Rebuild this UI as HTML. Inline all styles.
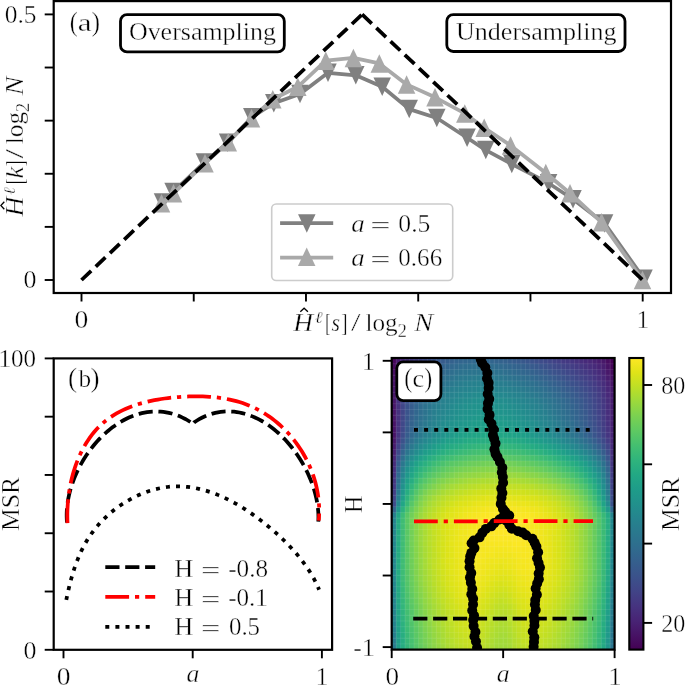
<!DOCTYPE html>
<html><head><meta charset="utf-8"><style>
html,body{margin:0;padding:0;background:#fff;}
svg{display:block;font-family:"Liberation Serif",serif;will-change:transform;}
text{stroke:#fff;stroke-width:0.4px;paint-order:fill stroke;}
</style></head><body>
<svg width="685" height="685" viewBox="0 0 685 685">
<rect width="685" height="685" fill="#fff"/>
<g>
<rect x="53.7" y="1.1" width="617.3" height="291.9" fill="none" stroke="#000" stroke-width="2.2"/>
<line x1="81.5" y1="293" x2="81.5" y2="301.5" stroke="#000" stroke-width="1.9"/>
<line x1="44.7" y1="280" x2="53.7" y2="280" stroke="#000" stroke-width="1.9"/>
<line x1="193.74" y1="293" x2="193.74" y2="301.5" stroke="#000" stroke-width="1.9"/>
<line x1="44.7" y1="226.88" x2="53.7" y2="226.88" stroke="#000" stroke-width="1.9"/>
<line x1="305.98" y1="293" x2="305.98" y2="301.5" stroke="#000" stroke-width="1.9"/>
<line x1="44.7" y1="173.76" x2="53.7" y2="173.76" stroke="#000" stroke-width="1.9"/>
<line x1="418.22" y1="293" x2="418.22" y2="301.5" stroke="#000" stroke-width="1.9"/>
<line x1="44.7" y1="120.64" x2="53.7" y2="120.64" stroke="#000" stroke-width="1.9"/>
<line x1="530.46" y1="293" x2="530.46" y2="301.5" stroke="#000" stroke-width="1.9"/>
<line x1="44.7" y1="67.52" x2="53.7" y2="67.52" stroke="#000" stroke-width="1.9"/>
<line x1="642.7" y1="293" x2="642.7" y2="301.5" stroke="#000" stroke-width="1.9"/>
<line x1="44.7" y1="14.4" x2="53.7" y2="14.4" stroke="#000" stroke-width="1.9"/>
<polyline points="162.5,202.5 173.1,192.1 204.4,162.4 227.6,142.7 251.8,117.3 273.8,103.2 300,94 328,72.8 355.8,75.3 382.2,86.7 409.2,109.1 436.8,118 467.1,137.7 485.8,150.1 511.8,164 548.6,183.2 573,199.3 604.6,223.4 644,278.8" fill="none" stroke="#808080" stroke-width="3.75" stroke-linejoin="round"/>
<path d="M153.75,193.25L171.25,193.25L162.5,211.75Z" fill="#808080"/>
<path d="M164.35,182.85L181.85,182.85L173.1,201.35Z" fill="#808080"/>
<path d="M195.65,153.15L213.15,153.15L204.4,171.65Z" fill="#808080"/>
<path d="M218.85,133.45L236.35,133.45L227.6,151.95Z" fill="#808080"/>
<path d="M243.05,108.05L260.55,108.05L251.8,126.55Z" fill="#808080"/>
<path d="M265.05,93.95L282.55,93.95L273.8,112.45Z" fill="#808080"/>
<path d="M291.25,84.75L308.75,84.75L300,103.25Z" fill="#808080"/>
<path d="M319.25,63.55L336.75,63.55L328,82.05Z" fill="#808080"/>
<path d="M347.05,66.05L364.55,66.05L355.8,84.55Z" fill="#808080"/>
<path d="M373.45,77.45L390.95,77.45L382.2,95.95Z" fill="#808080"/>
<path d="M400.45,99.85L417.95,99.85L409.2,118.35Z" fill="#808080"/>
<path d="M428.05,108.75L445.55,108.75L436.8,127.25Z" fill="#808080"/>
<path d="M458.35,128.45L475.85,128.45L467.1,146.95Z" fill="#808080"/>
<path d="M477.05,140.85L494.55,140.85L485.8,159.35Z" fill="#808080"/>
<path d="M503.05,154.75L520.55,154.75L511.8,173.25Z" fill="#808080"/>
<path d="M539.85,173.95L557.35,173.95L548.6,192.45Z" fill="#808080"/>
<path d="M564.25,190.05L581.75,190.05L573,208.55Z" fill="#808080"/>
<path d="M595.85,214.15L613.35,214.15L604.6,232.65Z" fill="#808080"/>
<path d="M635.25,269.55L652.75,269.55L644,288.05Z" fill="#808080"/>
<polyline points="161.5,203.2 173.5,193.3 205,163.3 228.3,142.2 251.5,118.2 272.8,99.3 297.8,86.8 325.8,60.7 353.4,57.9 379.3,63.4 406.6,84.4 435,97.3 464.8,113.4 484.2,127.7 510.6,145.5 545.8,173 570,193.2 601.6,222.3 642.5,280" fill="none" stroke="#a9a9a9" stroke-width="3.75" stroke-linejoin="round"/>
<path d="M152.75,212.45L170.25,212.45L161.5,193.95Z" fill="#a9a9a9"/>
<path d="M164.75,202.55L182.25,202.55L173.5,184.05Z" fill="#a9a9a9"/>
<path d="M196.25,172.55L213.75,172.55L205,154.05Z" fill="#a9a9a9"/>
<path d="M219.55,151.45L237.05,151.45L228.3,132.95Z" fill="#a9a9a9"/>
<path d="M242.75,127.45L260.25,127.45L251.5,108.95Z" fill="#a9a9a9"/>
<path d="M264.05,108.55L281.55,108.55L272.8,90.05Z" fill="#a9a9a9"/>
<path d="M289.05,96.05L306.55,96.05L297.8,77.55Z" fill="#a9a9a9"/>
<path d="M317.05,69.95L334.55,69.95L325.8,51.45Z" fill="#a9a9a9"/>
<path d="M344.65,67.15L362.15,67.15L353.4,48.65Z" fill="#a9a9a9"/>
<path d="M370.55,72.65L388.05,72.65L379.3,54.15Z" fill="#a9a9a9"/>
<path d="M397.85,93.65L415.35,93.65L406.6,75.15Z" fill="#a9a9a9"/>
<path d="M426.25,106.55L443.75,106.55L435,88.05Z" fill="#a9a9a9"/>
<path d="M456.05,122.65L473.55,122.65L464.8,104.15Z" fill="#a9a9a9"/>
<path d="M475.45,136.95L492.95,136.95L484.2,118.45Z" fill="#a9a9a9"/>
<path d="M501.85,154.75L519.35,154.75L510.6,136.25Z" fill="#a9a9a9"/>
<path d="M537.05,182.25L554.55,182.25L545.8,163.75Z" fill="#a9a9a9"/>
<path d="M561.25,202.45L578.75,202.45L570,183.95Z" fill="#a9a9a9"/>
<path d="M592.85,231.55L610.35,231.55L601.6,213.05Z" fill="#a9a9a9"/>
<path d="M633.75,289.25L651.25,289.25L642.5,270.75Z" fill="#a9a9a9"/>
<polyline points="81.5,280 362.1,14.4" fill="none" stroke="#000" stroke-width="3.75" stroke-dasharray="13.3 6.3"/>
<polyline points="362.1,14.4 642.7,280" fill="none" stroke="#000" stroke-width="3.75" stroke-dasharray="13.3 6.3"/>
<rect x="271.7" y="204" width="181" height="76.5" rx="4.5" fill="#fff" fill-opacity="0.8" stroke="#cccccc" stroke-width="1.6"/>
<line x1="280.1" y1="223" x2="333.2" y2="223" stroke="#808080" stroke-width="3.75"/>
<path d="M298.05,214.35L315.55,214.35L306.8,232.85Z" fill="#808080"/>
<line x1="280.1" y1="257.7" x2="333.2" y2="257.7" stroke="#a9a9a9" stroke-width="3.75"/>
<path d="M297.95,265.95L315.45,265.95L306.7,247.45Z" fill="#a9a9a9"/>
<text x="351.19" y="232" font-size="24.4" font-style="italic" textLength="13.52" lengthAdjust="spacingAndGlyphs" fill="#000">a</text>
<text x="370.2" y="234.1" font-size="24.4" textLength="20.36" lengthAdjust="spacingAndGlyphs" fill="#000">=</text>
<text x="398.32" y="232" font-size="24.4" textLength="32.08" lengthAdjust="spacingAndGlyphs" fill="#000">0.5</text>
<text x="351.19" y="265.6" font-size="24.4" font-style="italic" textLength="13.52" lengthAdjust="spacingAndGlyphs" fill="#000">a</text>
<text x="370.2" y="267.7" font-size="24.4" textLength="20.36" lengthAdjust="spacingAndGlyphs" fill="#000">=</text>
<text x="398.35" y="265.6" font-size="24.4" textLength="43.8" lengthAdjust="spacingAndGlyphs" fill="#000">0.66</text>
<rect x="120.5" y="14.7" width="163.8" height="37.2" rx="6.5" fill="#fff" stroke="#000" stroke-width="2.8"/>
<text x="128.9" y="39.7" font-size="25.8" text-anchor="start" textLength="147.1" lengthAdjust="spacingAndGlyphs" fill="#000">Oversampling</text>
<rect x="446.8" y="14.7" width="178.2" height="36.8" rx="6.5" fill="#fff" stroke="#000" stroke-width="2.8"/>
<text x="456" y="39.5" font-size="25.8" text-anchor="start" textLength="160.6" lengthAdjust="spacingAndGlyphs" fill="#000">Undersampling</text>
<text x="69.84" y="30.8" font-size="27.2" textLength="8.04" lengthAdjust="spacingAndGlyphs" fill="#000">(</text>
<text x="77.71" y="30.8" font-size="25.8" textLength="13.82" lengthAdjust="spacingAndGlyphs" fill="#000">a</text>
<text x="91.57" y="30.8" font-size="27.2" textLength="8.56" lengthAdjust="spacingAndGlyphs" fill="#000">)</text>
<text x="74.55" y="327.5" font-size="25.8" textLength="13.8" lengthAdjust="spacingAndGlyphs" fill="#000">0</text>
<text x="636.68" y="327.5" font-size="25.8" textLength="12.07" lengthAdjust="spacingAndGlyphs" fill="#000">1</text>
<text x="4.73" y="23.2" font-size="25.8" textLength="31.76" lengthAdjust="spacingAndGlyphs" fill="#000">0.5</text>
<text x="23.51" y="288.3" font-size="25.8" textLength="12.98" lengthAdjust="spacingAndGlyphs" fill="#000">0</text>
<g transform="translate(292.9,330.6)">
<text x="0.3" y="0" font-size="25.8" font-style="italic" textLength="19.87" lengthAdjust="spacingAndGlyphs" fill="#000">H</text>
<path d="M7.4,-18.9L11.2,-22.4L15,-18.9" fill="none" stroke="#000" stroke-width="1.3"/>
<text x="21.81" y="-7.9" font-size="16.5" font-style="italic" textLength="7.88" lengthAdjust="spacingAndGlyphs" fill="#000">ℓ</text>
<text x="32.43" y="0" font-size="25.8" textLength="5.23" lengthAdjust="spacingAndGlyphs" fill="#000">[</text>
<text x="38.63" y="0" font-size="25.8" font-style="italic" textLength="8.53" lengthAdjust="spacingAndGlyphs" fill="#000">s</text>
<text x="48.42" y="0" font-size="25.8" textLength="6.28" lengthAdjust="spacingAndGlyphs" fill="#000">]</text>
<text x="58.2" y="0" font-size="25.8" textLength="9.5" lengthAdjust="spacingAndGlyphs" fill="#000">/</text>
<text x="72.5" y="0" font-size="25.8" textLength="32.18" lengthAdjust="spacingAndGlyphs" fill="#000">log</text>
<text x="104.57" y="6.2" font-size="17.8" textLength="9.48" lengthAdjust="spacingAndGlyphs" fill="#000">2</text>
<text x="121.41" y="0" font-size="25.8" font-style="italic" textLength="18.88" lengthAdjust="spacingAndGlyphs" fill="#000">N</text>
</g>
<g transform="translate(23.2,216.7) rotate(-90)">
<text x="0.3" y="0" font-size="25.8" font-style="italic" textLength="19.87" lengthAdjust="spacingAndGlyphs" fill="#000">H</text>
<path d="M7.4,-18.9L11.2,-22.4L15,-18.9" fill="none" stroke="#000" stroke-width="1.3"/>
<text x="21.81" y="-7.9" font-size="16.5" font-style="italic" textLength="7.88" lengthAdjust="spacingAndGlyphs" fill="#000">ℓ</text>
<text x="32.43" y="0" font-size="25.8" textLength="5.23" lengthAdjust="spacingAndGlyphs" fill="#000">[</text>
<text x="38.14" y="0" font-size="25.8" font-style="italic" textLength="11.78" lengthAdjust="spacingAndGlyphs" fill="#000">k</text>
<text x="50.22" y="0" font-size="25.8" textLength="6.28" lengthAdjust="spacingAndGlyphs" fill="#000">]</text>
<text x="58.2" y="0" font-size="25.8" textLength="9.5" lengthAdjust="spacingAndGlyphs" fill="#000">/</text>
<text x="72.5" y="0" font-size="25.8" textLength="32.18" lengthAdjust="spacingAndGlyphs" fill="#000">log</text>
<text x="104.57" y="6.2" font-size="17.8" textLength="9.48" lengthAdjust="spacingAndGlyphs" fill="#000">2</text>
<text x="121.41" y="0" font-size="25.8" font-style="italic" textLength="18.88" lengthAdjust="spacingAndGlyphs" fill="#000">N</text>
</g>
</g>
<g>
<rect x="53.7" y="358.4" width="278.4" height="291.4" fill="none" stroke="#000" stroke-width="2.2"/>
<line x1="63.5" y1="649.8" x2="63.5" y2="658.3" stroke="#000" stroke-width="1.9"/>
<line x1="192.7" y1="649.8" x2="192.7" y2="658.3" stroke="#000" stroke-width="1.9"/>
<line x1="321.9" y1="649.8" x2="321.9" y2="658.3" stroke="#000" stroke-width="1.9"/>
<line x1="44.7" y1="649.8" x2="53.7" y2="649.8" stroke="#000" stroke-width="1.9"/>
<line x1="44.7" y1="591.52" x2="53.7" y2="591.52" stroke="#000" stroke-width="1.9"/>
<line x1="44.7" y1="533.24" x2="53.7" y2="533.24" stroke="#000" stroke-width="1.9"/>
<line x1="44.7" y1="474.96" x2="53.7" y2="474.96" stroke="#000" stroke-width="1.9"/>
<line x1="44.7" y1="416.68" x2="53.7" y2="416.68" stroke="#000" stroke-width="1.9"/>
<line x1="44.7" y1="358.4" x2="53.7" y2="358.4" stroke="#000" stroke-width="1.9"/>
<polyline points="67.01,522.5 66.81,519.86 66.7,517.19 66.68,514.51 66.75,511.8 66.9,509.08 67.15,506.34 67.48,503.6 67.89,500.84 68.39,498.08 68.97,495.31 69.62,492.55 70.36,489.78 71.17,487.03 72.06,484.28 73.02,481.54 74.05,478.81 75.16,476.1 76.33,473.4 77.57,470.73 78.88,468.09 80.25,465.46 81.69,462.87 83.19,460.31 84.75,457.79 86.37,455.3 88.04,452.85 89.78,450.45 91.56,448.09 93.41,445.78 95.3,443.52 97.24,441.31 99.24,439.16 101.28,437.07 103.36,435.04 105.49,433.08 107.67,431.18 109.88,429.36 112.14,427.6 114.44,425.92 116.77,424.32 119.14,422.8 121.54,421.36 123.98,420.01 126.44,418.75 128.94,417.58 131.47,416.51 134.02,415.53 136.6,414.65 139.21,413.87 141.83,413.2 144.48,412.64 147.14,412.18 149.82,411.84 152.51,411.62 155.21,411.51 157.93,411.53 160.65,411.67 163.38,411.94 166.12,412.33 168.86,412.86 171.6,413.53 174.33,414.33 177.07,415.27 179.8,416.35 182.53,417.58 185.24,418.96 187.95,420.49 190.64,422.17 192.2,424.6 194.02,422.5 196.62,420.76 199.24,419.19 201.87,417.77 204.53,416.5 207.2,415.38 209.88,414.4 212.56,413.57 215.26,412.88 217.96,412.33 220.66,411.91 223.37,411.62 226.07,411.46 228.76,411.43 231.45,411.53 234.13,411.74 236.79,412.07 239.44,412.52 242.07,413.07 244.69,413.74 247.28,414.51 249.85,415.39 252.39,416.37 254.91,417.45 257.39,418.62 259.85,419.88 262.28,421.24 264.68,422.68 267.04,424.2 269.37,425.81 271.66,427.49 273.92,429.25 276.13,431.09 278.31,432.99 280.44,434.96 282.53,436.99 284.58,439.09 286.58,441.24 288.53,443.45 290.44,445.71 292.29,448.03 294.09,450.38 295.84,452.79 297.54,455.24 299.18,457.72 300.76,460.24 302.29,462.8 303.76,465.38 305.16,467.99 306.5,470.63 307.78,473.29 308.99,475.97 310.14,478.66 311.22,481.37 312.23,484.09 313.17,486.81 314.04,489.55 314.83,492.28 315.55,495.01 316.19,497.74 316.75,500.46 317.24,503.18 317.65,505.88 317.97,508.57 318.21,511.24 318.37,513.89 318.44,516.52 318.42,519.12 318.31,521.69" fill="none" stroke="#000" stroke-width="3.75" stroke-dasharray="14.2 5.7"/>
<polyline points="67.51,523.09 67.38,519.87 67.33,516.61 67.34,513.3 67.43,509.95 67.59,506.57 67.82,503.16 68.14,499.73 68.52,496.28 68.99,492.82 69.54,489.35 70.17,485.89 70.87,482.43 71.66,478.98 72.54,475.54 73.5,472.13 74.54,468.75 75.67,465.4 76.89,462.08 78.2,458.81 79.6,455.59 81.09,452.43 82.66,449.33 84.33,446.29 86.08,443.32 87.92,440.43 89.84,437.63 91.85,434.91 93.95,432.29 96.14,429.76 98.41,427.34 100.77,425.03 103.21,422.83 105.73,420.75 108.33,418.77 111,416.9 113.74,415.12 116.56,413.45 119.43,411.88 122.37,410.4 125.37,409.01 128.42,407.71 131.52,406.49 134.67,405.36 137.86,404.31 141.1,403.34 144.37,402.44 147.68,401.62 151.02,400.87 154.39,400.18 157.78,399.56 161.2,399.01 164.63,398.51 168.08,398.07 171.55,397.68 175.02,397.35 178.49,397.06 181.97,396.82 185.45,396.63 188.93,396.48 192.4,396.39 195.86,396.35 199.32,396.37 202.77,396.45 206.2,396.6 209.62,396.81 213.03,397.08 216.41,397.43 219.78,397.85 223.12,398.35 226.45,398.92 229.74,399.58 233.01,400.32 236.24,401.15 239.45,402.07 242.62,403.08 245.75,404.18 248.85,405.39 251.91,406.69 254.92,408.1 257.9,409.6 260.82,411.21 263.7,412.91 266.53,414.7 269.31,416.58 272.03,418.55 274.7,420.6 277.31,422.74 279.87,424.96 282.36,427.26 284.78,429.63 287.15,432.08 289.44,434.59 291.67,437.18 293.82,439.83 295.9,442.55 297.91,445.33 299.84,448.16 301.69,451.06 303.45,454 305.14,457 306.74,460.05 308.25,463.14 309.68,466.28 311.01,469.47 312.25,472.69 313.4,475.95 314.45,479.24 315.4,482.57 316.24,485.92 316.99,489.31 317.63,492.72 318.17,496.15 318.59,499.6 318.91,503.07 319.11,506.56 319.2,510.06 319.17,513.57 319.03,517.08 318.76,520.61" fill="none" stroke="#ff0000" stroke-width="3.75" stroke-dasharray="23.8 5.9 4.2 6"/>
<polyline points="66.31,599.94 66.91,596.98 67.53,594.03 68.18,591.07 68.86,588.12 69.57,585.18 70.31,582.25 71.09,579.33 71.9,576.42 72.76,573.52 73.65,570.64 74.59,567.78 75.58,564.94 76.62,562.12 77.71,559.32 78.85,556.55 80.04,553.8 81.3,551.08 82.61,548.4 83.99,545.74 85.43,543.12 86.93,540.54 88.51,537.99 90.16,535.48 91.88,533.01 93.68,530.59 95.54,528.21 97.48,525.88 99.49,523.59 101.56,521.36 103.69,519.18 105.89,517.05 108.14,514.97 110.45,512.96 112.81,511 115.22,509.1 117.67,507.27 120.18,505.5 122.72,503.79 125.31,502.16 127.93,500.59 130.59,499.1 133.28,497.68 136,496.33 138.76,495.06 141.53,493.87 144.33,492.77 147.15,491.74 149.99,490.79 152.84,489.94 155.71,489.17 158.59,488.49 161.47,487.9 164.36,487.4 167.26,487 170.15,486.7 173.05,486.49 175.94,486.39 178.82,486.37 181.7,486.46 184.58,486.63 187.45,486.9 190.31,487.25 193.17,487.69 196.02,488.21 198.86,488.81 201.69,489.5 204.51,490.25 207.33,491.09 210.13,491.99 212.92,492.97 215.69,494.02 218.46,495.13 221.21,496.3 223.95,497.54 226.67,498.83 229.38,500.19 232.07,501.6 234.74,503.06 237.4,504.57 240.04,506.13 242.66,507.74 245.26,509.4 247.84,511.09 250.41,512.83 252.95,514.6 255.47,516.41 257.97,518.26 260.44,520.13 262.89,522.03 265.32,523.97 267.72,525.92 270.1,527.9 272.45,529.9 274.77,531.93 277.07,533.97 279.33,536.03 281.56,538.12 283.76,540.23 285.92,542.36 288.04,544.51 290.12,546.69 292.16,548.88 294.16,551.1 296.12,553.34 298.03,555.6 299.89,557.89 301.71,560.19 303.47,562.52 305.18,564.87 306.84,567.25 308.45,569.64 309.99,572.06 311.48,574.51 312.9,576.97 314.27,579.46 315.57,581.97 316.81,584.5 317.98,587.06 319.08,589.64" fill="none" stroke="#000" stroke-width="3.75" stroke-dasharray="4 6.1"/>
<line x1="105.3" y1="567.2" x2="155.2" y2="567.2" stroke="#000" stroke-width="3.75" stroke-dasharray="14.2 5.7"/>
<line x1="105.3" y1="596.9" x2="155.2" y2="596.9" stroke="#ff0000" stroke-width="3.75" stroke-dasharray="23.8 5.9 4.2 6"/>
<line x1="105.3" y1="626.8" x2="155.2" y2="626.8" stroke="#000" stroke-width="3.75" stroke-dasharray="4 6.1"/>
<text x="174.34" y="576.6" font-size="25.2" textLength="19.03" lengthAdjust="spacingAndGlyphs" fill="#000">H</text>
<text x="201.08" y="578.5" font-size="25.2" textLength="19.51" lengthAdjust="spacingAndGlyphs" fill="#000">=</text>
<text x="228.16" y="576.6" font-size="25.2" textLength="39.9" lengthAdjust="spacingAndGlyphs" fill="#000">-0.8</text>
<text x="174.34" y="606.1" font-size="25.2" textLength="19.03" lengthAdjust="spacingAndGlyphs" fill="#000">H</text>
<text x="201.08" y="608" font-size="25.2" textLength="19.51" lengthAdjust="spacingAndGlyphs" fill="#000">=</text>
<text x="228.17" y="606.1" font-size="25.2" textLength="39.74" lengthAdjust="spacingAndGlyphs" fill="#000">-0.1</text>
<text x="174.34" y="635.3" font-size="25.2" textLength="19.03" lengthAdjust="spacingAndGlyphs" fill="#000">H</text>
<text x="201.08" y="637.2" font-size="25.2" textLength="19.51" lengthAdjust="spacingAndGlyphs" fill="#000">=</text>
<text x="228.95" y="635.3" font-size="25.2" textLength="31.12" lengthAdjust="spacingAndGlyphs" fill="#000">0.5</text>
<text x="68.1" y="387.3" font-size="26.9" textLength="9.08" lengthAdjust="spacingAndGlyphs" fill="#000">(</text>
<text x="78.6" y="386.8" font-size="25.8" textLength="12.66" lengthAdjust="spacingAndGlyphs" fill="#000">b</text>
<text x="90.62" y="387.3" font-size="26.9" textLength="9.08" lengthAdjust="spacingAndGlyphs" fill="#000">)</text>
<text x="-1.6" y="366.9" font-size="25.8" textLength="37.55" lengthAdjust="spacingAndGlyphs" fill="#000">100</text>
<text x="23.51" y="658.6" font-size="25.8" textLength="12.98" lengthAdjust="spacingAndGlyphs" fill="#000">0</text>
<text x="56.85" y="685.2" font-size="25.8" textLength="13.8" lengthAdjust="spacingAndGlyphs" fill="#000">0</text>
<text x="192.9" y="681.5" font-size="25.8" text-anchor="middle" font-style="italic" fill="#000">a</text>
<text x="315.63" y="685" font-size="25.8" textLength="12.36" lengthAdjust="spacingAndGlyphs" fill="#000">1</text>
<g transform="translate(19,530.9) rotate(-90)"><text x="0" y="0" font-size="25.8" textLength="54.1" lengthAdjust="spacingAndGlyphs">MSR</text></g>
</g>
<g>
<rect x="391.7" y="358" width="5.06" height="6.32" fill="#46075a"/>
<rect x="396.16" y="358" width="5.06" height="6.32" fill="#481b6d"/>
<rect x="400.62" y="358" width="5.06" height="6.32" fill="#472a7a"/>
<rect x="405.07" y="358" width="5.06" height="6.32" fill="#46337f"/>
<rect x="409.53" y="358" width="5.06" height="6.32" fill="#443b84"/>
<rect x="413.99" y="358" width="5.06" height="6.32" fill="#424186"/>
<rect x="418.45" y="358" width="5.06" height="6.32" fill="#404688"/>
<rect x="422.91" y="358" width="5.06" height="6.32" fill="#3e4c8a"/>
<rect x="427.36" y="358" width="5.06" height="6.32" fill="#3c508b"/>
<rect x="431.82" y="358" width="5.06" height="6.32" fill="#3a548c"/>
<rect x="436.28" y="358" width="5.06" height="6.32" fill="#38598c"/>
<rect x="440.74" y="358" width="5.06" height="6.32" fill="#375b8d"/>
<rect x="445.2" y="358" width="5.06" height="6.32" fill="#355e8d"/>
<rect x="449.65" y="358" width="5.06" height="6.32" fill="#34618d"/>
<rect x="454.11" y="358" width="5.06" height="6.32" fill="#32648e"/>
<rect x="458.57" y="358" width="5.06" height="6.32" fill="#32658e"/>
<rect x="463.03" y="358" width="5.06" height="6.32" fill="#31668e"/>
<rect x="467.49" y="358" width="5.06" height="6.32" fill="#31678e"/>
<rect x="471.94" y="358" width="5.06" height="6.32" fill="#31688e"/>
<rect x="476.4" y="358" width="5.06" height="6.32" fill="#30698e"/>
<rect x="480.86" y="358" width="5.06" height="6.32" fill="#31678e"/>
<rect x="485.32" y="358" width="5.06" height="6.32" fill="#31668e"/>
<rect x="489.78" y="358" width="5.06" height="6.32" fill="#32658e"/>
<rect x="494.23" y="358" width="5.06" height="6.32" fill="#33638d"/>
<rect x="498.69" y="358" width="5.06" height="6.32" fill="#33628d"/>
<rect x="503.15" y="358" width="5.06" height="6.32" fill="#34618d"/>
<rect x="507.61" y="358" width="5.06" height="6.32" fill="#355e8d"/>
<rect x="512.07" y="358" width="5.06" height="6.32" fill="#365c8d"/>
<rect x="516.52" y="358" width="5.06" height="6.32" fill="#375a8c"/>
<rect x="520.98" y="358" width="5.06" height="6.32" fill="#38588c"/>
<rect x="525.44" y="358" width="5.06" height="6.32" fill="#39558c"/>
<rect x="529.9" y="358" width="5.06" height="6.32" fill="#3b528b"/>
<rect x="534.36" y="358" width="5.06" height="6.32" fill="#3c4f8a"/>
<rect x="538.81" y="358" width="5.06" height="6.32" fill="#3e4c8a"/>
<rect x="543.27" y="358" width="5.06" height="6.32" fill="#3e4989"/>
<rect x="547.73" y="358" width="5.06" height="6.32" fill="#404688"/>
<rect x="552.19" y="358" width="5.06" height="6.32" fill="#414287"/>
<rect x="556.65" y="358" width="5.06" height="6.32" fill="#423f85"/>
<rect x="561.1" y="358" width="5.06" height="6.32" fill="#443b84"/>
<rect x="565.56" y="358" width="5.06" height="6.32" fill="#443983"/>
<rect x="570.02" y="358" width="5.06" height="6.32" fill="#453581"/>
<rect x="574.48" y="358" width="5.06" height="6.32" fill="#46327e"/>
<rect x="578.94" y="358" width="5.06" height="6.32" fill="#472e7c"/>
<rect x="583.39" y="358" width="5.06" height="6.32" fill="#472a7a"/>
<rect x="587.85" y="358" width="5.06" height="6.32" fill="#482878"/>
<rect x="592.31" y="358" width="5.06" height="6.32" fill="#482374"/>
<rect x="596.77" y="358" width="5.06" height="6.32" fill="#481d6f"/>
<rect x="601.23" y="358" width="5.06" height="6.32" fill="#48186a"/>
<rect x="605.68" y="358" width="5.06" height="6.32" fill="#470d60"/>
<rect x="610.14" y="358" width="4.46" height="6.32" fill="#440154"/>
<rect x="391.7" y="363.72" width="5.06" height="6.32" fill="#460b5e"/>
<rect x="396.16" y="363.72" width="5.06" height="6.32" fill="#482071"/>
<rect x="400.62" y="363.72" width="5.06" height="6.32" fill="#472f7d"/>
<rect x="405.07" y="363.72" width="5.06" height="6.32" fill="#443983"/>
<rect x="409.53" y="363.72" width="5.06" height="6.32" fill="#424186"/>
<rect x="413.99" y="363.72" width="5.06" height="6.32" fill="#3f4889"/>
<rect x="418.45" y="363.72" width="5.06" height="6.32" fill="#3d4d8a"/>
<rect x="422.91" y="363.72" width="5.06" height="6.32" fill="#3b528b"/>
<rect x="427.36" y="363.72" width="5.06" height="6.32" fill="#39568c"/>
<rect x="431.82" y="363.72" width="5.06" height="6.32" fill="#375b8d"/>
<rect x="436.28" y="363.72" width="5.06" height="6.32" fill="#355f8d"/>
<rect x="440.74" y="363.72" width="5.06" height="6.32" fill="#33628d"/>
<rect x="445.2" y="363.72" width="5.06" height="6.32" fill="#32658e"/>
<rect x="449.65" y="363.72" width="5.06" height="6.32" fill="#31688e"/>
<rect x="454.11" y="363.72" width="5.06" height="6.32" fill="#306a8e"/>
<rect x="458.57" y="363.72" width="5.06" height="6.32" fill="#2f6c8e"/>
<rect x="463.03" y="363.72" width="5.06" height="6.32" fill="#2e6d8e"/>
<rect x="467.49" y="363.72" width="5.06" height="6.32" fill="#2e6e8e"/>
<rect x="471.94" y="363.72" width="5.06" height="6.32" fill="#2e6f8e"/>
<rect x="476.4" y="363.72" width="5.06" height="6.32" fill="#2d708e"/>
<rect x="480.86" y="363.72" width="5.06" height="6.32" fill="#2e6e8e"/>
<rect x="485.32" y="363.72" width="5.06" height="6.32" fill="#2e6d8e"/>
<rect x="489.78" y="363.72" width="5.06" height="6.32" fill="#2f6c8e"/>
<rect x="494.23" y="363.72" width="5.06" height="6.32" fill="#2f6b8e"/>
<rect x="498.69" y="363.72" width="5.06" height="6.32" fill="#306a8e"/>
<rect x="503.15" y="363.72" width="5.06" height="6.32" fill="#31688e"/>
<rect x="507.61" y="363.72" width="5.06" height="6.32" fill="#31668e"/>
<rect x="512.07" y="363.72" width="5.06" height="6.32" fill="#32648e"/>
<rect x="516.52" y="363.72" width="5.06" height="6.32" fill="#33628d"/>
<rect x="520.98" y="363.72" width="5.06" height="6.32" fill="#34608d"/>
<rect x="525.44" y="363.72" width="5.06" height="6.32" fill="#365d8d"/>
<rect x="529.9" y="363.72" width="5.06" height="6.32" fill="#375b8d"/>
<rect x="534.36" y="363.72" width="5.06" height="6.32" fill="#38588c"/>
<rect x="538.81" y="363.72" width="5.06" height="6.32" fill="#3a548c"/>
<rect x="543.27" y="363.72" width="5.06" height="6.32" fill="#3b518b"/>
<rect x="547.73" y="363.72" width="5.06" height="6.32" fill="#3d4e8a"/>
<rect x="552.19" y="363.72" width="5.06" height="6.32" fill="#3e4a89"/>
<rect x="556.65" y="363.72" width="5.06" height="6.32" fill="#3f4788"/>
<rect x="561.1" y="363.72" width="5.06" height="6.32" fill="#414487"/>
<rect x="565.56" y="363.72" width="5.06" height="6.32" fill="#424186"/>
<rect x="570.02" y="363.72" width="5.06" height="6.32" fill="#433e85"/>
<rect x="574.48" y="363.72" width="5.06" height="6.32" fill="#443a83"/>
<rect x="578.94" y="363.72" width="5.06" height="6.32" fill="#453781"/>
<rect x="583.39" y="363.72" width="5.06" height="6.32" fill="#46327e"/>
<rect x="587.85" y="363.72" width="5.06" height="6.32" fill="#472e7c"/>
<rect x="592.31" y="363.72" width="5.06" height="6.32" fill="#472a7a"/>
<rect x="596.77" y="363.72" width="5.06" height="6.32" fill="#482475"/>
<rect x="601.23" y="363.72" width="5.06" height="6.32" fill="#481f70"/>
<rect x="605.68" y="363.72" width="5.06" height="6.32" fill="#471365"/>
<rect x="610.14" y="363.72" width="4.46" height="6.32" fill="#450559"/>
<rect x="391.7" y="369.44" width="5.06" height="6.32" fill="#470e61"/>
<rect x="396.16" y="369.44" width="5.06" height="6.32" fill="#482475"/>
<rect x="400.62" y="369.44" width="5.06" height="6.32" fill="#463480"/>
<rect x="405.07" y="369.44" width="5.06" height="6.32" fill="#433e85"/>
<rect x="409.53" y="369.44" width="5.06" height="6.32" fill="#3f4788"/>
<rect x="413.99" y="369.44" width="5.06" height="6.32" fill="#3d4e8a"/>
<rect x="418.45" y="369.44" width="5.06" height="6.32" fill="#3a538b"/>
<rect x="422.91" y="369.44" width="5.06" height="6.32" fill="#38598c"/>
<rect x="427.36" y="369.44" width="5.06" height="6.32" fill="#365d8d"/>
<rect x="431.82" y="369.44" width="5.06" height="6.32" fill="#34618d"/>
<rect x="436.28" y="369.44" width="5.06" height="6.32" fill="#32658e"/>
<rect x="440.74" y="369.44" width="5.06" height="6.32" fill="#31688e"/>
<rect x="445.2" y="369.44" width="5.06" height="6.32" fill="#2f6b8e"/>
<rect x="449.65" y="369.44" width="5.06" height="6.32" fill="#2e6e8e"/>
<rect x="454.11" y="369.44" width="5.06" height="6.32" fill="#2d718e"/>
<rect x="458.57" y="369.44" width="5.06" height="6.32" fill="#2c728e"/>
<rect x="463.03" y="369.44" width="5.06" height="6.32" fill="#2c738e"/>
<rect x="467.49" y="369.44" width="5.06" height="6.32" fill="#2b748e"/>
<rect x="471.94" y="369.44" width="5.06" height="6.32" fill="#2b748e"/>
<rect x="476.4" y="369.44" width="5.06" height="6.32" fill="#2b758e"/>
<rect x="480.86" y="369.44" width="5.06" height="6.32" fill="#2b748e"/>
<rect x="485.32" y="369.44" width="5.06" height="6.32" fill="#2c738e"/>
<rect x="489.78" y="369.44" width="5.06" height="6.32" fill="#2c728e"/>
<rect x="494.23" y="369.44" width="5.06" height="6.32" fill="#2c718e"/>
<rect x="498.69" y="369.44" width="5.06" height="6.32" fill="#2d718e"/>
<rect x="503.15" y="369.44" width="5.06" height="6.32" fill="#2e6f8e"/>
<rect x="507.61" y="369.44" width="5.06" height="6.32" fill="#2e6d8e"/>
<rect x="512.07" y="369.44" width="5.06" height="6.32" fill="#2f6b8e"/>
<rect x="516.52" y="369.44" width="5.06" height="6.32" fill="#30698e"/>
<rect x="520.98" y="369.44" width="5.06" height="6.32" fill="#31678e"/>
<rect x="525.44" y="369.44" width="5.06" height="6.32" fill="#32658e"/>
<rect x="529.9" y="369.44" width="5.06" height="6.32" fill="#33628d"/>
<rect x="534.36" y="369.44" width="5.06" height="6.32" fill="#355f8d"/>
<rect x="538.81" y="369.44" width="5.06" height="6.32" fill="#365c8d"/>
<rect x="543.27" y="369.44" width="5.06" height="6.32" fill="#38598c"/>
<rect x="547.73" y="369.44" width="5.06" height="6.32" fill="#39558c"/>
<rect x="552.19" y="369.44" width="5.06" height="6.32" fill="#3b528b"/>
<rect x="556.65" y="369.44" width="5.06" height="6.32" fill="#3c4f8a"/>
<rect x="561.1" y="369.44" width="5.06" height="6.32" fill="#3e4c8a"/>
<rect x="565.56" y="369.44" width="5.06" height="6.32" fill="#3f4889"/>
<rect x="570.02" y="369.44" width="5.06" height="6.32" fill="#404588"/>
<rect x="574.48" y="369.44" width="5.06" height="6.32" fill="#424186"/>
<rect x="578.94" y="369.44" width="5.06" height="6.32" fill="#433d84"/>
<rect x="583.39" y="369.44" width="5.06" height="6.32" fill="#443983"/>
<rect x="587.85" y="369.44" width="5.06" height="6.32" fill="#453581"/>
<rect x="592.31" y="369.44" width="5.06" height="6.32" fill="#46307e"/>
<rect x="596.77" y="369.44" width="5.06" height="6.32" fill="#472a7a"/>
<rect x="601.23" y="369.44" width="5.06" height="6.32" fill="#482475"/>
<rect x="605.68" y="369.44" width="5.06" height="6.32" fill="#48186a"/>
<rect x="610.14" y="369.44" width="4.46" height="6.32" fill="#460b5e"/>
<rect x="391.7" y="375.15" width="5.06" height="6.32" fill="#471164"/>
<rect x="396.16" y="375.15" width="5.06" height="6.32" fill="#482979"/>
<rect x="400.62" y="375.15" width="5.06" height="6.32" fill="#443983"/>
<rect x="405.07" y="375.15" width="5.06" height="6.32" fill="#414487"/>
<rect x="409.53" y="375.15" width="5.06" height="6.32" fill="#3d4d8a"/>
<rect x="413.99" y="375.15" width="5.06" height="6.32" fill="#3a538b"/>
<rect x="418.45" y="375.15" width="5.06" height="6.32" fill="#38598c"/>
<rect x="422.91" y="375.15" width="5.06" height="6.32" fill="#355e8d"/>
<rect x="427.36" y="375.15" width="5.06" height="6.32" fill="#33638d"/>
<rect x="431.82" y="375.15" width="5.06" height="6.32" fill="#31678e"/>
<rect x="436.28" y="375.15" width="5.06" height="6.32" fill="#2f6b8e"/>
<rect x="440.74" y="375.15" width="5.06" height="6.32" fill="#2e6e8e"/>
<rect x="445.2" y="375.15" width="5.06" height="6.32" fill="#2d718e"/>
<rect x="449.65" y="375.15" width="5.06" height="6.32" fill="#2c738e"/>
<rect x="454.11" y="375.15" width="5.06" height="6.32" fill="#2a768e"/>
<rect x="458.57" y="375.15" width="5.06" height="6.32" fill="#2a788e"/>
<rect x="463.03" y="375.15" width="5.06" height="6.32" fill="#29798e"/>
<rect x="467.49" y="375.15" width="5.06" height="6.32" fill="#297a8e"/>
<rect x="471.94" y="375.15" width="5.06" height="6.32" fill="#297b8e"/>
<rect x="476.4" y="375.15" width="5.06" height="6.32" fill="#287c8e"/>
<rect x="480.86" y="375.15" width="5.06" height="6.32" fill="#297b8e"/>
<rect x="485.32" y="375.15" width="5.06" height="6.32" fill="#297a8e"/>
<rect x="489.78" y="375.15" width="5.06" height="6.32" fill="#29798e"/>
<rect x="494.23" y="375.15" width="5.06" height="6.32" fill="#2a788e"/>
<rect x="498.69" y="375.15" width="5.06" height="6.32" fill="#2a778e"/>
<rect x="503.15" y="375.15" width="5.06" height="6.32" fill="#2b758e"/>
<rect x="507.61" y="375.15" width="5.06" height="6.32" fill="#2c738e"/>
<rect x="512.07" y="375.15" width="5.06" height="6.32" fill="#2c718e"/>
<rect x="516.52" y="375.15" width="5.06" height="6.32" fill="#2d708e"/>
<rect x="520.98" y="375.15" width="5.06" height="6.32" fill="#2e6e8e"/>
<rect x="525.44" y="375.15" width="5.06" height="6.32" fill="#2f6c8e"/>
<rect x="529.9" y="375.15" width="5.06" height="6.32" fill="#30698e"/>
<rect x="534.36" y="375.15" width="5.06" height="6.32" fill="#31668e"/>
<rect x="538.81" y="375.15" width="5.06" height="6.32" fill="#33638d"/>
<rect x="543.27" y="375.15" width="5.06" height="6.32" fill="#34608d"/>
<rect x="547.73" y="375.15" width="5.06" height="6.32" fill="#365d8d"/>
<rect x="552.19" y="375.15" width="5.06" height="6.32" fill="#375a8c"/>
<rect x="556.65" y="375.15" width="5.06" height="6.32" fill="#39568c"/>
<rect x="561.1" y="375.15" width="5.06" height="6.32" fill="#3a538b"/>
<rect x="565.56" y="375.15" width="5.06" height="6.32" fill="#3c4f8a"/>
<rect x="570.02" y="375.15" width="5.06" height="6.32" fill="#3e4c8a"/>
<rect x="574.48" y="375.15" width="5.06" height="6.32" fill="#3f4788"/>
<rect x="578.94" y="375.15" width="5.06" height="6.32" fill="#414487"/>
<rect x="583.39" y="375.15" width="5.06" height="6.32" fill="#423f85"/>
<rect x="587.85" y="375.15" width="5.06" height="6.32" fill="#443b84"/>
<rect x="592.31" y="375.15" width="5.06" height="6.32" fill="#453581"/>
<rect x="596.77" y="375.15" width="5.06" height="6.32" fill="#472f7d"/>
<rect x="601.23" y="375.15" width="5.06" height="6.32" fill="#482979"/>
<rect x="605.68" y="375.15" width="5.06" height="6.32" fill="#481d6f"/>
<rect x="610.14" y="375.15" width="4.46" height="6.32" fill="#471164"/>
<rect x="391.7" y="380.87" width="5.06" height="6.32" fill="#481467"/>
<rect x="396.16" y="380.87" width="5.06" height="6.32" fill="#472c7a"/>
<rect x="400.62" y="380.87" width="5.06" height="6.32" fill="#433d84"/>
<rect x="405.07" y="380.87" width="5.06" height="6.32" fill="#3f4788"/>
<rect x="409.53" y="380.87" width="5.06" height="6.32" fill="#3b518b"/>
<rect x="413.99" y="380.87" width="5.06" height="6.32" fill="#38598c"/>
<rect x="418.45" y="380.87" width="5.06" height="6.32" fill="#355e8d"/>
<rect x="422.91" y="380.87" width="5.06" height="6.32" fill="#33638d"/>
<rect x="427.36" y="380.87" width="5.06" height="6.32" fill="#31688e"/>
<rect x="431.82" y="380.87" width="5.06" height="6.32" fill="#2f6c8e"/>
<rect x="436.28" y="380.87" width="5.06" height="6.32" fill="#2d708e"/>
<rect x="440.74" y="380.87" width="5.06" height="6.32" fill="#2c728e"/>
<rect x="445.2" y="380.87" width="5.06" height="6.32" fill="#2b758e"/>
<rect x="449.65" y="380.87" width="5.06" height="6.32" fill="#2a788e"/>
<rect x="454.11" y="380.87" width="5.06" height="6.32" fill="#297b8e"/>
<rect x="458.57" y="380.87" width="5.06" height="6.32" fill="#287d8e"/>
<rect x="463.03" y="380.87" width="5.06" height="6.32" fill="#277f8e"/>
<rect x="467.49" y="380.87" width="5.06" height="6.32" fill="#27808e"/>
<rect x="471.94" y="380.87" width="5.06" height="6.32" fill="#26818e"/>
<rect x="476.4" y="380.87" width="5.06" height="6.32" fill="#26828e"/>
<rect x="480.86" y="380.87" width="5.06" height="6.32" fill="#26818e"/>
<rect x="485.32" y="380.87" width="5.06" height="6.32" fill="#27808e"/>
<rect x="489.78" y="380.87" width="5.06" height="6.32" fill="#277f8e"/>
<rect x="494.23" y="380.87" width="5.06" height="6.32" fill="#277e8e"/>
<rect x="498.69" y="380.87" width="5.06" height="6.32" fill="#287d8e"/>
<rect x="503.15" y="380.87" width="5.06" height="6.32" fill="#287c8e"/>
<rect x="507.61" y="380.87" width="5.06" height="6.32" fill="#297a8e"/>
<rect x="512.07" y="380.87" width="5.06" height="6.32" fill="#2a788e"/>
<rect x="516.52" y="380.87" width="5.06" height="6.32" fill="#2a768e"/>
<rect x="520.98" y="380.87" width="5.06" height="6.32" fill="#2b748e"/>
<rect x="525.44" y="380.87" width="5.06" height="6.32" fill="#2c718e"/>
<rect x="529.9" y="380.87" width="5.06" height="6.32" fill="#2d708e"/>
<rect x="534.36" y="380.87" width="5.06" height="6.32" fill="#2e6d8e"/>
<rect x="538.81" y="380.87" width="5.06" height="6.32" fill="#306a8e"/>
<rect x="543.27" y="380.87" width="5.06" height="6.32" fill="#31678e"/>
<rect x="547.73" y="380.87" width="5.06" height="6.32" fill="#33638d"/>
<rect x="552.19" y="380.87" width="5.06" height="6.32" fill="#34608d"/>
<rect x="556.65" y="380.87" width="5.06" height="6.32" fill="#365d8d"/>
<rect x="561.1" y="380.87" width="5.06" height="6.32" fill="#375a8c"/>
<rect x="565.56" y="380.87" width="5.06" height="6.32" fill="#39558c"/>
<rect x="570.02" y="380.87" width="5.06" height="6.32" fill="#3b518b"/>
<rect x="574.48" y="380.87" width="5.06" height="6.32" fill="#3d4e8a"/>
<rect x="578.94" y="380.87" width="5.06" height="6.32" fill="#3e4989"/>
<rect x="583.39" y="380.87" width="5.06" height="6.32" fill="#404588"/>
<rect x="587.85" y="380.87" width="5.06" height="6.32" fill="#424086"/>
<rect x="592.31" y="380.87" width="5.06" height="6.32" fill="#443b84"/>
<rect x="596.77" y="380.87" width="5.06" height="6.32" fill="#463480"/>
<rect x="601.23" y="380.87" width="5.06" height="6.32" fill="#472e7c"/>
<rect x="605.68" y="380.87" width="5.06" height="6.32" fill="#482374"/>
<rect x="610.14" y="380.87" width="4.46" height="6.32" fill="#481668"/>
<rect x="391.7" y="386.59" width="5.06" height="6.32" fill="#481769"/>
<rect x="396.16" y="386.59" width="5.06" height="6.32" fill="#472e7c"/>
<rect x="400.62" y="386.59" width="5.06" height="6.32" fill="#424086"/>
<rect x="405.07" y="386.59" width="5.06" height="6.32" fill="#3e4c8a"/>
<rect x="409.53" y="386.59" width="5.06" height="6.32" fill="#39558c"/>
<rect x="413.99" y="386.59" width="5.06" height="6.32" fill="#365d8d"/>
<rect x="418.45" y="386.59" width="5.06" height="6.32" fill="#33628d"/>
<rect x="422.91" y="386.59" width="5.06" height="6.32" fill="#31688e"/>
<rect x="427.36" y="386.59" width="5.06" height="6.32" fill="#2f6c8e"/>
<rect x="431.82" y="386.59" width="5.06" height="6.32" fill="#2d718e"/>
<rect x="436.28" y="386.59" width="5.06" height="6.32" fill="#2b748e"/>
<rect x="440.74" y="386.59" width="5.06" height="6.32" fill="#2a778e"/>
<rect x="445.2" y="386.59" width="5.06" height="6.32" fill="#297b8e"/>
<rect x="449.65" y="386.59" width="5.06" height="6.32" fill="#277e8e"/>
<rect x="454.11" y="386.59" width="5.06" height="6.32" fill="#27808e"/>
<rect x="458.57" y="386.59" width="5.06" height="6.32" fill="#26828e"/>
<rect x="463.03" y="386.59" width="5.06" height="6.32" fill="#25838e"/>
<rect x="467.49" y="386.59" width="5.06" height="6.32" fill="#25848e"/>
<rect x="471.94" y="386.59" width="5.06" height="6.32" fill="#25858e"/>
<rect x="476.4" y="386.59" width="5.06" height="6.32" fill="#24868e"/>
<rect x="480.86" y="386.59" width="5.06" height="6.32" fill="#24868e"/>
<rect x="485.32" y="386.59" width="5.06" height="6.32" fill="#25858e"/>
<rect x="489.78" y="386.59" width="5.06" height="6.32" fill="#25848e"/>
<rect x="494.23" y="386.59" width="5.06" height="6.32" fill="#25838e"/>
<rect x="498.69" y="386.59" width="5.06" height="6.32" fill="#26828e"/>
<rect x="503.15" y="386.59" width="5.06" height="6.32" fill="#26828e"/>
<rect x="507.61" y="386.59" width="5.06" height="6.32" fill="#27808e"/>
<rect x="512.07" y="386.59" width="5.06" height="6.32" fill="#277e8e"/>
<rect x="516.52" y="386.59" width="5.06" height="6.32" fill="#287c8e"/>
<rect x="520.98" y="386.59" width="5.06" height="6.32" fill="#297a8e"/>
<rect x="525.44" y="386.59" width="5.06" height="6.32" fill="#2a788e"/>
<rect x="529.9" y="386.59" width="5.06" height="6.32" fill="#2b758e"/>
<rect x="534.36" y="386.59" width="5.06" height="6.32" fill="#2c728e"/>
<rect x="538.81" y="386.59" width="5.06" height="6.32" fill="#2d708e"/>
<rect x="543.27" y="386.59" width="5.06" height="6.32" fill="#2e6d8e"/>
<rect x="547.73" y="386.59" width="5.06" height="6.32" fill="#30698e"/>
<rect x="552.19" y="386.59" width="5.06" height="6.32" fill="#31668e"/>
<rect x="556.65" y="386.59" width="5.06" height="6.32" fill="#33638d"/>
<rect x="561.1" y="386.59" width="5.06" height="6.32" fill="#355f8d"/>
<rect x="565.56" y="386.59" width="5.06" height="6.32" fill="#375b8d"/>
<rect x="570.02" y="386.59" width="5.06" height="6.32" fill="#38588c"/>
<rect x="574.48" y="386.59" width="5.06" height="6.32" fill="#3a538b"/>
<rect x="578.94" y="386.59" width="5.06" height="6.32" fill="#3c4f8a"/>
<rect x="583.39" y="386.59" width="5.06" height="6.32" fill="#3e4a89"/>
<rect x="587.85" y="386.59" width="5.06" height="6.32" fill="#404588"/>
<rect x="592.31" y="386.59" width="5.06" height="6.32" fill="#423f85"/>
<rect x="596.77" y="386.59" width="5.06" height="6.32" fill="#443983"/>
<rect x="601.23" y="386.59" width="5.06" height="6.32" fill="#46327e"/>
<rect x="605.68" y="386.59" width="5.06" height="6.32" fill="#482677"/>
<rect x="610.14" y="386.59" width="4.46" height="6.32" fill="#481a6c"/>
<rect x="391.7" y="392.31" width="5.06" height="6.32" fill="#481769"/>
<rect x="396.16" y="392.31" width="5.06" height="6.32" fill="#46307e"/>
<rect x="400.62" y="392.31" width="5.06" height="6.32" fill="#414287"/>
<rect x="405.07" y="392.31" width="5.06" height="6.32" fill="#3c4f8a"/>
<rect x="409.53" y="392.31" width="5.06" height="6.32" fill="#38598c"/>
<rect x="413.99" y="392.31" width="5.06" height="6.32" fill="#34608d"/>
<rect x="418.45" y="392.31" width="5.06" height="6.32" fill="#31668e"/>
<rect x="422.91" y="392.31" width="5.06" height="6.32" fill="#2f6c8e"/>
<rect x="427.36" y="392.31" width="5.06" height="6.32" fill="#2d718e"/>
<rect x="431.82" y="392.31" width="5.06" height="6.32" fill="#2b748e"/>
<rect x="436.28" y="392.31" width="5.06" height="6.32" fill="#29798e"/>
<rect x="440.74" y="392.31" width="5.06" height="6.32" fill="#287c8e"/>
<rect x="445.2" y="392.31" width="5.06" height="6.32" fill="#277f8e"/>
<rect x="449.65" y="392.31" width="5.06" height="6.32" fill="#26828e"/>
<rect x="454.11" y="392.31" width="5.06" height="6.32" fill="#25848e"/>
<rect x="458.57" y="392.31" width="5.06" height="6.32" fill="#24868e"/>
<rect x="463.03" y="392.31" width="5.06" height="6.32" fill="#23888e"/>
<rect x="467.49" y="392.31" width="5.06" height="6.32" fill="#23898e"/>
<rect x="471.94" y="392.31" width="5.06" height="6.32" fill="#238a8d"/>
<rect x="476.4" y="392.31" width="5.06" height="6.32" fill="#228b8d"/>
<rect x="480.86" y="392.31" width="5.06" height="6.32" fill="#228b8d"/>
<rect x="485.32" y="392.31" width="5.06" height="6.32" fill="#238a8d"/>
<rect x="489.78" y="392.31" width="5.06" height="6.32" fill="#238a8d"/>
<rect x="494.23" y="392.31" width="5.06" height="6.32" fill="#23898e"/>
<rect x="498.69" y="392.31" width="5.06" height="6.32" fill="#23888e"/>
<rect x="503.15" y="392.31" width="5.06" height="6.32" fill="#24878e"/>
<rect x="507.61" y="392.31" width="5.06" height="6.32" fill="#25858e"/>
<rect x="512.07" y="392.31" width="5.06" height="6.32" fill="#25838e"/>
<rect x="516.52" y="392.31" width="5.06" height="6.32" fill="#26828e"/>
<rect x="520.98" y="392.31" width="5.06" height="6.32" fill="#27808e"/>
<rect x="525.44" y="392.31" width="5.06" height="6.32" fill="#287d8e"/>
<rect x="529.9" y="392.31" width="5.06" height="6.32" fill="#297a8e"/>
<rect x="534.36" y="392.31" width="5.06" height="6.32" fill="#2a788e"/>
<rect x="538.81" y="392.31" width="5.06" height="6.32" fill="#2b748e"/>
<rect x="543.27" y="392.31" width="5.06" height="6.32" fill="#2c718e"/>
<rect x="547.73" y="392.31" width="5.06" height="6.32" fill="#2e6f8e"/>
<rect x="552.19" y="392.31" width="5.06" height="6.32" fill="#2f6b8e"/>
<rect x="556.65" y="392.31" width="5.06" height="6.32" fill="#31688e"/>
<rect x="561.1" y="392.31" width="5.06" height="6.32" fill="#32648e"/>
<rect x="565.56" y="392.31" width="5.06" height="6.32" fill="#34608d"/>
<rect x="570.02" y="392.31" width="5.06" height="6.32" fill="#365c8d"/>
<rect x="574.48" y="392.31" width="5.06" height="6.32" fill="#38588c"/>
<rect x="578.94" y="392.31" width="5.06" height="6.32" fill="#3a538b"/>
<rect x="583.39" y="392.31" width="5.06" height="6.32" fill="#3c4f8a"/>
<rect x="587.85" y="392.31" width="5.06" height="6.32" fill="#3e4989"/>
<rect x="592.31" y="392.31" width="5.06" height="6.32" fill="#414487"/>
<rect x="596.77" y="392.31" width="5.06" height="6.32" fill="#433d84"/>
<rect x="601.23" y="392.31" width="5.06" height="6.32" fill="#463480"/>
<rect x="605.68" y="392.31" width="5.06" height="6.32" fill="#482979"/>
<rect x="610.14" y="392.31" width="4.46" height="6.32" fill="#481c6e"/>
<rect x="391.7" y="398.02" width="5.06" height="6.32" fill="#481769"/>
<rect x="396.16" y="398.02" width="5.06" height="6.32" fill="#46327e"/>
<rect x="400.62" y="398.02" width="5.06" height="6.32" fill="#404588"/>
<rect x="405.07" y="398.02" width="5.06" height="6.32" fill="#3b518b"/>
<rect x="409.53" y="398.02" width="5.06" height="6.32" fill="#375b8d"/>
<rect x="413.99" y="398.02" width="5.06" height="6.32" fill="#33638d"/>
<rect x="418.45" y="398.02" width="5.06" height="6.32" fill="#30698e"/>
<rect x="422.91" y="398.02" width="5.06" height="6.32" fill="#2e6f8e"/>
<rect x="427.36" y="398.02" width="5.06" height="6.32" fill="#2c738e"/>
<rect x="431.82" y="398.02" width="5.06" height="6.32" fill="#2a788e"/>
<rect x="436.28" y="398.02" width="5.06" height="6.32" fill="#287c8e"/>
<rect x="440.74" y="398.02" width="5.06" height="6.32" fill="#27808e"/>
<rect x="445.2" y="398.02" width="5.06" height="6.32" fill="#26828e"/>
<rect x="449.65" y="398.02" width="5.06" height="6.32" fill="#25858e"/>
<rect x="454.11" y="398.02" width="5.06" height="6.32" fill="#23888e"/>
<rect x="458.57" y="398.02" width="5.06" height="6.32" fill="#238a8d"/>
<rect x="463.03" y="398.02" width="5.06" height="6.32" fill="#228c8d"/>
<rect x="467.49" y="398.02" width="5.06" height="6.32" fill="#228d8d"/>
<rect x="471.94" y="398.02" width="5.06" height="6.32" fill="#218f8d"/>
<rect x="476.4" y="398.02" width="5.06" height="6.32" fill="#21908d"/>
<rect x="480.86" y="398.02" width="5.06" height="6.32" fill="#218f8d"/>
<rect x="485.32" y="398.02" width="5.06" height="6.32" fill="#218f8d"/>
<rect x="489.78" y="398.02" width="5.06" height="6.32" fill="#218f8d"/>
<rect x="494.23" y="398.02" width="5.06" height="6.32" fill="#218e8d"/>
<rect x="498.69" y="398.02" width="5.06" height="6.32" fill="#228d8d"/>
<rect x="503.15" y="398.02" width="5.06" height="6.32" fill="#228c8d"/>
<rect x="507.61" y="398.02" width="5.06" height="6.32" fill="#238a8d"/>
<rect x="512.07" y="398.02" width="5.06" height="6.32" fill="#23888e"/>
<rect x="516.52" y="398.02" width="5.06" height="6.32" fill="#24868e"/>
<rect x="520.98" y="398.02" width="5.06" height="6.32" fill="#25848e"/>
<rect x="525.44" y="398.02" width="5.06" height="6.32" fill="#26828e"/>
<rect x="529.9" y="398.02" width="5.06" height="6.32" fill="#27808e"/>
<rect x="534.36" y="398.02" width="5.06" height="6.32" fill="#287d8e"/>
<rect x="538.81" y="398.02" width="5.06" height="6.32" fill="#29798e"/>
<rect x="543.27" y="398.02" width="5.06" height="6.32" fill="#2a768e"/>
<rect x="547.73" y="398.02" width="5.06" height="6.32" fill="#2c738e"/>
<rect x="552.19" y="398.02" width="5.06" height="6.32" fill="#2d708e"/>
<rect x="556.65" y="398.02" width="5.06" height="6.32" fill="#2f6c8e"/>
<rect x="561.1" y="398.02" width="5.06" height="6.32" fill="#30698e"/>
<rect x="565.56" y="398.02" width="5.06" height="6.32" fill="#32658e"/>
<rect x="570.02" y="398.02" width="5.06" height="6.32" fill="#34608d"/>
<rect x="574.48" y="398.02" width="5.06" height="6.32" fill="#365c8d"/>
<rect x="578.94" y="398.02" width="5.06" height="6.32" fill="#38588c"/>
<rect x="583.39" y="398.02" width="5.06" height="6.32" fill="#3b528b"/>
<rect x="587.85" y="398.02" width="5.06" height="6.32" fill="#3d4d8a"/>
<rect x="592.31" y="398.02" width="5.06" height="6.32" fill="#404688"/>
<rect x="596.77" y="398.02" width="5.06" height="6.32" fill="#423f85"/>
<rect x="601.23" y="398.02" width="5.06" height="6.32" fill="#453781"/>
<rect x="605.68" y="398.02" width="5.06" height="6.32" fill="#472c7a"/>
<rect x="610.14" y="398.02" width="4.46" height="6.32" fill="#481d6f"/>
<rect x="391.7" y="403.74" width="5.06" height="6.32" fill="#481769"/>
<rect x="396.16" y="403.74" width="5.06" height="6.32" fill="#46327e"/>
<rect x="400.62" y="403.74" width="5.06" height="6.32" fill="#404688"/>
<rect x="405.07" y="403.74" width="5.06" height="6.32" fill="#3b528b"/>
<rect x="409.53" y="403.74" width="5.06" height="6.32" fill="#365d8d"/>
<rect x="413.99" y="403.74" width="5.06" height="6.32" fill="#32658e"/>
<rect x="418.45" y="403.74" width="5.06" height="6.32" fill="#2f6c8e"/>
<rect x="422.91" y="403.74" width="5.06" height="6.32" fill="#2c718e"/>
<rect x="427.36" y="403.74" width="5.06" height="6.32" fill="#2a768e"/>
<rect x="431.82" y="403.74" width="5.06" height="6.32" fill="#297b8e"/>
<rect x="436.28" y="403.74" width="5.06" height="6.32" fill="#277f8e"/>
<rect x="440.74" y="403.74" width="5.06" height="6.32" fill="#26828e"/>
<rect x="445.2" y="403.74" width="5.06" height="6.32" fill="#25858e"/>
<rect x="449.65" y="403.74" width="5.06" height="6.32" fill="#23898e"/>
<rect x="454.11" y="403.74" width="5.06" height="6.32" fill="#228c8d"/>
<rect x="458.57" y="403.74" width="5.06" height="6.32" fill="#218e8d"/>
<rect x="463.03" y="403.74" width="5.06" height="6.32" fill="#21908d"/>
<rect x="467.49" y="403.74" width="5.06" height="6.32" fill="#21918c"/>
<rect x="471.94" y="403.74" width="5.06" height="6.32" fill="#20928c"/>
<rect x="476.4" y="403.74" width="5.06" height="6.32" fill="#20928c"/>
<rect x="480.86" y="403.74" width="5.06" height="6.32" fill="#20928c"/>
<rect x="485.32" y="403.74" width="5.06" height="6.32" fill="#20928c"/>
<rect x="489.78" y="403.74" width="5.06" height="6.32" fill="#20928c"/>
<rect x="494.23" y="403.74" width="5.06" height="6.32" fill="#20928c"/>
<rect x="498.69" y="403.74" width="5.06" height="6.32" fill="#21918c"/>
<rect x="503.15" y="403.74" width="5.06" height="6.32" fill="#21908d"/>
<rect x="507.61" y="403.74" width="5.06" height="6.32" fill="#218e8d"/>
<rect x="512.07" y="403.74" width="5.06" height="6.32" fill="#228c8d"/>
<rect x="516.52" y="403.74" width="5.06" height="6.32" fill="#238a8d"/>
<rect x="520.98" y="403.74" width="5.06" height="6.32" fill="#23888e"/>
<rect x="525.44" y="403.74" width="5.06" height="6.32" fill="#24868e"/>
<rect x="529.9" y="403.74" width="5.06" height="6.32" fill="#25838e"/>
<rect x="534.36" y="403.74" width="5.06" height="6.32" fill="#26818e"/>
<rect x="538.81" y="403.74" width="5.06" height="6.32" fill="#277e8e"/>
<rect x="543.27" y="403.74" width="5.06" height="6.32" fill="#297a8e"/>
<rect x="547.73" y="403.74" width="5.06" height="6.32" fill="#2a778e"/>
<rect x="552.19" y="403.74" width="5.06" height="6.32" fill="#2c738e"/>
<rect x="556.65" y="403.74" width="5.06" height="6.32" fill="#2d708e"/>
<rect x="561.1" y="403.74" width="5.06" height="6.32" fill="#2f6c8e"/>
<rect x="565.56" y="403.74" width="5.06" height="6.32" fill="#31688e"/>
<rect x="570.02" y="403.74" width="5.06" height="6.32" fill="#32648e"/>
<rect x="574.48" y="403.74" width="5.06" height="6.32" fill="#355f8d"/>
<rect x="578.94" y="403.74" width="5.06" height="6.32" fill="#375a8c"/>
<rect x="583.39" y="403.74" width="5.06" height="6.32" fill="#3a548c"/>
<rect x="587.85" y="403.74" width="5.06" height="6.32" fill="#3c4f8a"/>
<rect x="592.31" y="403.74" width="5.06" height="6.32" fill="#3f4889"/>
<rect x="596.77" y="403.74" width="5.06" height="6.32" fill="#424186"/>
<rect x="601.23" y="403.74" width="5.06" height="6.32" fill="#443983"/>
<rect x="605.68" y="403.74" width="5.06" height="6.32" fill="#472d7b"/>
<rect x="610.14" y="403.74" width="4.46" height="6.32" fill="#481f70"/>
<rect x="391.7" y="409.46" width="5.06" height="6.32" fill="#481668"/>
<rect x="396.16" y="409.46" width="5.06" height="6.32" fill="#46327e"/>
<rect x="400.62" y="409.46" width="5.06" height="6.32" fill="#404688"/>
<rect x="405.07" y="409.46" width="5.06" height="6.32" fill="#3a548c"/>
<rect x="409.53" y="409.46" width="5.06" height="6.32" fill="#355f8d"/>
<rect x="413.99" y="409.46" width="5.06" height="6.32" fill="#31678e"/>
<rect x="418.45" y="409.46" width="5.06" height="6.32" fill="#2e6e8e"/>
<rect x="422.91" y="409.46" width="5.06" height="6.32" fill="#2c738e"/>
<rect x="427.36" y="409.46" width="5.06" height="6.32" fill="#29798e"/>
<rect x="431.82" y="409.46" width="5.06" height="6.32" fill="#277e8e"/>
<rect x="436.28" y="409.46" width="5.06" height="6.32" fill="#26828e"/>
<rect x="440.74" y="409.46" width="5.06" height="6.32" fill="#25858e"/>
<rect x="445.2" y="409.46" width="5.06" height="6.32" fill="#23888e"/>
<rect x="449.65" y="409.46" width="5.06" height="6.32" fill="#228c8d"/>
<rect x="454.11" y="409.46" width="5.06" height="6.32" fill="#218e8d"/>
<rect x="458.57" y="409.46" width="5.06" height="6.32" fill="#21918c"/>
<rect x="463.03" y="409.46" width="5.06" height="6.32" fill="#20928c"/>
<rect x="467.49" y="409.46" width="5.06" height="6.32" fill="#20938c"/>
<rect x="471.94" y="409.46" width="5.06" height="6.32" fill="#1f948c"/>
<rect x="476.4" y="409.46" width="5.06" height="6.32" fill="#1f968b"/>
<rect x="480.86" y="409.46" width="5.06" height="6.32" fill="#1f968b"/>
<rect x="485.32" y="409.46" width="5.06" height="6.32" fill="#1f968b"/>
<rect x="489.78" y="409.46" width="5.06" height="6.32" fill="#1f958b"/>
<rect x="494.23" y="409.46" width="5.06" height="6.32" fill="#1f958b"/>
<rect x="498.69" y="409.46" width="5.06" height="6.32" fill="#1f948c"/>
<rect x="503.15" y="409.46" width="5.06" height="6.32" fill="#20938c"/>
<rect x="507.61" y="409.46" width="5.06" height="6.32" fill="#20928c"/>
<rect x="512.07" y="409.46" width="5.06" height="6.32" fill="#21908d"/>
<rect x="516.52" y="409.46" width="5.06" height="6.32" fill="#218e8d"/>
<rect x="520.98" y="409.46" width="5.06" height="6.32" fill="#228c8d"/>
<rect x="525.44" y="409.46" width="5.06" height="6.32" fill="#238a8d"/>
<rect x="529.9" y="409.46" width="5.06" height="6.32" fill="#24878e"/>
<rect x="534.36" y="409.46" width="5.06" height="6.32" fill="#25848e"/>
<rect x="538.81" y="409.46" width="5.06" height="6.32" fill="#26818e"/>
<rect x="543.27" y="409.46" width="5.06" height="6.32" fill="#277e8e"/>
<rect x="547.73" y="409.46" width="5.06" height="6.32" fill="#297a8e"/>
<rect x="552.19" y="409.46" width="5.06" height="6.32" fill="#2a768e"/>
<rect x="556.65" y="409.46" width="5.06" height="6.32" fill="#2c728e"/>
<rect x="561.1" y="409.46" width="5.06" height="6.32" fill="#2e6f8e"/>
<rect x="565.56" y="409.46" width="5.06" height="6.32" fill="#2f6b8e"/>
<rect x="570.02" y="409.46" width="5.06" height="6.32" fill="#31668e"/>
<rect x="574.48" y="409.46" width="5.06" height="6.32" fill="#33628d"/>
<rect x="578.94" y="409.46" width="5.06" height="6.32" fill="#365d8d"/>
<rect x="583.39" y="409.46" width="5.06" height="6.32" fill="#38588c"/>
<rect x="587.85" y="409.46" width="5.06" height="6.32" fill="#3b518b"/>
<rect x="592.31" y="409.46" width="5.06" height="6.32" fill="#3e4a89"/>
<rect x="596.77" y="409.46" width="5.06" height="6.32" fill="#414287"/>
<rect x="601.23" y="409.46" width="5.06" height="6.32" fill="#443a83"/>
<rect x="605.68" y="409.46" width="5.06" height="6.32" fill="#472e7c"/>
<rect x="610.14" y="409.46" width="4.46" height="6.32" fill="#482071"/>
<rect x="391.7" y="415.18" width="5.06" height="6.32" fill="#481668"/>
<rect x="396.16" y="415.18" width="5.06" height="6.32" fill="#46337f"/>
<rect x="400.62" y="415.18" width="5.06" height="6.32" fill="#3f4788"/>
<rect x="405.07" y="415.18" width="5.06" height="6.32" fill="#39558c"/>
<rect x="409.53" y="415.18" width="5.06" height="6.32" fill="#34618d"/>
<rect x="413.99" y="415.18" width="5.06" height="6.32" fill="#30698e"/>
<rect x="418.45" y="415.18" width="5.06" height="6.32" fill="#2d708e"/>
<rect x="422.91" y="415.18" width="5.06" height="6.32" fill="#2b758e"/>
<rect x="427.36" y="415.18" width="5.06" height="6.32" fill="#297b8e"/>
<rect x="431.82" y="415.18" width="5.06" height="6.32" fill="#27808e"/>
<rect x="436.28" y="415.18" width="5.06" height="6.32" fill="#25848e"/>
<rect x="440.74" y="415.18" width="5.06" height="6.32" fill="#23888e"/>
<rect x="445.2" y="415.18" width="5.06" height="6.32" fill="#228b8d"/>
<rect x="449.65" y="415.18" width="5.06" height="6.32" fill="#218e8d"/>
<rect x="454.11" y="415.18" width="5.06" height="6.32" fill="#21918c"/>
<rect x="458.57" y="415.18" width="5.06" height="6.32" fill="#20938c"/>
<rect x="463.03" y="415.18" width="5.06" height="6.32" fill="#1f958b"/>
<rect x="467.49" y="415.18" width="5.06" height="6.32" fill="#1f968b"/>
<rect x="471.94" y="415.18" width="5.06" height="6.32" fill="#1f988b"/>
<rect x="476.4" y="415.18" width="5.06" height="6.32" fill="#1f998a"/>
<rect x="480.86" y="415.18" width="5.06" height="6.32" fill="#1f998a"/>
<rect x="485.32" y="415.18" width="5.06" height="6.32" fill="#1f998a"/>
<rect x="489.78" y="415.18" width="5.06" height="6.32" fill="#1f998a"/>
<rect x="494.23" y="415.18" width="5.06" height="6.32" fill="#1f988b"/>
<rect x="498.69" y="415.18" width="5.06" height="6.32" fill="#1f988b"/>
<rect x="503.15" y="415.18" width="5.06" height="6.32" fill="#1f978b"/>
<rect x="507.61" y="415.18" width="5.06" height="6.32" fill="#1f958b"/>
<rect x="512.07" y="415.18" width="5.06" height="6.32" fill="#20938c"/>
<rect x="516.52" y="415.18" width="5.06" height="6.32" fill="#20928c"/>
<rect x="520.98" y="415.18" width="5.06" height="6.32" fill="#21908d"/>
<rect x="525.44" y="415.18" width="5.06" height="6.32" fill="#228d8d"/>
<rect x="529.9" y="415.18" width="5.06" height="6.32" fill="#228b8d"/>
<rect x="534.36" y="415.18" width="5.06" height="6.32" fill="#24878e"/>
<rect x="538.81" y="415.18" width="5.06" height="6.32" fill="#25848e"/>
<rect x="543.27" y="415.18" width="5.06" height="6.32" fill="#26828e"/>
<rect x="547.73" y="415.18" width="5.06" height="6.32" fill="#277e8e"/>
<rect x="552.19" y="415.18" width="5.06" height="6.32" fill="#297a8e"/>
<rect x="556.65" y="415.18" width="5.06" height="6.32" fill="#2a768e"/>
<rect x="561.1" y="415.18" width="5.06" height="6.32" fill="#2c718e"/>
<rect x="565.56" y="415.18" width="5.06" height="6.32" fill="#2e6e8e"/>
<rect x="570.02" y="415.18" width="5.06" height="6.32" fill="#30698e"/>
<rect x="574.48" y="415.18" width="5.06" height="6.32" fill="#32648e"/>
<rect x="578.94" y="415.18" width="5.06" height="6.32" fill="#355f8d"/>
<rect x="583.39" y="415.18" width="5.06" height="6.32" fill="#375a8c"/>
<rect x="587.85" y="415.18" width="5.06" height="6.32" fill="#3a538b"/>
<rect x="592.31" y="415.18" width="5.06" height="6.32" fill="#3d4d8a"/>
<rect x="596.77" y="415.18" width="5.06" height="6.32" fill="#404588"/>
<rect x="601.23" y="415.18" width="5.06" height="6.32" fill="#443b84"/>
<rect x="605.68" y="415.18" width="5.06" height="6.32" fill="#472f7d"/>
<rect x="610.14" y="415.18" width="4.46" height="6.32" fill="#482173"/>
<rect x="391.7" y="420.89" width="5.06" height="6.32" fill="#481467"/>
<rect x="396.16" y="420.89" width="5.06" height="6.32" fill="#46337f"/>
<rect x="400.62" y="420.89" width="5.06" height="6.32" fill="#3f4889"/>
<rect x="405.07" y="420.89" width="5.06" height="6.32" fill="#38588c"/>
<rect x="409.53" y="420.89" width="5.06" height="6.32" fill="#33628d"/>
<rect x="413.99" y="420.89" width="5.06" height="6.32" fill="#2f6b8e"/>
<rect x="418.45" y="420.89" width="5.06" height="6.32" fill="#2c728e"/>
<rect x="422.91" y="420.89" width="5.06" height="6.32" fill="#2a788e"/>
<rect x="427.36" y="420.89" width="5.06" height="6.32" fill="#277e8e"/>
<rect x="431.82" y="420.89" width="5.06" height="6.32" fill="#26828e"/>
<rect x="436.28" y="420.89" width="5.06" height="6.32" fill="#24878e"/>
<rect x="440.74" y="420.89" width="5.06" height="6.32" fill="#228b8d"/>
<rect x="445.2" y="420.89" width="5.06" height="6.32" fill="#218e8d"/>
<rect x="449.65" y="420.89" width="5.06" height="6.32" fill="#20928c"/>
<rect x="454.11" y="420.89" width="5.06" height="6.32" fill="#1f948c"/>
<rect x="458.57" y="420.89" width="5.06" height="6.32" fill="#1f968b"/>
<rect x="463.03" y="420.89" width="5.06" height="6.32" fill="#1f988b"/>
<rect x="467.49" y="420.89" width="5.06" height="6.32" fill="#1f9a8a"/>
<rect x="471.94" y="420.89" width="5.06" height="6.32" fill="#1e9b8a"/>
<rect x="476.4" y="420.89" width="5.06" height="6.32" fill="#1e9c89"/>
<rect x="480.86" y="420.89" width="5.06" height="6.32" fill="#1e9d89"/>
<rect x="485.32" y="420.89" width="5.06" height="6.32" fill="#1e9d89"/>
<rect x="489.78" y="420.89" width="5.06" height="6.32" fill="#1e9d89"/>
<rect x="494.23" y="420.89" width="5.06" height="6.32" fill="#1e9d89"/>
<rect x="498.69" y="420.89" width="5.06" height="6.32" fill="#1e9c89"/>
<rect x="503.15" y="420.89" width="5.06" height="6.32" fill="#1e9b8a"/>
<rect x="507.61" y="420.89" width="5.06" height="6.32" fill="#1f998a"/>
<rect x="512.07" y="420.89" width="5.06" height="6.32" fill="#1f988b"/>
<rect x="516.52" y="420.89" width="5.06" height="6.32" fill="#1f968b"/>
<rect x="520.98" y="420.89" width="5.06" height="6.32" fill="#20938c"/>
<rect x="525.44" y="420.89" width="5.06" height="6.32" fill="#20928c"/>
<rect x="529.9" y="420.89" width="5.06" height="6.32" fill="#218f8d"/>
<rect x="534.36" y="420.89" width="5.06" height="6.32" fill="#228c8d"/>
<rect x="538.81" y="420.89" width="5.06" height="6.32" fill="#23888e"/>
<rect x="543.27" y="420.89" width="5.06" height="6.32" fill="#25858e"/>
<rect x="547.73" y="420.89" width="5.06" height="6.32" fill="#26828e"/>
<rect x="552.19" y="420.89" width="5.06" height="6.32" fill="#277e8e"/>
<rect x="556.65" y="420.89" width="5.06" height="6.32" fill="#297a8e"/>
<rect x="561.1" y="420.89" width="5.06" height="6.32" fill="#2b758e"/>
<rect x="565.56" y="420.89" width="5.06" height="6.32" fill="#2d718e"/>
<rect x="570.02" y="420.89" width="5.06" height="6.32" fill="#2e6d8e"/>
<rect x="574.48" y="420.89" width="5.06" height="6.32" fill="#31678e"/>
<rect x="578.94" y="420.89" width="5.06" height="6.32" fill="#33628d"/>
<rect x="583.39" y="420.89" width="5.06" height="6.32" fill="#365c8d"/>
<rect x="587.85" y="420.89" width="5.06" height="6.32" fill="#39558c"/>
<rect x="592.31" y="420.89" width="5.06" height="6.32" fill="#3c4f8a"/>
<rect x="596.77" y="420.89" width="5.06" height="6.32" fill="#404688"/>
<rect x="601.23" y="420.89" width="5.06" height="6.32" fill="#433d84"/>
<rect x="605.68" y="420.89" width="5.06" height="6.32" fill="#46307e"/>
<rect x="610.14" y="420.89" width="4.46" height="6.32" fill="#482173"/>
<rect x="391.7" y="426.61" width="5.06" height="6.32" fill="#481467"/>
<rect x="396.16" y="426.61" width="5.06" height="6.32" fill="#463480"/>
<rect x="400.62" y="426.61" width="5.06" height="6.32" fill="#3e4989"/>
<rect x="405.07" y="426.61" width="5.06" height="6.32" fill="#375a8c"/>
<rect x="409.53" y="426.61" width="5.06" height="6.32" fill="#32658e"/>
<rect x="413.99" y="426.61" width="5.06" height="6.32" fill="#2e6e8e"/>
<rect x="418.45" y="426.61" width="5.06" height="6.32" fill="#2b758e"/>
<rect x="422.91" y="426.61" width="5.06" height="6.32" fill="#297b8e"/>
<rect x="427.36" y="426.61" width="5.06" height="6.32" fill="#26818e"/>
<rect x="431.82" y="426.61" width="5.06" height="6.32" fill="#24868e"/>
<rect x="436.28" y="426.61" width="5.06" height="6.32" fill="#238a8d"/>
<rect x="440.74" y="426.61" width="5.06" height="6.32" fill="#218f8d"/>
<rect x="445.2" y="426.61" width="5.06" height="6.32" fill="#20928c"/>
<rect x="449.65" y="426.61" width="5.06" height="6.32" fill="#1f958b"/>
<rect x="454.11" y="426.61" width="5.06" height="6.32" fill="#1f988b"/>
<rect x="458.57" y="426.61" width="5.06" height="6.32" fill="#1f9a8a"/>
<rect x="463.03" y="426.61" width="5.06" height="6.32" fill="#1e9c89"/>
<rect x="467.49" y="426.61" width="5.06" height="6.32" fill="#1f9e89"/>
<rect x="471.94" y="426.61" width="5.06" height="6.32" fill="#1fa088"/>
<rect x="476.4" y="426.61" width="5.06" height="6.32" fill="#1fa188"/>
<rect x="480.86" y="426.61" width="5.06" height="6.32" fill="#1fa188"/>
<rect x="485.32" y="426.61" width="5.06" height="6.32" fill="#1fa187"/>
<rect x="489.78" y="426.61" width="5.06" height="6.32" fill="#1fa187"/>
<rect x="494.23" y="426.61" width="5.06" height="6.32" fill="#1fa188"/>
<rect x="498.69" y="426.61" width="5.06" height="6.32" fill="#1fa188"/>
<rect x="503.15" y="426.61" width="5.06" height="6.32" fill="#1fa088"/>
<rect x="507.61" y="426.61" width="5.06" height="6.32" fill="#1f9e89"/>
<rect x="512.07" y="426.61" width="5.06" height="6.32" fill="#1e9d89"/>
<rect x="516.52" y="426.61" width="5.06" height="6.32" fill="#1e9b8a"/>
<rect x="520.98" y="426.61" width="5.06" height="6.32" fill="#1f988b"/>
<rect x="525.44" y="426.61" width="5.06" height="6.32" fill="#1f968b"/>
<rect x="529.9" y="426.61" width="5.06" height="6.32" fill="#20938c"/>
<rect x="534.36" y="426.61" width="5.06" height="6.32" fill="#21918c"/>
<rect x="538.81" y="426.61" width="5.06" height="6.32" fill="#228d8d"/>
<rect x="543.27" y="426.61" width="5.06" height="6.32" fill="#238a8d"/>
<rect x="547.73" y="426.61" width="5.06" height="6.32" fill="#24868e"/>
<rect x="552.19" y="426.61" width="5.06" height="6.32" fill="#26828e"/>
<rect x="556.65" y="426.61" width="5.06" height="6.32" fill="#277e8e"/>
<rect x="561.1" y="426.61" width="5.06" height="6.32" fill="#297a8e"/>
<rect x="565.56" y="426.61" width="5.06" height="6.32" fill="#2b758e"/>
<rect x="570.02" y="426.61" width="5.06" height="6.32" fill="#2d718e"/>
<rect x="574.48" y="426.61" width="5.06" height="6.32" fill="#2f6b8e"/>
<rect x="578.94" y="426.61" width="5.06" height="6.32" fill="#31668e"/>
<rect x="583.39" y="426.61" width="5.06" height="6.32" fill="#34608d"/>
<rect x="587.85" y="426.61" width="5.06" height="6.32" fill="#38598c"/>
<rect x="592.31" y="426.61" width="5.06" height="6.32" fill="#3b518b"/>
<rect x="596.77" y="426.61" width="5.06" height="6.32" fill="#3e4989"/>
<rect x="601.23" y="426.61" width="5.06" height="6.32" fill="#423f85"/>
<rect x="605.68" y="426.61" width="5.06" height="6.32" fill="#46337f"/>
<rect x="610.14" y="426.61" width="4.46" height="6.32" fill="#482374"/>
<rect x="391.7" y="432.33" width="5.06" height="6.32" fill="#481467"/>
<rect x="396.16" y="432.33" width="5.06" height="6.32" fill="#453581"/>
<rect x="400.62" y="432.33" width="5.06" height="6.32" fill="#3d4d8a"/>
<rect x="405.07" y="432.33" width="5.06" height="6.32" fill="#365d8d"/>
<rect x="409.53" y="432.33" width="5.06" height="6.32" fill="#30698e"/>
<rect x="413.99" y="432.33" width="5.06" height="6.32" fill="#2c718e"/>
<rect x="418.45" y="432.33" width="5.06" height="6.32" fill="#29798e"/>
<rect x="422.91" y="432.33" width="5.06" height="6.32" fill="#27808e"/>
<rect x="427.36" y="432.33" width="5.06" height="6.32" fill="#25858e"/>
<rect x="431.82" y="432.33" width="5.06" height="6.32" fill="#228b8d"/>
<rect x="436.28" y="432.33" width="5.06" height="6.32" fill="#218f8d"/>
<rect x="440.74" y="432.33" width="5.06" height="6.32" fill="#20938c"/>
<rect x="445.2" y="432.33" width="5.06" height="6.32" fill="#1f978b"/>
<rect x="449.65" y="432.33" width="5.06" height="6.32" fill="#1f9a8a"/>
<rect x="454.11" y="432.33" width="5.06" height="6.32" fill="#1e9d89"/>
<rect x="458.57" y="432.33" width="5.06" height="6.32" fill="#1fa088"/>
<rect x="463.03" y="432.33" width="5.06" height="6.32" fill="#1fa187"/>
<rect x="467.49" y="432.33" width="5.06" height="6.32" fill="#20a386"/>
<rect x="471.94" y="432.33" width="5.06" height="6.32" fill="#20a486"/>
<rect x="476.4" y="432.33" width="5.06" height="6.32" fill="#21a585"/>
<rect x="480.86" y="432.33" width="5.06" height="6.32" fill="#21a685"/>
<rect x="485.32" y="432.33" width="5.06" height="6.32" fill="#22a785"/>
<rect x="489.78" y="432.33" width="5.06" height="6.32" fill="#22a785"/>
<rect x="494.23" y="432.33" width="5.06" height="6.32" fill="#21a685"/>
<rect x="498.69" y="432.33" width="5.06" height="6.32" fill="#21a685"/>
<rect x="503.15" y="432.33" width="5.06" height="6.32" fill="#21a585"/>
<rect x="507.61" y="432.33" width="5.06" height="6.32" fill="#20a486"/>
<rect x="512.07" y="432.33" width="5.06" height="6.32" fill="#1fa287"/>
<rect x="516.52" y="432.33" width="5.06" height="6.32" fill="#1fa188"/>
<rect x="520.98" y="432.33" width="5.06" height="6.32" fill="#1f9f88"/>
<rect x="525.44" y="432.33" width="5.06" height="6.32" fill="#1e9c89"/>
<rect x="529.9" y="432.33" width="5.06" height="6.32" fill="#1f998a"/>
<rect x="534.36" y="432.33" width="5.06" height="6.32" fill="#1f968b"/>
<rect x="538.81" y="432.33" width="5.06" height="6.32" fill="#20938c"/>
<rect x="543.27" y="432.33" width="5.06" height="6.32" fill="#21908d"/>
<rect x="547.73" y="432.33" width="5.06" height="6.32" fill="#228c8d"/>
<rect x="552.19" y="432.33" width="5.06" height="6.32" fill="#23888e"/>
<rect x="556.65" y="432.33" width="5.06" height="6.32" fill="#25838e"/>
<rect x="561.1" y="432.33" width="5.06" height="6.32" fill="#27808e"/>
<rect x="565.56" y="432.33" width="5.06" height="6.32" fill="#297b8e"/>
<rect x="570.02" y="432.33" width="5.06" height="6.32" fill="#2b758e"/>
<rect x="574.48" y="432.33" width="5.06" height="6.32" fill="#2d718e"/>
<rect x="578.94" y="432.33" width="5.06" height="6.32" fill="#2f6b8e"/>
<rect x="583.39" y="432.33" width="5.06" height="6.32" fill="#32648e"/>
<rect x="587.85" y="432.33" width="5.06" height="6.32" fill="#355e8d"/>
<rect x="592.31" y="432.33" width="5.06" height="6.32" fill="#39558c"/>
<rect x="596.77" y="432.33" width="5.06" height="6.32" fill="#3d4d8a"/>
<rect x="601.23" y="432.33" width="5.06" height="6.32" fill="#414287"/>
<rect x="605.68" y="432.33" width="5.06" height="6.32" fill="#453581"/>
<rect x="610.14" y="432.33" width="4.46" height="6.32" fill="#482576"/>
<rect x="391.7" y="438.05" width="5.06" height="6.32" fill="#481769"/>
<rect x="396.16" y="438.05" width="5.06" height="6.32" fill="#443a83"/>
<rect x="400.62" y="438.05" width="5.06" height="6.32" fill="#3b528b"/>
<rect x="405.07" y="438.05" width="5.06" height="6.32" fill="#33638d"/>
<rect x="409.53" y="438.05" width="5.06" height="6.32" fill="#2e6f8e"/>
<rect x="413.99" y="438.05" width="5.06" height="6.32" fill="#29798e"/>
<rect x="418.45" y="438.05" width="5.06" height="6.32" fill="#26818e"/>
<rect x="422.91" y="438.05" width="5.06" height="6.32" fill="#24878e"/>
<rect x="427.36" y="438.05" width="5.06" height="6.32" fill="#228d8d"/>
<rect x="431.82" y="438.05" width="5.06" height="6.32" fill="#20928c"/>
<rect x="436.28" y="438.05" width="5.06" height="6.32" fill="#1f968b"/>
<rect x="440.74" y="438.05" width="5.06" height="6.32" fill="#1e9b8a"/>
<rect x="445.2" y="438.05" width="5.06" height="6.32" fill="#1f9f88"/>
<rect x="449.65" y="438.05" width="5.06" height="6.32" fill="#1fa187"/>
<rect x="454.11" y="438.05" width="5.06" height="6.32" fill="#20a486"/>
<rect x="458.57" y="438.05" width="5.06" height="6.32" fill="#21a685"/>
<rect x="463.03" y="438.05" width="5.06" height="6.32" fill="#23a983"/>
<rect x="467.49" y="438.05" width="5.06" height="6.32" fill="#25ab82"/>
<rect x="471.94" y="438.05" width="5.06" height="6.32" fill="#25ac82"/>
<rect x="476.4" y="438.05" width="5.06" height="6.32" fill="#26ad81"/>
<rect x="480.86" y="438.05" width="5.06" height="6.32" fill="#27ad81"/>
<rect x="485.32" y="438.05" width="5.06" height="6.32" fill="#28ae80"/>
<rect x="489.78" y="438.05" width="5.06" height="6.32" fill="#28ae80"/>
<rect x="494.23" y="438.05" width="5.06" height="6.32" fill="#28ae80"/>
<rect x="498.69" y="438.05" width="5.06" height="6.32" fill="#27ad81"/>
<rect x="503.15" y="438.05" width="5.06" height="6.32" fill="#26ad81"/>
<rect x="507.61" y="438.05" width="5.06" height="6.32" fill="#25ac82"/>
<rect x="512.07" y="438.05" width="5.06" height="6.32" fill="#25ab82"/>
<rect x="516.52" y="438.05" width="5.06" height="6.32" fill="#23a983"/>
<rect x="520.98" y="438.05" width="5.06" height="6.32" fill="#22a785"/>
<rect x="525.44" y="438.05" width="5.06" height="6.32" fill="#20a486"/>
<rect x="529.9" y="438.05" width="5.06" height="6.32" fill="#1fa187"/>
<rect x="534.36" y="438.05" width="5.06" height="6.32" fill="#1f9f88"/>
<rect x="538.81" y="438.05" width="5.06" height="6.32" fill="#1e9c89"/>
<rect x="543.27" y="438.05" width="5.06" height="6.32" fill="#1f988b"/>
<rect x="547.73" y="438.05" width="5.06" height="6.32" fill="#1f958b"/>
<rect x="552.19" y="438.05" width="5.06" height="6.32" fill="#21918c"/>
<rect x="556.65" y="438.05" width="5.06" height="6.32" fill="#228d8d"/>
<rect x="561.1" y="438.05" width="5.06" height="6.32" fill="#23888e"/>
<rect x="565.56" y="438.05" width="5.06" height="6.32" fill="#25838e"/>
<rect x="570.02" y="438.05" width="5.06" height="6.32" fill="#277f8e"/>
<rect x="574.48" y="438.05" width="5.06" height="6.32" fill="#29798e"/>
<rect x="578.94" y="438.05" width="5.06" height="6.32" fill="#2c738e"/>
<rect x="583.39" y="438.05" width="5.06" height="6.32" fill="#2e6d8e"/>
<rect x="587.85" y="438.05" width="5.06" height="6.32" fill="#31668e"/>
<rect x="592.31" y="438.05" width="5.06" height="6.32" fill="#355e8d"/>
<rect x="596.77" y="438.05" width="5.06" height="6.32" fill="#3a548c"/>
<rect x="601.23" y="438.05" width="5.06" height="6.32" fill="#3e4989"/>
<rect x="605.68" y="438.05" width="5.06" height="6.32" fill="#443b84"/>
<rect x="610.14" y="438.05" width="4.46" height="6.32" fill="#482878"/>
<rect x="391.7" y="443.76" width="5.06" height="6.32" fill="#481b6d"/>
<rect x="396.16" y="443.76" width="5.06" height="6.32" fill="#414287"/>
<rect x="400.62" y="443.76" width="5.06" height="6.32" fill="#375b8d"/>
<rect x="405.07" y="443.76" width="5.06" height="6.32" fill="#2f6c8e"/>
<rect x="409.53" y="443.76" width="5.06" height="6.32" fill="#2a788e"/>
<rect x="413.99" y="443.76" width="5.06" height="6.32" fill="#26828e"/>
<rect x="418.45" y="443.76" width="5.06" height="6.32" fill="#238a8d"/>
<rect x="422.91" y="443.76" width="5.06" height="6.32" fill="#21918c"/>
<rect x="427.36" y="443.76" width="5.06" height="6.32" fill="#1f968b"/>
<rect x="431.82" y="443.76" width="5.06" height="6.32" fill="#1e9c89"/>
<rect x="436.28" y="443.76" width="5.06" height="6.32" fill="#1fa188"/>
<rect x="440.74" y="443.76" width="5.06" height="6.32" fill="#20a486"/>
<rect x="445.2" y="443.76" width="5.06" height="6.32" fill="#22a884"/>
<rect x="449.65" y="443.76" width="5.06" height="6.32" fill="#25ab82"/>
<rect x="454.11" y="443.76" width="5.06" height="6.32" fill="#27ad81"/>
<rect x="458.57" y="443.76" width="5.06" height="6.32" fill="#29af7f"/>
<rect x="463.03" y="443.76" width="5.06" height="6.32" fill="#2db27d"/>
<rect x="467.49" y="443.76" width="5.06" height="6.32" fill="#2eb37c"/>
<rect x="471.94" y="443.76" width="5.06" height="6.32" fill="#31b57b"/>
<rect x="476.4" y="443.76" width="5.06" height="6.32" fill="#32b67a"/>
<rect x="480.86" y="443.76" width="5.06" height="6.32" fill="#34b679"/>
<rect x="485.32" y="443.76" width="5.06" height="6.32" fill="#35b779"/>
<rect x="489.78" y="443.76" width="5.06" height="6.32" fill="#35b779"/>
<rect x="494.23" y="443.76" width="5.06" height="6.32" fill="#35b779"/>
<rect x="498.69" y="443.76" width="5.06" height="6.32" fill="#34b679"/>
<rect x="503.15" y="443.76" width="5.06" height="6.32" fill="#32b67a"/>
<rect x="507.61" y="443.76" width="5.06" height="6.32" fill="#31b57b"/>
<rect x="512.07" y="443.76" width="5.06" height="6.32" fill="#2fb47c"/>
<rect x="516.52" y="443.76" width="5.06" height="6.32" fill="#2db27d"/>
<rect x="520.98" y="443.76" width="5.06" height="6.32" fill="#2ab07f"/>
<rect x="525.44" y="443.76" width="5.06" height="6.32" fill="#28ae80"/>
<rect x="529.9" y="443.76" width="5.06" height="6.32" fill="#25ac82"/>
<rect x="534.36" y="443.76" width="5.06" height="6.32" fill="#23a983"/>
<rect x="538.81" y="443.76" width="5.06" height="6.32" fill="#21a685"/>
<rect x="543.27" y="443.76" width="5.06" height="6.32" fill="#20a386"/>
<rect x="547.73" y="443.76" width="5.06" height="6.32" fill="#1fa088"/>
<rect x="552.19" y="443.76" width="5.06" height="6.32" fill="#1e9c89"/>
<rect x="556.65" y="443.76" width="5.06" height="6.32" fill="#1f988b"/>
<rect x="561.1" y="443.76" width="5.06" height="6.32" fill="#20938c"/>
<rect x="565.56" y="443.76" width="5.06" height="6.32" fill="#218f8d"/>
<rect x="570.02" y="443.76" width="5.06" height="6.32" fill="#23898e"/>
<rect x="574.48" y="443.76" width="5.06" height="6.32" fill="#25848e"/>
<rect x="578.94" y="443.76" width="5.06" height="6.32" fill="#277e8e"/>
<rect x="583.39" y="443.76" width="5.06" height="6.32" fill="#2a778e"/>
<rect x="587.85" y="443.76" width="5.06" height="6.32" fill="#2d718e"/>
<rect x="592.31" y="443.76" width="5.06" height="6.32" fill="#31688e"/>
<rect x="596.77" y="443.76" width="5.06" height="6.32" fill="#355f8d"/>
<rect x="601.23" y="443.76" width="5.06" height="6.32" fill="#3b528b"/>
<rect x="605.68" y="443.76" width="5.06" height="6.32" fill="#414487"/>
<rect x="610.14" y="443.76" width="4.46" height="6.32" fill="#472c7a"/>
<rect x="391.7" y="449.48" width="5.06" height="6.32" fill="#482071"/>
<rect x="396.16" y="449.48" width="5.06" height="6.32" fill="#3e4a89"/>
<rect x="400.62" y="449.48" width="5.06" height="6.32" fill="#32648e"/>
<rect x="405.07" y="449.48" width="5.06" height="6.32" fill="#2b758e"/>
<rect x="409.53" y="449.48" width="5.06" height="6.32" fill="#26828e"/>
<rect x="413.99" y="449.48" width="5.06" height="6.32" fill="#228c8d"/>
<rect x="418.45" y="449.48" width="5.06" height="6.32" fill="#1f948c"/>
<rect x="422.91" y="449.48" width="5.06" height="6.32" fill="#1e9c89"/>
<rect x="427.36" y="449.48" width="5.06" height="6.32" fill="#1fa187"/>
<rect x="431.82" y="449.48" width="5.06" height="6.32" fill="#21a685"/>
<rect x="436.28" y="449.48" width="5.06" height="6.32" fill="#25ab82"/>
<rect x="440.74" y="449.48" width="5.06" height="6.32" fill="#28ae80"/>
<rect x="445.2" y="449.48" width="5.06" height="6.32" fill="#2db27d"/>
<rect x="449.65" y="449.48" width="5.06" height="6.32" fill="#31b57b"/>
<rect x="454.11" y="449.48" width="5.06" height="6.32" fill="#35b779"/>
<rect x="458.57" y="449.48" width="5.06" height="6.32" fill="#38b977"/>
<rect x="463.03" y="449.48" width="5.06" height="6.32" fill="#3bbb75"/>
<rect x="467.49" y="449.48" width="5.06" height="6.32" fill="#3fbc73"/>
<rect x="471.94" y="449.48" width="5.06" height="6.32" fill="#42be71"/>
<rect x="476.4" y="449.48" width="5.06" height="6.32" fill="#44bf70"/>
<rect x="480.86" y="449.48" width="5.06" height="6.32" fill="#46c06f"/>
<rect x="485.32" y="449.48" width="5.06" height="6.32" fill="#46c06f"/>
<rect x="489.78" y="449.48" width="5.06" height="6.32" fill="#46c06f"/>
<rect x="494.23" y="449.48" width="5.06" height="6.32" fill="#46c06f"/>
<rect x="498.69" y="449.48" width="5.06" height="6.32" fill="#46c06f"/>
<rect x="503.15" y="449.48" width="5.06" height="6.32" fill="#44bf70"/>
<rect x="507.61" y="449.48" width="5.06" height="6.32" fill="#42be71"/>
<rect x="512.07" y="449.48" width="5.06" height="6.32" fill="#40bd72"/>
<rect x="516.52" y="449.48" width="5.06" height="6.32" fill="#3fbc73"/>
<rect x="520.98" y="449.48" width="5.06" height="6.32" fill="#3bbb75"/>
<rect x="525.44" y="449.48" width="5.06" height="6.32" fill="#38b977"/>
<rect x="529.9" y="449.48" width="5.06" height="6.32" fill="#34b679"/>
<rect x="534.36" y="449.48" width="5.06" height="6.32" fill="#31b57b"/>
<rect x="538.81" y="449.48" width="5.06" height="6.32" fill="#2db27d"/>
<rect x="543.27" y="449.48" width="5.06" height="6.32" fill="#28ae80"/>
<rect x="547.73" y="449.48" width="5.06" height="6.32" fill="#25ac82"/>
<rect x="552.19" y="449.48" width="5.06" height="6.32" fill="#22a884"/>
<rect x="556.65" y="449.48" width="5.06" height="6.32" fill="#20a486"/>
<rect x="561.1" y="449.48" width="5.06" height="6.32" fill="#1fa088"/>
<rect x="565.56" y="449.48" width="5.06" height="6.32" fill="#1e9b8a"/>
<rect x="570.02" y="449.48" width="5.06" height="6.32" fill="#1f968b"/>
<rect x="574.48" y="449.48" width="5.06" height="6.32" fill="#21918c"/>
<rect x="578.94" y="449.48" width="5.06" height="6.32" fill="#228b8d"/>
<rect x="583.39" y="449.48" width="5.06" height="6.32" fill="#25848e"/>
<rect x="587.85" y="449.48" width="5.06" height="6.32" fill="#287d8e"/>
<rect x="592.31" y="449.48" width="5.06" height="6.32" fill="#2b748e"/>
<rect x="596.77" y="449.48" width="5.06" height="6.32" fill="#306a8e"/>
<rect x="601.23" y="449.48" width="5.06" height="6.32" fill="#365d8d"/>
<rect x="605.68" y="449.48" width="5.06" height="6.32" fill="#3d4d8a"/>
<rect x="610.14" y="449.48" width="4.46" height="6.32" fill="#472f7d"/>
<rect x="391.7" y="455.2" width="5.06" height="6.32" fill="#482576"/>
<rect x="396.16" y="455.2" width="5.06" height="6.32" fill="#3a548c"/>
<rect x="400.62" y="455.2" width="5.06" height="6.32" fill="#2e6e8e"/>
<rect x="405.07" y="455.2" width="5.06" height="6.32" fill="#27808e"/>
<rect x="409.53" y="455.2" width="5.06" height="6.32" fill="#228d8d"/>
<rect x="413.99" y="455.2" width="5.06" height="6.32" fill="#1f978b"/>
<rect x="418.45" y="455.2" width="5.06" height="6.32" fill="#1fa088"/>
<rect x="422.91" y="455.2" width="5.06" height="6.32" fill="#21a685"/>
<rect x="427.36" y="455.2" width="5.06" height="6.32" fill="#26ad81"/>
<rect x="431.82" y="455.2" width="5.06" height="6.32" fill="#2cb17e"/>
<rect x="436.28" y="455.2" width="5.06" height="6.32" fill="#32b67a"/>
<rect x="440.74" y="455.2" width="5.06" height="6.32" fill="#38b977"/>
<rect x="445.2" y="455.2" width="5.06" height="6.32" fill="#3dbc74"/>
<rect x="449.65" y="455.2" width="5.06" height="6.32" fill="#42be71"/>
<rect x="454.11" y="455.2" width="5.06" height="6.32" fill="#48c16e"/>
<rect x="458.57" y="455.2" width="5.06" height="6.32" fill="#4cc26c"/>
<rect x="463.03" y="455.2" width="5.06" height="6.32" fill="#50c46a"/>
<rect x="467.49" y="455.2" width="5.06" height="6.32" fill="#54c568"/>
<rect x="471.94" y="455.2" width="5.06" height="6.32" fill="#56c667"/>
<rect x="476.4" y="455.2" width="5.06" height="6.32" fill="#58c765"/>
<rect x="480.86" y="455.2" width="5.06" height="6.32" fill="#5ac864"/>
<rect x="485.32" y="455.2" width="5.06" height="6.32" fill="#5cc863"/>
<rect x="489.78" y="455.2" width="5.06" height="6.32" fill="#5cc863"/>
<rect x="494.23" y="455.2" width="5.06" height="6.32" fill="#5cc863"/>
<rect x="498.69" y="455.2" width="5.06" height="6.32" fill="#5cc863"/>
<rect x="503.15" y="455.2" width="5.06" height="6.32" fill="#5ac864"/>
<rect x="507.61" y="455.2" width="5.06" height="6.32" fill="#58c765"/>
<rect x="512.07" y="455.2" width="5.06" height="6.32" fill="#56c667"/>
<rect x="516.52" y="455.2" width="5.06" height="6.32" fill="#54c568"/>
<rect x="520.98" y="455.2" width="5.06" height="6.32" fill="#50c46a"/>
<rect x="525.44" y="455.2" width="5.06" height="6.32" fill="#4cc26c"/>
<rect x="529.9" y="455.2" width="5.06" height="6.32" fill="#48c16e"/>
<rect x="534.36" y="455.2" width="5.06" height="6.32" fill="#44bf70"/>
<rect x="538.81" y="455.2" width="5.06" height="6.32" fill="#3fbc73"/>
<rect x="543.27" y="455.2" width="5.06" height="6.32" fill="#3aba76"/>
<rect x="547.73" y="455.2" width="5.06" height="6.32" fill="#35b779"/>
<rect x="552.19" y="455.2" width="5.06" height="6.32" fill="#2fb47c"/>
<rect x="556.65" y="455.2" width="5.06" height="6.32" fill="#2ab07f"/>
<rect x="561.1" y="455.2" width="5.06" height="6.32" fill="#25ac82"/>
<rect x="565.56" y="455.2" width="5.06" height="6.32" fill="#22a884"/>
<rect x="570.02" y="455.2" width="5.06" height="6.32" fill="#1fa287"/>
<rect x="574.48" y="455.2" width="5.06" height="6.32" fill="#1f9e89"/>
<rect x="578.94" y="455.2" width="5.06" height="6.32" fill="#1f978b"/>
<rect x="583.39" y="455.2" width="5.06" height="6.32" fill="#21918c"/>
<rect x="587.85" y="455.2" width="5.06" height="6.32" fill="#23898e"/>
<rect x="592.31" y="455.2" width="5.06" height="6.32" fill="#27808e"/>
<rect x="596.77" y="455.2" width="5.06" height="6.32" fill="#2b758e"/>
<rect x="601.23" y="455.2" width="5.06" height="6.32" fill="#31688e"/>
<rect x="605.68" y="455.2" width="5.06" height="6.32" fill="#39558c"/>
<rect x="610.14" y="455.2" width="4.46" height="6.32" fill="#46337f"/>
<rect x="391.7" y="460.92" width="5.06" height="6.32" fill="#472c7a"/>
<rect x="396.16" y="460.92" width="5.06" height="6.32" fill="#365d8d"/>
<rect x="400.62" y="460.92" width="5.06" height="6.32" fill="#2a778e"/>
<rect x="405.07" y="460.92" width="5.06" height="6.32" fill="#23898e"/>
<rect x="409.53" y="460.92" width="5.06" height="6.32" fill="#1f968b"/>
<rect x="413.99" y="460.92" width="5.06" height="6.32" fill="#1fa187"/>
<rect x="418.45" y="460.92" width="5.06" height="6.32" fill="#24aa83"/>
<rect x="422.91" y="460.92" width="5.06" height="6.32" fill="#2ab07f"/>
<rect x="427.36" y="460.92" width="5.06" height="6.32" fill="#32b67a"/>
<rect x="431.82" y="460.92" width="5.06" height="6.32" fill="#3bbb75"/>
<rect x="436.28" y="460.92" width="5.06" height="6.32" fill="#42be71"/>
<rect x="440.74" y="460.92" width="5.06" height="6.32" fill="#4ac16d"/>
<rect x="445.2" y="460.92" width="5.06" height="6.32" fill="#52c569"/>
<rect x="449.65" y="460.92" width="5.06" height="6.32" fill="#58c765"/>
<rect x="454.11" y="460.92" width="5.06" height="6.32" fill="#5cc863"/>
<rect x="458.57" y="460.92" width="5.06" height="6.32" fill="#60ca60"/>
<rect x="463.03" y="460.92" width="5.06" height="6.32" fill="#65cb5e"/>
<rect x="467.49" y="460.92" width="5.06" height="6.32" fill="#69cd5b"/>
<rect x="471.94" y="460.92" width="5.06" height="6.32" fill="#6ccd5a"/>
<rect x="476.4" y="460.92" width="5.06" height="6.32" fill="#6ece58"/>
<rect x="480.86" y="460.92" width="5.06" height="6.32" fill="#70cf57"/>
<rect x="485.32" y="460.92" width="5.06" height="6.32" fill="#73d056"/>
<rect x="489.78" y="460.92" width="5.06" height="6.32" fill="#73d056"/>
<rect x="494.23" y="460.92" width="5.06" height="6.32" fill="#73d056"/>
<rect x="498.69" y="460.92" width="5.06" height="6.32" fill="#73d056"/>
<rect x="503.15" y="460.92" width="5.06" height="6.32" fill="#70cf57"/>
<rect x="507.61" y="460.92" width="5.06" height="6.32" fill="#70cf57"/>
<rect x="512.07" y="460.92" width="5.06" height="6.32" fill="#6ece58"/>
<rect x="516.52" y="460.92" width="5.06" height="6.32" fill="#69cd5b"/>
<rect x="520.98" y="460.92" width="5.06" height="6.32" fill="#67cc5c"/>
<rect x="525.44" y="460.92" width="5.06" height="6.32" fill="#63cb5f"/>
<rect x="529.9" y="460.92" width="5.06" height="6.32" fill="#5ec962"/>
<rect x="534.36" y="460.92" width="5.06" height="6.32" fill="#5ac864"/>
<rect x="538.81" y="460.92" width="5.06" height="6.32" fill="#54c568"/>
<rect x="543.27" y="460.92" width="5.06" height="6.32" fill="#50c46a"/>
<rect x="547.73" y="460.92" width="5.06" height="6.32" fill="#48c16e"/>
<rect x="552.19" y="460.92" width="5.06" height="6.32" fill="#42be71"/>
<rect x="556.65" y="460.92" width="5.06" height="6.32" fill="#3bbb75"/>
<rect x="561.1" y="460.92" width="5.06" height="6.32" fill="#35b779"/>
<rect x="565.56" y="460.92" width="5.06" height="6.32" fill="#2eb37c"/>
<rect x="570.02" y="460.92" width="5.06" height="6.32" fill="#28ae80"/>
<rect x="574.48" y="460.92" width="5.06" height="6.32" fill="#23a983"/>
<rect x="578.94" y="460.92" width="5.06" height="6.32" fill="#20a386"/>
<rect x="583.39" y="460.92" width="5.06" height="6.32" fill="#1e9d89"/>
<rect x="587.85" y="460.92" width="5.06" height="6.32" fill="#1f948c"/>
<rect x="592.31" y="460.92" width="5.06" height="6.32" fill="#228b8d"/>
<rect x="596.77" y="460.92" width="5.06" height="6.32" fill="#27808e"/>
<rect x="601.23" y="460.92" width="5.06" height="6.32" fill="#2c718e"/>
<rect x="605.68" y="460.92" width="5.06" height="6.32" fill="#355e8d"/>
<rect x="610.14" y="460.92" width="4.46" height="6.32" fill="#453781"/>
<rect x="391.7" y="466.64" width="5.06" height="6.32" fill="#472f7d"/>
<rect x="396.16" y="466.64" width="5.06" height="6.32" fill="#32648e"/>
<rect x="400.62" y="466.64" width="5.06" height="6.32" fill="#277f8e"/>
<rect x="405.07" y="466.64" width="5.06" height="6.32" fill="#20928c"/>
<rect x="409.53" y="466.64" width="5.06" height="6.32" fill="#1f9f88"/>
<rect x="413.99" y="466.64" width="5.06" height="6.32" fill="#24aa83"/>
<rect x="418.45" y="466.64" width="5.06" height="6.32" fill="#2db27d"/>
<rect x="422.91" y="466.64" width="5.06" height="6.32" fill="#37b878"/>
<rect x="427.36" y="466.64" width="5.06" height="6.32" fill="#40bd72"/>
<rect x="431.82" y="466.64" width="5.06" height="6.32" fill="#4cc26c"/>
<rect x="436.28" y="466.64" width="5.06" height="6.32" fill="#54c568"/>
<rect x="440.74" y="466.64" width="5.06" height="6.32" fill="#5cc863"/>
<rect x="445.2" y="466.64" width="5.06" height="6.32" fill="#63cb5f"/>
<rect x="449.65" y="466.64" width="5.06" height="6.32" fill="#69cd5b"/>
<rect x="454.11" y="466.64" width="5.06" height="6.32" fill="#70cf57"/>
<rect x="458.57" y="466.64" width="5.06" height="6.32" fill="#75d054"/>
<rect x="463.03" y="466.64" width="5.06" height="6.32" fill="#7ad151"/>
<rect x="467.49" y="466.64" width="5.06" height="6.32" fill="#7cd250"/>
<rect x="471.94" y="466.64" width="5.06" height="6.32" fill="#81d34d"/>
<rect x="476.4" y="466.64" width="5.06" height="6.32" fill="#84d44b"/>
<rect x="480.86" y="466.64" width="5.06" height="6.32" fill="#84d44b"/>
<rect x="485.32" y="466.64" width="5.06" height="6.32" fill="#86d549"/>
<rect x="489.78" y="466.64" width="5.06" height="6.32" fill="#86d549"/>
<rect x="494.23" y="466.64" width="5.06" height="6.32" fill="#86d549"/>
<rect x="498.69" y="466.64" width="5.06" height="6.32" fill="#86d549"/>
<rect x="503.15" y="466.64" width="5.06" height="6.32" fill="#86d549"/>
<rect x="507.61" y="466.64" width="5.06" height="6.32" fill="#84d44b"/>
<rect x="512.07" y="466.64" width="5.06" height="6.32" fill="#81d34d"/>
<rect x="516.52" y="466.64" width="5.06" height="6.32" fill="#7fd34e"/>
<rect x="520.98" y="466.64" width="5.06" height="6.32" fill="#7cd250"/>
<rect x="525.44" y="466.64" width="5.06" height="6.32" fill="#77d153"/>
<rect x="529.9" y="466.64" width="5.06" height="6.32" fill="#75d054"/>
<rect x="534.36" y="466.64" width="5.06" height="6.32" fill="#6ece58"/>
<rect x="538.81" y="466.64" width="5.06" height="6.32" fill="#69cd5b"/>
<rect x="543.27" y="466.64" width="5.06" height="6.32" fill="#63cb5f"/>
<rect x="547.73" y="466.64" width="5.06" height="6.32" fill="#5cc863"/>
<rect x="552.19" y="466.64" width="5.06" height="6.32" fill="#56c667"/>
<rect x="556.65" y="466.64" width="5.06" height="6.32" fill="#4ec36b"/>
<rect x="561.1" y="466.64" width="5.06" height="6.32" fill="#46c06f"/>
<rect x="565.56" y="466.64" width="5.06" height="6.32" fill="#3fbc73"/>
<rect x="570.02" y="466.64" width="5.06" height="6.32" fill="#37b878"/>
<rect x="574.48" y="466.64" width="5.06" height="6.32" fill="#2eb37c"/>
<rect x="578.94" y="466.64" width="5.06" height="6.32" fill="#27ad81"/>
<rect x="583.39" y="466.64" width="5.06" height="6.32" fill="#21a685"/>
<rect x="587.85" y="466.64" width="5.06" height="6.32" fill="#1f9f88"/>
<rect x="592.31" y="466.64" width="5.06" height="6.32" fill="#1f948c"/>
<rect x="596.77" y="466.64" width="5.06" height="6.32" fill="#23898e"/>
<rect x="601.23" y="466.64" width="5.06" height="6.32" fill="#297a8e"/>
<rect x="605.68" y="466.64" width="5.06" height="6.32" fill="#32658e"/>
<rect x="610.14" y="466.64" width="4.46" height="6.32" fill="#443a83"/>
<rect x="391.7" y="472.35" width="5.06" height="6.32" fill="#463480"/>
<rect x="396.16" y="472.35" width="5.06" height="6.32" fill="#306a8e"/>
<rect x="400.62" y="472.35" width="5.06" height="6.32" fill="#25858e"/>
<rect x="405.07" y="472.35" width="5.06" height="6.32" fill="#1f988b"/>
<rect x="409.53" y="472.35" width="5.06" height="6.32" fill="#21a685"/>
<rect x="413.99" y="472.35" width="5.06" height="6.32" fill="#2cb17e"/>
<rect x="418.45" y="472.35" width="5.06" height="6.32" fill="#38b977"/>
<rect x="422.91" y="472.35" width="5.06" height="6.32" fill="#46c06f"/>
<rect x="427.36" y="472.35" width="5.06" height="6.32" fill="#52c569"/>
<rect x="431.82" y="472.35" width="5.06" height="6.32" fill="#5cc863"/>
<rect x="436.28" y="472.35" width="5.06" height="6.32" fill="#65cb5e"/>
<rect x="440.74" y="472.35" width="5.06" height="6.32" fill="#6ece58"/>
<rect x="445.2" y="472.35" width="5.06" height="6.32" fill="#75d054"/>
<rect x="449.65" y="472.35" width="5.06" height="6.32" fill="#7cd250"/>
<rect x="454.11" y="472.35" width="5.06" height="6.32" fill="#84d44b"/>
<rect x="458.57" y="472.35" width="5.06" height="6.32" fill="#89d548"/>
<rect x="463.03" y="472.35" width="5.06" height="6.32" fill="#8ed645"/>
<rect x="467.49" y="472.35" width="5.06" height="6.32" fill="#90d743"/>
<rect x="471.94" y="472.35" width="5.06" height="6.32" fill="#93d741"/>
<rect x="476.4" y="472.35" width="5.06" height="6.32" fill="#95d840"/>
<rect x="480.86" y="472.35" width="5.06" height="6.32" fill="#98d83e"/>
<rect x="485.32" y="472.35" width="5.06" height="6.32" fill="#9bd93c"/>
<rect x="489.78" y="472.35" width="5.06" height="6.32" fill="#9bd93c"/>
<rect x="494.23" y="472.35" width="5.06" height="6.32" fill="#9bd93c"/>
<rect x="498.69" y="472.35" width="5.06" height="6.32" fill="#9bd93c"/>
<rect x="503.15" y="472.35" width="5.06" height="6.32" fill="#9bd93c"/>
<rect x="507.61" y="472.35" width="5.06" height="6.32" fill="#98d83e"/>
<rect x="512.07" y="472.35" width="5.06" height="6.32" fill="#98d83e"/>
<rect x="516.52" y="472.35" width="5.06" height="6.32" fill="#95d840"/>
<rect x="520.98" y="472.35" width="5.06" height="6.32" fill="#93d741"/>
<rect x="525.44" y="472.35" width="5.06" height="6.32" fill="#8ed645"/>
<rect x="529.9" y="472.35" width="5.06" height="6.32" fill="#89d548"/>
<rect x="534.36" y="472.35" width="5.06" height="6.32" fill="#86d549"/>
<rect x="538.81" y="472.35" width="5.06" height="6.32" fill="#7fd34e"/>
<rect x="543.27" y="472.35" width="5.06" height="6.32" fill="#7ad151"/>
<rect x="547.73" y="472.35" width="5.06" height="6.32" fill="#73d056"/>
<rect x="552.19" y="472.35" width="5.06" height="6.32" fill="#6ccd5a"/>
<rect x="556.65" y="472.35" width="5.06" height="6.32" fill="#63cb5f"/>
<rect x="561.1" y="472.35" width="5.06" height="6.32" fill="#5ac864"/>
<rect x="565.56" y="472.35" width="5.06" height="6.32" fill="#52c569"/>
<rect x="570.02" y="472.35" width="5.06" height="6.32" fill="#48c16e"/>
<rect x="574.48" y="472.35" width="5.06" height="6.32" fill="#3dbc74"/>
<rect x="578.94" y="472.35" width="5.06" height="6.32" fill="#34b679"/>
<rect x="583.39" y="472.35" width="5.06" height="6.32" fill="#29af7f"/>
<rect x="587.85" y="472.35" width="5.06" height="6.32" fill="#22a785"/>
<rect x="592.31" y="472.35" width="5.06" height="6.32" fill="#1f9e89"/>
<rect x="596.77" y="472.35" width="5.06" height="6.32" fill="#20928c"/>
<rect x="601.23" y="472.35" width="5.06" height="6.32" fill="#26828e"/>
<rect x="605.68" y="472.35" width="5.06" height="6.32" fill="#2f6b8e"/>
<rect x="610.14" y="472.35" width="4.46" height="6.32" fill="#433e85"/>
<rect x="391.7" y="478.07" width="5.06" height="6.32" fill="#453781"/>
<rect x="396.16" y="478.07" width="5.06" height="6.32" fill="#2e6f8e"/>
<rect x="400.62" y="478.07" width="5.06" height="6.32" fill="#228c8d"/>
<rect x="405.07" y="478.07" width="5.06" height="6.32" fill="#1fa088"/>
<rect x="409.53" y="478.07" width="5.06" height="6.32" fill="#27ad81"/>
<rect x="413.99" y="478.07" width="5.06" height="6.32" fill="#37b878"/>
<rect x="418.45" y="478.07" width="5.06" height="6.32" fill="#48c16e"/>
<rect x="422.91" y="478.07" width="5.06" height="6.32" fill="#56c667"/>
<rect x="427.36" y="478.07" width="5.06" height="6.32" fill="#63cb5f"/>
<rect x="431.82" y="478.07" width="5.06" height="6.32" fill="#6ece58"/>
<rect x="436.28" y="478.07" width="5.06" height="6.32" fill="#7ad151"/>
<rect x="440.74" y="478.07" width="5.06" height="6.32" fill="#81d34d"/>
<rect x="445.2" y="478.07" width="5.06" height="6.32" fill="#89d548"/>
<rect x="449.65" y="478.07" width="5.06" height="6.32" fill="#90d743"/>
<rect x="454.11" y="478.07" width="5.06" height="6.32" fill="#95d840"/>
<rect x="458.57" y="478.07" width="5.06" height="6.32" fill="#9bd93c"/>
<rect x="463.03" y="478.07" width="5.06" height="6.32" fill="#a0da39"/>
<rect x="467.49" y="478.07" width="5.06" height="6.32" fill="#a5db36"/>
<rect x="471.94" y="478.07" width="5.06" height="6.32" fill="#a8db34"/>
<rect x="476.4" y="478.07" width="5.06" height="6.32" fill="#aadc32"/>
<rect x="480.86" y="478.07" width="5.06" height="6.32" fill="#addc30"/>
<rect x="485.32" y="478.07" width="5.06" height="6.32" fill="#addc30"/>
<rect x="489.78" y="478.07" width="5.06" height="6.32" fill="#b0dd2f"/>
<rect x="494.23" y="478.07" width="5.06" height="6.32" fill="#b0dd2f"/>
<rect x="498.69" y="478.07" width="5.06" height="6.32" fill="#b0dd2f"/>
<rect x="503.15" y="478.07" width="5.06" height="6.32" fill="#b0dd2f"/>
<rect x="507.61" y="478.07" width="5.06" height="6.32" fill="#addc30"/>
<rect x="512.07" y="478.07" width="5.06" height="6.32" fill="#addc30"/>
<rect x="516.52" y="478.07" width="5.06" height="6.32" fill="#aadc32"/>
<rect x="520.98" y="478.07" width="5.06" height="6.32" fill="#a8db34"/>
<rect x="525.44" y="478.07" width="5.06" height="6.32" fill="#a5db36"/>
<rect x="529.9" y="478.07" width="5.06" height="6.32" fill="#a0da39"/>
<rect x="534.36" y="478.07" width="5.06" height="6.32" fill="#9dd93b"/>
<rect x="538.81" y="478.07" width="5.06" height="6.32" fill="#95d840"/>
<rect x="543.27" y="478.07" width="5.06" height="6.32" fill="#90d743"/>
<rect x="547.73" y="478.07" width="5.06" height="6.32" fill="#89d548"/>
<rect x="552.19" y="478.07" width="5.06" height="6.32" fill="#81d34d"/>
<rect x="556.65" y="478.07" width="5.06" height="6.32" fill="#7ad151"/>
<rect x="561.1" y="478.07" width="5.06" height="6.32" fill="#70cf57"/>
<rect x="565.56" y="478.07" width="5.06" height="6.32" fill="#67cc5c"/>
<rect x="570.02" y="478.07" width="5.06" height="6.32" fill="#5cc863"/>
<rect x="574.48" y="478.07" width="5.06" height="6.32" fill="#50c46a"/>
<rect x="578.94" y="478.07" width="5.06" height="6.32" fill="#44bf70"/>
<rect x="583.39" y="478.07" width="5.06" height="6.32" fill="#37b878"/>
<rect x="587.85" y="478.07" width="5.06" height="6.32" fill="#2ab07f"/>
<rect x="592.31" y="478.07" width="5.06" height="6.32" fill="#21a685"/>
<rect x="596.77" y="478.07" width="5.06" height="6.32" fill="#1f998a"/>
<rect x="601.23" y="478.07" width="5.06" height="6.32" fill="#23888e"/>
<rect x="605.68" y="478.07" width="5.06" height="6.32" fill="#2d718e"/>
<rect x="610.14" y="478.07" width="4.46" height="6.32" fill="#424086"/>
<rect x="391.7" y="483.79" width="5.06" height="6.32" fill="#443a83"/>
<rect x="396.16" y="483.79" width="5.06" height="6.32" fill="#2c738e"/>
<rect x="400.62" y="483.79" width="5.06" height="6.32" fill="#20928c"/>
<rect x="405.07" y="483.79" width="5.06" height="6.32" fill="#21a685"/>
<rect x="409.53" y="483.79" width="5.06" height="6.32" fill="#31b57b"/>
<rect x="413.99" y="483.79" width="5.06" height="6.32" fill="#44bf70"/>
<rect x="418.45" y="483.79" width="5.06" height="6.32" fill="#58c765"/>
<rect x="422.91" y="483.79" width="5.06" height="6.32" fill="#67cc5c"/>
<rect x="427.36" y="483.79" width="5.06" height="6.32" fill="#75d054"/>
<rect x="431.82" y="483.79" width="5.06" height="6.32" fill="#81d34d"/>
<rect x="436.28" y="483.79" width="5.06" height="6.32" fill="#8bd646"/>
<rect x="440.74" y="483.79" width="5.06" height="6.32" fill="#95d840"/>
<rect x="445.2" y="483.79" width="5.06" height="6.32" fill="#9dd93b"/>
<rect x="449.65" y="483.79" width="5.06" height="6.32" fill="#a5db36"/>
<rect x="454.11" y="483.79" width="5.06" height="6.32" fill="#aadc32"/>
<rect x="458.57" y="483.79" width="5.06" height="6.32" fill="#b0dd2f"/>
<rect x="463.03" y="483.79" width="5.06" height="6.32" fill="#b2dd2d"/>
<rect x="467.49" y="483.79" width="5.06" height="6.32" fill="#b8de29"/>
<rect x="471.94" y="483.79" width="5.06" height="6.32" fill="#bade28"/>
<rect x="476.4" y="483.79" width="5.06" height="6.32" fill="#bddf26"/>
<rect x="480.86" y="483.79" width="5.06" height="6.32" fill="#c0df25"/>
<rect x="485.32" y="483.79" width="5.06" height="6.32" fill="#c0df25"/>
<rect x="489.78" y="483.79" width="5.06" height="6.32" fill="#c2df23"/>
<rect x="494.23" y="483.79" width="5.06" height="6.32" fill="#c2df23"/>
<rect x="498.69" y="483.79" width="5.06" height="6.32" fill="#c2df23"/>
<rect x="503.15" y="483.79" width="5.06" height="6.32" fill="#c2df23"/>
<rect x="507.61" y="483.79" width="5.06" height="6.32" fill="#c2df23"/>
<rect x="512.07" y="483.79" width="5.06" height="6.32" fill="#c0df25"/>
<rect x="516.52" y="483.79" width="5.06" height="6.32" fill="#c0df25"/>
<rect x="520.98" y="483.79" width="5.06" height="6.32" fill="#bddf26"/>
<rect x="525.44" y="483.79" width="5.06" height="6.32" fill="#bade28"/>
<rect x="529.9" y="483.79" width="5.06" height="6.32" fill="#b8de29"/>
<rect x="534.36" y="483.79" width="5.06" height="6.32" fill="#b2dd2d"/>
<rect x="538.81" y="483.79" width="5.06" height="6.32" fill="#addc30"/>
<rect x="543.27" y="483.79" width="5.06" height="6.32" fill="#a8db34"/>
<rect x="547.73" y="483.79" width="5.06" height="6.32" fill="#a0da39"/>
<rect x="552.19" y="483.79" width="5.06" height="6.32" fill="#9bd93c"/>
<rect x="556.65" y="483.79" width="5.06" height="6.32" fill="#90d743"/>
<rect x="561.1" y="483.79" width="5.06" height="6.32" fill="#89d548"/>
<rect x="565.56" y="483.79" width="5.06" height="6.32" fill="#7cd250"/>
<rect x="570.02" y="483.79" width="5.06" height="6.32" fill="#70cf57"/>
<rect x="574.48" y="483.79" width="5.06" height="6.32" fill="#65cb5e"/>
<rect x="578.94" y="483.79" width="5.06" height="6.32" fill="#56c667"/>
<rect x="583.39" y="483.79" width="5.06" height="6.32" fill="#48c16e"/>
<rect x="587.85" y="483.79" width="5.06" height="6.32" fill="#37b878"/>
<rect x="592.31" y="483.79" width="5.06" height="6.32" fill="#28ae80"/>
<rect x="596.77" y="483.79" width="5.06" height="6.32" fill="#1fa188"/>
<rect x="601.23" y="483.79" width="5.06" height="6.32" fill="#218f8d"/>
<rect x="605.68" y="483.79" width="5.06" height="6.32" fill="#2a768e"/>
<rect x="610.14" y="483.79" width="4.46" height="6.32" fill="#414487"/>
<rect x="391.7" y="489.51" width="5.06" height="6.32" fill="#423f85"/>
<rect x="396.16" y="489.51" width="5.06" height="6.32" fill="#29798e"/>
<rect x="400.62" y="489.51" width="5.06" height="6.32" fill="#1f988b"/>
<rect x="405.07" y="489.51" width="5.06" height="6.32" fill="#26ad81"/>
<rect x="409.53" y="489.51" width="5.06" height="6.32" fill="#3bbb75"/>
<rect x="413.99" y="489.51" width="5.06" height="6.32" fill="#54c568"/>
<rect x="418.45" y="489.51" width="5.06" height="6.32" fill="#67cc5c"/>
<rect x="422.91" y="489.51" width="5.06" height="6.32" fill="#7ad151"/>
<rect x="427.36" y="489.51" width="5.06" height="6.32" fill="#89d548"/>
<rect x="431.82" y="489.51" width="5.06" height="6.32" fill="#93d741"/>
<rect x="436.28" y="489.51" width="5.06" height="6.32" fill="#9dd93b"/>
<rect x="440.74" y="489.51" width="5.06" height="6.32" fill="#a8db34"/>
<rect x="445.2" y="489.51" width="5.06" height="6.32" fill="#b0dd2f"/>
<rect x="449.65" y="489.51" width="5.06" height="6.32" fill="#b5de2b"/>
<rect x="454.11" y="489.51" width="5.06" height="6.32" fill="#bddf26"/>
<rect x="458.57" y="489.51" width="5.06" height="6.32" fill="#c0df25"/>
<rect x="463.03" y="489.51" width="5.06" height="6.32" fill="#c5e021"/>
<rect x="467.49" y="489.51" width="5.06" height="6.32" fill="#c8e020"/>
<rect x="471.94" y="489.51" width="5.06" height="6.32" fill="#cde11d"/>
<rect x="476.4" y="489.51" width="5.06" height="6.32" fill="#d0e11c"/>
<rect x="480.86" y="489.51" width="5.06" height="6.32" fill="#d0e11c"/>
<rect x="485.32" y="489.51" width="5.06" height="6.32" fill="#d2e21b"/>
<rect x="489.78" y="489.51" width="5.06" height="6.32" fill="#d2e21b"/>
<rect x="494.23" y="489.51" width="5.06" height="6.32" fill="#d5e21a"/>
<rect x="498.69" y="489.51" width="5.06" height="6.32" fill="#d5e21a"/>
<rect x="503.15" y="489.51" width="5.06" height="6.32" fill="#d5e21a"/>
<rect x="507.61" y="489.51" width="5.06" height="6.32" fill="#d5e21a"/>
<rect x="512.07" y="489.51" width="5.06" height="6.32" fill="#d2e21b"/>
<rect x="516.52" y="489.51" width="5.06" height="6.32" fill="#d2e21b"/>
<rect x="520.98" y="489.51" width="5.06" height="6.32" fill="#d0e11c"/>
<rect x="525.44" y="489.51" width="5.06" height="6.32" fill="#cde11d"/>
<rect x="529.9" y="489.51" width="5.06" height="6.32" fill="#cae11f"/>
<rect x="534.36" y="489.51" width="5.06" height="6.32" fill="#c8e020"/>
<rect x="538.81" y="489.51" width="5.06" height="6.32" fill="#c2df23"/>
<rect x="543.27" y="489.51" width="5.06" height="6.32" fill="#bddf26"/>
<rect x="547.73" y="489.51" width="5.06" height="6.32" fill="#b8de29"/>
<rect x="552.19" y="489.51" width="5.06" height="6.32" fill="#b0dd2f"/>
<rect x="556.65" y="489.51" width="5.06" height="6.32" fill="#a8db34"/>
<rect x="561.1" y="489.51" width="5.06" height="6.32" fill="#9dd93b"/>
<rect x="565.56" y="489.51" width="5.06" height="6.32" fill="#93d741"/>
<rect x="570.02" y="489.51" width="5.06" height="6.32" fill="#86d549"/>
<rect x="574.48" y="489.51" width="5.06" height="6.32" fill="#77d153"/>
<rect x="578.94" y="489.51" width="5.06" height="6.32" fill="#69cd5b"/>
<rect x="583.39" y="489.51" width="5.06" height="6.32" fill="#58c765"/>
<rect x="587.85" y="489.51" width="5.06" height="6.32" fill="#46c06f"/>
<rect x="592.31" y="489.51" width="5.06" height="6.32" fill="#32b67a"/>
<rect x="596.77" y="489.51" width="5.06" height="6.32" fill="#22a884"/>
<rect x="601.23" y="489.51" width="5.06" height="6.32" fill="#1f958b"/>
<rect x="605.68" y="489.51" width="5.06" height="6.32" fill="#287c8e"/>
<rect x="610.14" y="489.51" width="4.46" height="6.32" fill="#3f4788"/>
<rect x="391.7" y="495.22" width="5.06" height="6.32" fill="#404588"/>
<rect x="396.16" y="495.22" width="5.06" height="6.32" fill="#27808e"/>
<rect x="400.62" y="495.22" width="5.06" height="6.32" fill="#1f9f88"/>
<rect x="405.07" y="495.22" width="5.06" height="6.32" fill="#2eb37c"/>
<rect x="409.53" y="495.22" width="5.06" height="6.32" fill="#48c16e"/>
<rect x="413.99" y="495.22" width="5.06" height="6.32" fill="#60ca60"/>
<rect x="418.45" y="495.22" width="5.06" height="6.32" fill="#77d153"/>
<rect x="422.91" y="495.22" width="5.06" height="6.32" fill="#89d548"/>
<rect x="427.36" y="495.22" width="5.06" height="6.32" fill="#98d83e"/>
<rect x="431.82" y="495.22" width="5.06" height="6.32" fill="#a5db36"/>
<rect x="436.28" y="495.22" width="5.06" height="6.32" fill="#b0dd2f"/>
<rect x="440.74" y="495.22" width="5.06" height="6.32" fill="#b8de29"/>
<rect x="445.2" y="495.22" width="5.06" height="6.32" fill="#c0df25"/>
<rect x="449.65" y="495.22" width="5.06" height="6.32" fill="#c5e021"/>
<rect x="454.11" y="495.22" width="5.06" height="6.32" fill="#cae11f"/>
<rect x="458.57" y="495.22" width="5.06" height="6.32" fill="#d0e11c"/>
<rect x="463.03" y="495.22" width="5.06" height="6.32" fill="#d5e21a"/>
<rect x="467.49" y="495.22" width="5.06" height="6.32" fill="#d8e219"/>
<rect x="471.94" y="495.22" width="5.06" height="6.32" fill="#dae319"/>
<rect x="476.4" y="495.22" width="5.06" height="6.32" fill="#dde318"/>
<rect x="480.86" y="495.22" width="5.06" height="6.32" fill="#dfe318"/>
<rect x="485.32" y="495.22" width="5.06" height="6.32" fill="#e2e418"/>
<rect x="489.78" y="495.22" width="5.06" height="6.32" fill="#e2e418"/>
<rect x="494.23" y="495.22" width="5.06" height="6.32" fill="#e2e418"/>
<rect x="498.69" y="495.22" width="5.06" height="6.32" fill="#e5e419"/>
<rect x="503.15" y="495.22" width="5.06" height="6.32" fill="#e5e419"/>
<rect x="507.61" y="495.22" width="5.06" height="6.32" fill="#e5e419"/>
<rect x="512.07" y="495.22" width="5.06" height="6.32" fill="#e2e418"/>
<rect x="516.52" y="495.22" width="5.06" height="6.32" fill="#e2e418"/>
<rect x="520.98" y="495.22" width="5.06" height="6.32" fill="#dfe318"/>
<rect x="525.44" y="495.22" width="5.06" height="6.32" fill="#dde318"/>
<rect x="529.9" y="495.22" width="5.06" height="6.32" fill="#dae319"/>
<rect x="534.36" y="495.22" width="5.06" height="6.32" fill="#d8e219"/>
<rect x="538.81" y="495.22" width="5.06" height="6.32" fill="#d2e21b"/>
<rect x="543.27" y="495.22" width="5.06" height="6.32" fill="#d0e11c"/>
<rect x="547.73" y="495.22" width="5.06" height="6.32" fill="#c8e020"/>
<rect x="552.19" y="495.22" width="5.06" height="6.32" fill="#c2df23"/>
<rect x="556.65" y="495.22" width="5.06" height="6.32" fill="#bade28"/>
<rect x="561.1" y="495.22" width="5.06" height="6.32" fill="#b0dd2f"/>
<rect x="565.56" y="495.22" width="5.06" height="6.32" fill="#a5db36"/>
<rect x="570.02" y="495.22" width="5.06" height="6.32" fill="#98d83e"/>
<rect x="574.48" y="495.22" width="5.06" height="6.32" fill="#8bd646"/>
<rect x="578.94" y="495.22" width="5.06" height="6.32" fill="#7ad151"/>
<rect x="583.39" y="495.22" width="5.06" height="6.32" fill="#69cd5b"/>
<rect x="587.85" y="495.22" width="5.06" height="6.32" fill="#54c568"/>
<rect x="592.31" y="495.22" width="5.06" height="6.32" fill="#3fbc73"/>
<rect x="596.77" y="495.22" width="5.06" height="6.32" fill="#29af7f"/>
<rect x="601.23" y="495.22" width="5.06" height="6.32" fill="#1e9d89"/>
<rect x="605.68" y="495.22" width="5.06" height="6.32" fill="#26828e"/>
<rect x="610.14" y="495.22" width="4.46" height="6.32" fill="#3d4d8a"/>
<rect x="391.7" y="500.94" width="5.06" height="6.32" fill="#3e4c8a"/>
<rect x="396.16" y="500.94" width="5.06" height="6.32" fill="#23888e"/>
<rect x="400.62" y="500.94" width="5.06" height="6.32" fill="#21a685"/>
<rect x="405.07" y="500.94" width="5.06" height="6.32" fill="#38b977"/>
<rect x="409.53" y="500.94" width="5.06" height="6.32" fill="#56c667"/>
<rect x="413.99" y="500.94" width="5.06" height="6.32" fill="#6ece58"/>
<rect x="418.45" y="500.94" width="5.06" height="6.32" fill="#84d44b"/>
<rect x="422.91" y="500.94" width="5.06" height="6.32" fill="#95d840"/>
<rect x="427.36" y="500.94" width="5.06" height="6.32" fill="#a5db36"/>
<rect x="431.82" y="500.94" width="5.06" height="6.32" fill="#b0dd2f"/>
<rect x="436.28" y="500.94" width="5.06" height="6.32" fill="#bade28"/>
<rect x="440.74" y="500.94" width="5.06" height="6.32" fill="#c2df23"/>
<rect x="445.2" y="500.94" width="5.06" height="6.32" fill="#cae11f"/>
<rect x="449.65" y="500.94" width="5.06" height="6.32" fill="#d2e21b"/>
<rect x="454.11" y="500.94" width="5.06" height="6.32" fill="#d8e219"/>
<rect x="458.57" y="500.94" width="5.06" height="6.32" fill="#dde318"/>
<rect x="463.03" y="500.94" width="5.06" height="6.32" fill="#dfe318"/>
<rect x="467.49" y="500.94" width="5.06" height="6.32" fill="#e2e418"/>
<rect x="471.94" y="500.94" width="5.06" height="6.32" fill="#e7e419"/>
<rect x="476.4" y="500.94" width="5.06" height="6.32" fill="#eae51a"/>
<rect x="480.86" y="500.94" width="5.06" height="6.32" fill="#eae51a"/>
<rect x="485.32" y="500.94" width="5.06" height="6.32" fill="#ece51b"/>
<rect x="489.78" y="500.94" width="5.06" height="6.32" fill="#ece51b"/>
<rect x="494.23" y="500.94" width="5.06" height="6.32" fill="#efe51c"/>
<rect x="498.69" y="500.94" width="5.06" height="6.32" fill="#efe51c"/>
<rect x="503.15" y="500.94" width="5.06" height="6.32" fill="#efe51c"/>
<rect x="507.61" y="500.94" width="5.06" height="6.32" fill="#efe51c"/>
<rect x="512.07" y="500.94" width="5.06" height="6.32" fill="#efe51c"/>
<rect x="516.52" y="500.94" width="5.06" height="6.32" fill="#ece51b"/>
<rect x="520.98" y="500.94" width="5.06" height="6.32" fill="#ece51b"/>
<rect x="525.44" y="500.94" width="5.06" height="6.32" fill="#eae51a"/>
<rect x="529.9" y="500.94" width="5.06" height="6.32" fill="#e7e419"/>
<rect x="534.36" y="500.94" width="5.06" height="6.32" fill="#e5e419"/>
<rect x="538.81" y="500.94" width="5.06" height="6.32" fill="#dfe318"/>
<rect x="543.27" y="500.94" width="5.06" height="6.32" fill="#dae319"/>
<rect x="547.73" y="500.94" width="5.06" height="6.32" fill="#d5e21a"/>
<rect x="552.19" y="500.94" width="5.06" height="6.32" fill="#d0e11c"/>
<rect x="556.65" y="500.94" width="5.06" height="6.32" fill="#c8e020"/>
<rect x="561.1" y="500.94" width="5.06" height="6.32" fill="#bddf26"/>
<rect x="565.56" y="500.94" width="5.06" height="6.32" fill="#b2dd2d"/>
<rect x="570.02" y="500.94" width="5.06" height="6.32" fill="#a5db36"/>
<rect x="574.48" y="500.94" width="5.06" height="6.32" fill="#98d83e"/>
<rect x="578.94" y="500.94" width="5.06" height="6.32" fill="#89d548"/>
<rect x="583.39" y="500.94" width="5.06" height="6.32" fill="#77d153"/>
<rect x="587.85" y="500.94" width="5.06" height="6.32" fill="#63cb5f"/>
<rect x="592.31" y="500.94" width="5.06" height="6.32" fill="#4cc26c"/>
<rect x="596.77" y="500.94" width="5.06" height="6.32" fill="#34b679"/>
<rect x="601.23" y="500.94" width="5.06" height="6.32" fill="#20a486"/>
<rect x="605.68" y="500.94" width="5.06" height="6.32" fill="#228b8d"/>
<rect x="610.14" y="500.94" width="4.46" height="6.32" fill="#3b528b"/>
<rect x="391.7" y="506.66" width="5.06" height="6.32" fill="#33638d"/>
<rect x="396.16" y="506.66" width="5.06" height="6.32" fill="#1f978b"/>
<rect x="400.62" y="506.66" width="5.06" height="6.32" fill="#2cb17e"/>
<rect x="405.07" y="506.66" width="5.06" height="6.32" fill="#48c16e"/>
<rect x="409.53" y="506.66" width="5.06" height="6.32" fill="#65cb5e"/>
<rect x="413.99" y="506.66" width="5.06" height="6.32" fill="#7cd250"/>
<rect x="418.45" y="506.66" width="5.06" height="6.32" fill="#90d743"/>
<rect x="422.91" y="506.66" width="5.06" height="6.32" fill="#a2da37"/>
<rect x="427.36" y="506.66" width="5.06" height="6.32" fill="#b0dd2f"/>
<rect x="431.82" y="506.66" width="5.06" height="6.32" fill="#bade28"/>
<rect x="436.28" y="506.66" width="5.06" height="6.32" fill="#c5e021"/>
<rect x="440.74" y="506.66" width="5.06" height="6.32" fill="#cde11d"/>
<rect x="445.2" y="506.66" width="5.06" height="6.32" fill="#d5e21a"/>
<rect x="449.65" y="506.66" width="5.06" height="6.32" fill="#dde318"/>
<rect x="454.11" y="506.66" width="5.06" height="6.32" fill="#e2e418"/>
<rect x="458.57" y="506.66" width="5.06" height="6.32" fill="#e5e419"/>
<rect x="463.03" y="506.66" width="5.06" height="6.32" fill="#eae51a"/>
<rect x="467.49" y="506.66" width="5.06" height="6.32" fill="#ece51b"/>
<rect x="471.94" y="506.66" width="5.06" height="6.32" fill="#efe51c"/>
<rect x="476.4" y="506.66" width="5.06" height="6.32" fill="#f1e51d"/>
<rect x="480.86" y="506.66" width="5.06" height="6.32" fill="#f4e61e"/>
<rect x="485.32" y="506.66" width="5.06" height="6.32" fill="#f6e620"/>
<rect x="489.78" y="506.66" width="5.06" height="6.32" fill="#f6e620"/>
<rect x="494.23" y="506.66" width="5.06" height="6.32" fill="#f8e621"/>
<rect x="498.69" y="506.66" width="5.06" height="6.32" fill="#f8e621"/>
<rect x="503.15" y="506.66" width="5.06" height="6.32" fill="#f8e621"/>
<rect x="507.61" y="506.66" width="5.06" height="6.32" fill="#f8e621"/>
<rect x="512.07" y="506.66" width="5.06" height="6.32" fill="#f8e621"/>
<rect x="516.52" y="506.66" width="5.06" height="6.32" fill="#f6e620"/>
<rect x="520.98" y="506.66" width="5.06" height="6.32" fill="#f6e620"/>
<rect x="525.44" y="506.66" width="5.06" height="6.32" fill="#f4e61e"/>
<rect x="529.9" y="506.66" width="5.06" height="6.32" fill="#f1e51d"/>
<rect x="534.36" y="506.66" width="5.06" height="6.32" fill="#efe51c"/>
<rect x="538.81" y="506.66" width="5.06" height="6.32" fill="#eae51a"/>
<rect x="543.27" y="506.66" width="5.06" height="6.32" fill="#e5e419"/>
<rect x="547.73" y="506.66" width="5.06" height="6.32" fill="#dfe318"/>
<rect x="552.19" y="506.66" width="5.06" height="6.32" fill="#d8e219"/>
<rect x="556.65" y="506.66" width="5.06" height="6.32" fill="#d0e11c"/>
<rect x="561.1" y="506.66" width="5.06" height="6.32" fill="#c8e020"/>
<rect x="565.56" y="506.66" width="5.06" height="6.32" fill="#bddf26"/>
<rect x="570.02" y="506.66" width="5.06" height="6.32" fill="#b2dd2d"/>
<rect x="574.48" y="506.66" width="5.06" height="6.32" fill="#a2da37"/>
<rect x="578.94" y="506.66" width="5.06" height="6.32" fill="#93d741"/>
<rect x="583.39" y="506.66" width="5.06" height="6.32" fill="#84d44b"/>
<rect x="587.85" y="506.66" width="5.06" height="6.32" fill="#70cf57"/>
<rect x="592.31" y="506.66" width="5.06" height="6.32" fill="#5ac864"/>
<rect x="596.77" y="506.66" width="5.06" height="6.32" fill="#42be71"/>
<rect x="601.23" y="506.66" width="5.06" height="6.32" fill="#29af7f"/>
<rect x="605.68" y="506.66" width="5.06" height="6.32" fill="#1f9a8a"/>
<rect x="610.14" y="506.66" width="4.46" height="6.32" fill="#30698e"/>
<rect x="391.7" y="512.38" width="5.06" height="6.32" fill="#277e8e"/>
<rect x="396.16" y="512.38" width="5.06" height="6.32" fill="#22a785"/>
<rect x="400.62" y="512.38" width="5.06" height="6.32" fill="#3bbb75"/>
<rect x="405.07" y="512.38" width="5.06" height="6.32" fill="#58c765"/>
<rect x="409.53" y="512.38" width="5.06" height="6.32" fill="#70cf57"/>
<rect x="413.99" y="512.38" width="5.06" height="6.32" fill="#86d549"/>
<rect x="418.45" y="512.38" width="5.06" height="6.32" fill="#9bd93c"/>
<rect x="422.91" y="512.38" width="5.06" height="6.32" fill="#aadc32"/>
<rect x="427.36" y="512.38" width="5.06" height="6.32" fill="#b8de29"/>
<rect x="431.82" y="512.38" width="5.06" height="6.32" fill="#c2df23"/>
<rect x="436.28" y="512.38" width="5.06" height="6.32" fill="#cde11d"/>
<rect x="440.74" y="512.38" width="5.06" height="6.32" fill="#d5e21a"/>
<rect x="445.2" y="512.38" width="5.06" height="6.32" fill="#dde318"/>
<rect x="449.65" y="512.38" width="5.06" height="6.32" fill="#e2e418"/>
<rect x="454.11" y="512.38" width="5.06" height="6.32" fill="#e7e419"/>
<rect x="458.57" y="512.38" width="5.06" height="6.32" fill="#ece51b"/>
<rect x="463.03" y="512.38" width="5.06" height="6.32" fill="#f1e51d"/>
<rect x="467.49" y="512.38" width="5.06" height="6.32" fill="#f4e61e"/>
<rect x="471.94" y="512.38" width="5.06" height="6.32" fill="#f6e620"/>
<rect x="476.4" y="512.38" width="5.06" height="6.32" fill="#f8e621"/>
<rect x="480.86" y="512.38" width="5.06" height="6.32" fill="#fbe723"/>
<rect x="485.32" y="512.38" width="5.06" height="6.32" fill="#fbe723"/>
<rect x="489.78" y="512.38" width="5.06" height="6.32" fill="#fde725"/>
<rect x="494.23" y="512.38" width="5.06" height="6.32" fill="#fde725"/>
<rect x="498.69" y="512.38" width="5.06" height="6.32" fill="#fde725"/>
<rect x="503.15" y="512.38" width="5.06" height="6.32" fill="#fde725"/>
<rect x="507.61" y="512.38" width="5.06" height="6.32" fill="#fde725"/>
<rect x="512.07" y="512.38" width="5.06" height="6.32" fill="#fde725"/>
<rect x="516.52" y="512.38" width="5.06" height="6.32" fill="#fde725"/>
<rect x="520.98" y="512.38" width="5.06" height="6.32" fill="#fbe723"/>
<rect x="525.44" y="512.38" width="5.06" height="6.32" fill="#fbe723"/>
<rect x="529.9" y="512.38" width="5.06" height="6.32" fill="#f8e621"/>
<rect x="534.36" y="512.38" width="5.06" height="6.32" fill="#f4e61e"/>
<rect x="538.81" y="512.38" width="5.06" height="6.32" fill="#f1e51d"/>
<rect x="543.27" y="512.38" width="5.06" height="6.32" fill="#ece51b"/>
<rect x="547.73" y="512.38" width="5.06" height="6.32" fill="#e7e419"/>
<rect x="552.19" y="512.38" width="5.06" height="6.32" fill="#dfe318"/>
<rect x="556.65" y="512.38" width="5.06" height="6.32" fill="#d8e219"/>
<rect x="561.1" y="512.38" width="5.06" height="6.32" fill="#d0e11c"/>
<rect x="565.56" y="512.38" width="5.06" height="6.32" fill="#c5e021"/>
<rect x="570.02" y="512.38" width="5.06" height="6.32" fill="#b8de29"/>
<rect x="574.48" y="512.38" width="5.06" height="6.32" fill="#aadc32"/>
<rect x="578.94" y="512.38" width="5.06" height="6.32" fill="#9dd93b"/>
<rect x="583.39" y="512.38" width="5.06" height="6.32" fill="#8bd646"/>
<rect x="587.85" y="512.38" width="5.06" height="6.32" fill="#7ad151"/>
<rect x="592.31" y="512.38" width="5.06" height="6.32" fill="#65cb5e"/>
<rect x="596.77" y="512.38" width="5.06" height="6.32" fill="#50c46a"/>
<rect x="601.23" y="512.38" width="5.06" height="6.32" fill="#38b977"/>
<rect x="605.68" y="512.38" width="5.06" height="6.32" fill="#24aa83"/>
<rect x="610.14" y="512.38" width="4.46" height="6.32" fill="#25848e"/>
<rect x="391.7" y="518.09" width="5.06" height="6.32" fill="#25838e"/>
<rect x="396.16" y="518.09" width="5.06" height="6.32" fill="#25ab82"/>
<rect x="400.62" y="518.09" width="5.06" height="6.32" fill="#3fbc73"/>
<rect x="405.07" y="518.09" width="5.06" height="6.32" fill="#5ac864"/>
<rect x="409.53" y="518.09" width="5.06" height="6.32" fill="#73d056"/>
<rect x="413.99" y="518.09" width="5.06" height="6.32" fill="#89d548"/>
<rect x="418.45" y="518.09" width="5.06" height="6.32" fill="#9bd93c"/>
<rect x="422.91" y="518.09" width="5.06" height="6.32" fill="#aadc32"/>
<rect x="427.36" y="518.09" width="5.06" height="6.32" fill="#b8de29"/>
<rect x="431.82" y="518.09" width="5.06" height="6.32" fill="#c5e021"/>
<rect x="436.28" y="518.09" width="5.06" height="6.32" fill="#cde11d"/>
<rect x="440.74" y="518.09" width="5.06" height="6.32" fill="#d8e219"/>
<rect x="445.2" y="518.09" width="5.06" height="6.32" fill="#dde318"/>
<rect x="449.65" y="518.09" width="5.06" height="6.32" fill="#e5e419"/>
<rect x="454.11" y="518.09" width="5.06" height="6.32" fill="#eae51a"/>
<rect x="458.57" y="518.09" width="5.06" height="6.32" fill="#efe51c"/>
<rect x="463.03" y="518.09" width="5.06" height="6.32" fill="#f1e51d"/>
<rect x="467.49" y="518.09" width="5.06" height="6.32" fill="#f4e61e"/>
<rect x="471.94" y="518.09" width="5.06" height="6.32" fill="#f8e621"/>
<rect x="476.4" y="518.09" width="5.06" height="6.32" fill="#f8e621"/>
<rect x="480.86" y="518.09" width="5.06" height="6.32" fill="#fbe723"/>
<rect x="485.32" y="518.09" width="5.06" height="6.32" fill="#fde725"/>
<rect x="489.78" y="518.09" width="5.06" height="6.32" fill="#fde725"/>
<rect x="494.23" y="518.09" width="5.06" height="6.32" fill="#fde725"/>
<rect x="498.69" y="518.09" width="5.06" height="6.32" fill="#fde725"/>
<rect x="503.15" y="518.09" width="5.06" height="6.32" fill="#fde725"/>
<rect x="507.61" y="518.09" width="5.06" height="6.32" fill="#fde725"/>
<rect x="512.07" y="518.09" width="5.06" height="6.32" fill="#fde725"/>
<rect x="516.52" y="518.09" width="5.06" height="6.32" fill="#fde725"/>
<rect x="520.98" y="518.09" width="5.06" height="6.32" fill="#fde725"/>
<rect x="525.44" y="518.09" width="5.06" height="6.32" fill="#fbe723"/>
<rect x="529.9" y="518.09" width="5.06" height="6.32" fill="#f8e621"/>
<rect x="534.36" y="518.09" width="5.06" height="6.32" fill="#f6e620"/>
<rect x="538.81" y="518.09" width="5.06" height="6.32" fill="#f1e51d"/>
<rect x="543.27" y="518.09" width="5.06" height="6.32" fill="#ece51b"/>
<rect x="547.73" y="518.09" width="5.06" height="6.32" fill="#e7e419"/>
<rect x="552.19" y="518.09" width="5.06" height="6.32" fill="#e2e418"/>
<rect x="556.65" y="518.09" width="5.06" height="6.32" fill="#dae319"/>
<rect x="561.1" y="518.09" width="5.06" height="6.32" fill="#d0e11c"/>
<rect x="565.56" y="518.09" width="5.06" height="6.32" fill="#c5e021"/>
<rect x="570.02" y="518.09" width="5.06" height="6.32" fill="#bade28"/>
<rect x="574.48" y="518.09" width="5.06" height="6.32" fill="#addc30"/>
<rect x="578.94" y="518.09" width="5.06" height="6.32" fill="#9dd93b"/>
<rect x="583.39" y="518.09" width="5.06" height="6.32" fill="#8ed645"/>
<rect x="587.85" y="518.09" width="5.06" height="6.32" fill="#7cd250"/>
<rect x="592.31" y="518.09" width="5.06" height="6.32" fill="#67cc5c"/>
<rect x="596.77" y="518.09" width="5.06" height="6.32" fill="#52c569"/>
<rect x="601.23" y="518.09" width="5.06" height="6.32" fill="#3bbb75"/>
<rect x="605.68" y="518.09" width="5.06" height="6.32" fill="#26ad81"/>
<rect x="610.14" y="518.09" width="4.46" height="6.32" fill="#23898e"/>
<rect x="391.7" y="523.81" width="5.06" height="6.32" fill="#25848e"/>
<rect x="396.16" y="523.81" width="5.06" height="6.32" fill="#25ab82"/>
<rect x="400.62" y="523.81" width="5.06" height="6.32" fill="#3fbc73"/>
<rect x="405.07" y="523.81" width="5.06" height="6.32" fill="#5ac864"/>
<rect x="409.53" y="523.81" width="5.06" height="6.32" fill="#73d056"/>
<rect x="413.99" y="523.81" width="5.06" height="6.32" fill="#89d548"/>
<rect x="418.45" y="523.81" width="5.06" height="6.32" fill="#9bd93c"/>
<rect x="422.91" y="523.81" width="5.06" height="6.32" fill="#aadc32"/>
<rect x="427.36" y="523.81" width="5.06" height="6.32" fill="#b8de29"/>
<rect x="431.82" y="523.81" width="5.06" height="6.32" fill="#c5e021"/>
<rect x="436.28" y="523.81" width="5.06" height="6.32" fill="#cde11d"/>
<rect x="440.74" y="523.81" width="5.06" height="6.32" fill="#d8e219"/>
<rect x="445.2" y="523.81" width="5.06" height="6.32" fill="#dde318"/>
<rect x="449.65" y="523.81" width="5.06" height="6.32" fill="#e5e419"/>
<rect x="454.11" y="523.81" width="5.06" height="6.32" fill="#eae51a"/>
<rect x="458.57" y="523.81" width="5.06" height="6.32" fill="#efe51c"/>
<rect x="463.03" y="523.81" width="5.06" height="6.32" fill="#f1e51d"/>
<rect x="467.49" y="523.81" width="5.06" height="6.32" fill="#f4e61e"/>
<rect x="471.94" y="523.81" width="5.06" height="6.32" fill="#f6e620"/>
<rect x="476.4" y="523.81" width="5.06" height="6.32" fill="#f8e621"/>
<rect x="480.86" y="523.81" width="5.06" height="6.32" fill="#fbe723"/>
<rect x="485.32" y="523.81" width="5.06" height="6.32" fill="#fde725"/>
<rect x="489.78" y="523.81" width="5.06" height="6.32" fill="#fde725"/>
<rect x="494.23" y="523.81" width="5.06" height="6.32" fill="#fde725"/>
<rect x="498.69" y="523.81" width="5.06" height="6.32" fill="#fde725"/>
<rect x="503.15" y="523.81" width="5.06" height="6.32" fill="#fde725"/>
<rect x="507.61" y="523.81" width="5.06" height="6.32" fill="#fde725"/>
<rect x="512.07" y="523.81" width="5.06" height="6.32" fill="#fde725"/>
<rect x="516.52" y="523.81" width="5.06" height="6.32" fill="#fde725"/>
<rect x="520.98" y="523.81" width="5.06" height="6.32" fill="#fde725"/>
<rect x="525.44" y="523.81" width="5.06" height="6.32" fill="#fbe723"/>
<rect x="529.9" y="523.81" width="5.06" height="6.32" fill="#f8e621"/>
<rect x="534.36" y="523.81" width="5.06" height="6.32" fill="#f6e620"/>
<rect x="538.81" y="523.81" width="5.06" height="6.32" fill="#f1e51d"/>
<rect x="543.27" y="523.81" width="5.06" height="6.32" fill="#ece51b"/>
<rect x="547.73" y="523.81" width="5.06" height="6.32" fill="#e7e419"/>
<rect x="552.19" y="523.81" width="5.06" height="6.32" fill="#e2e418"/>
<rect x="556.65" y="523.81" width="5.06" height="6.32" fill="#dae319"/>
<rect x="561.1" y="523.81" width="5.06" height="6.32" fill="#d0e11c"/>
<rect x="565.56" y="523.81" width="5.06" height="6.32" fill="#c5e021"/>
<rect x="570.02" y="523.81" width="5.06" height="6.32" fill="#bade28"/>
<rect x="574.48" y="523.81" width="5.06" height="6.32" fill="#addc30"/>
<rect x="578.94" y="523.81" width="5.06" height="6.32" fill="#9dd93b"/>
<rect x="583.39" y="523.81" width="5.06" height="6.32" fill="#8ed645"/>
<rect x="587.85" y="523.81" width="5.06" height="6.32" fill="#7cd250"/>
<rect x="592.31" y="523.81" width="5.06" height="6.32" fill="#67cc5c"/>
<rect x="596.77" y="523.81" width="5.06" height="6.32" fill="#52c569"/>
<rect x="601.23" y="523.81" width="5.06" height="6.32" fill="#3bbb75"/>
<rect x="605.68" y="523.81" width="5.06" height="6.32" fill="#26ad81"/>
<rect x="610.14" y="523.81" width="4.46" height="6.32" fill="#23898e"/>
<rect x="391.7" y="529.53" width="5.06" height="6.32" fill="#25858e"/>
<rect x="396.16" y="529.53" width="5.06" height="6.32" fill="#25ab82"/>
<rect x="400.62" y="529.53" width="5.06" height="6.32" fill="#3fbc73"/>
<rect x="405.07" y="529.53" width="5.06" height="6.32" fill="#5ac864"/>
<rect x="409.53" y="529.53" width="5.06" height="6.32" fill="#73d056"/>
<rect x="413.99" y="529.53" width="5.06" height="6.32" fill="#89d548"/>
<rect x="418.45" y="529.53" width="5.06" height="6.32" fill="#9bd93c"/>
<rect x="422.91" y="529.53" width="5.06" height="6.32" fill="#aadc32"/>
<rect x="427.36" y="529.53" width="5.06" height="6.32" fill="#b8de29"/>
<rect x="431.82" y="529.53" width="5.06" height="6.32" fill="#c5e021"/>
<rect x="436.28" y="529.53" width="5.06" height="6.32" fill="#cde11d"/>
<rect x="440.74" y="529.53" width="5.06" height="6.32" fill="#d8e219"/>
<rect x="445.2" y="529.53" width="5.06" height="6.32" fill="#dde318"/>
<rect x="449.65" y="529.53" width="5.06" height="6.32" fill="#e5e419"/>
<rect x="454.11" y="529.53" width="5.06" height="6.32" fill="#eae51a"/>
<rect x="458.57" y="529.53" width="5.06" height="6.32" fill="#efe51c"/>
<rect x="463.03" y="529.53" width="5.06" height="6.32" fill="#f1e51d"/>
<rect x="467.49" y="529.53" width="5.06" height="6.32" fill="#f4e61e"/>
<rect x="471.94" y="529.53" width="5.06" height="6.32" fill="#f6e620"/>
<rect x="476.4" y="529.53" width="5.06" height="6.32" fill="#f8e621"/>
<rect x="480.86" y="529.53" width="5.06" height="6.32" fill="#fbe723"/>
<rect x="485.32" y="529.53" width="5.06" height="6.32" fill="#fbe723"/>
<rect x="489.78" y="529.53" width="5.06" height="6.32" fill="#fde725"/>
<rect x="494.23" y="529.53" width="5.06" height="6.32" fill="#fde725"/>
<rect x="498.69" y="529.53" width="5.06" height="6.32" fill="#fde725"/>
<rect x="503.15" y="529.53" width="5.06" height="6.32" fill="#fde725"/>
<rect x="507.61" y="529.53" width="5.06" height="6.32" fill="#fde725"/>
<rect x="512.07" y="529.53" width="5.06" height="6.32" fill="#fde725"/>
<rect x="516.52" y="529.53" width="5.06" height="6.32" fill="#fde725"/>
<rect x="520.98" y="529.53" width="5.06" height="6.32" fill="#fde725"/>
<rect x="525.44" y="529.53" width="5.06" height="6.32" fill="#fbe723"/>
<rect x="529.9" y="529.53" width="5.06" height="6.32" fill="#f8e621"/>
<rect x="534.36" y="529.53" width="5.06" height="6.32" fill="#f6e620"/>
<rect x="538.81" y="529.53" width="5.06" height="6.32" fill="#f1e51d"/>
<rect x="543.27" y="529.53" width="5.06" height="6.32" fill="#ece51b"/>
<rect x="547.73" y="529.53" width="5.06" height="6.32" fill="#e7e419"/>
<rect x="552.19" y="529.53" width="5.06" height="6.32" fill="#e2e418"/>
<rect x="556.65" y="529.53" width="5.06" height="6.32" fill="#dae319"/>
<rect x="561.1" y="529.53" width="5.06" height="6.32" fill="#d0e11c"/>
<rect x="565.56" y="529.53" width="5.06" height="6.32" fill="#c5e021"/>
<rect x="570.02" y="529.53" width="5.06" height="6.32" fill="#bade28"/>
<rect x="574.48" y="529.53" width="5.06" height="6.32" fill="#addc30"/>
<rect x="578.94" y="529.53" width="5.06" height="6.32" fill="#9dd93b"/>
<rect x="583.39" y="529.53" width="5.06" height="6.32" fill="#8ed645"/>
<rect x="587.85" y="529.53" width="5.06" height="6.32" fill="#7cd250"/>
<rect x="592.31" y="529.53" width="5.06" height="6.32" fill="#67cc5c"/>
<rect x="596.77" y="529.53" width="5.06" height="6.32" fill="#52c569"/>
<rect x="601.23" y="529.53" width="5.06" height="6.32" fill="#3bbb75"/>
<rect x="605.68" y="529.53" width="5.06" height="6.32" fill="#26ad81"/>
<rect x="610.14" y="529.53" width="4.46" height="6.32" fill="#23898e"/>
<rect x="391.7" y="535.25" width="5.06" height="6.32" fill="#24868e"/>
<rect x="396.16" y="535.25" width="5.06" height="6.32" fill="#25ac82"/>
<rect x="400.62" y="535.25" width="5.06" height="6.32" fill="#3fbc73"/>
<rect x="405.07" y="535.25" width="5.06" height="6.32" fill="#5ac864"/>
<rect x="409.53" y="535.25" width="5.06" height="6.32" fill="#73d056"/>
<rect x="413.99" y="535.25" width="5.06" height="6.32" fill="#89d548"/>
<rect x="418.45" y="535.25" width="5.06" height="6.32" fill="#9bd93c"/>
<rect x="422.91" y="535.25" width="5.06" height="6.32" fill="#aadc32"/>
<rect x="427.36" y="535.25" width="5.06" height="6.32" fill="#b8de29"/>
<rect x="431.82" y="535.25" width="5.06" height="6.32" fill="#c2df23"/>
<rect x="436.28" y="535.25" width="5.06" height="6.32" fill="#cde11d"/>
<rect x="440.74" y="535.25" width="5.06" height="6.32" fill="#d5e21a"/>
<rect x="445.2" y="535.25" width="5.06" height="6.32" fill="#dde318"/>
<rect x="449.65" y="535.25" width="5.06" height="6.32" fill="#e5e419"/>
<rect x="454.11" y="535.25" width="5.06" height="6.32" fill="#eae51a"/>
<rect x="458.57" y="535.25" width="5.06" height="6.32" fill="#efe51c"/>
<rect x="463.03" y="535.25" width="5.06" height="6.32" fill="#f1e51d"/>
<rect x="467.49" y="535.25" width="5.06" height="6.32" fill="#f4e61e"/>
<rect x="471.94" y="535.25" width="5.06" height="6.32" fill="#f6e620"/>
<rect x="476.4" y="535.25" width="5.06" height="6.32" fill="#f8e621"/>
<rect x="480.86" y="535.25" width="5.06" height="6.32" fill="#f8e621"/>
<rect x="485.32" y="535.25" width="5.06" height="6.32" fill="#fbe723"/>
<rect x="489.78" y="535.25" width="5.06" height="6.32" fill="#fbe723"/>
<rect x="494.23" y="535.25" width="5.06" height="6.32" fill="#fbe723"/>
<rect x="498.69" y="535.25" width="5.06" height="6.32" fill="#fbe723"/>
<rect x="503.15" y="535.25" width="5.06" height="6.32" fill="#fbe723"/>
<rect x="507.61" y="535.25" width="5.06" height="6.32" fill="#fbe723"/>
<rect x="512.07" y="535.25" width="5.06" height="6.32" fill="#fbe723"/>
<rect x="516.52" y="535.25" width="5.06" height="6.32" fill="#fbe723"/>
<rect x="520.98" y="535.25" width="5.06" height="6.32" fill="#fbe723"/>
<rect x="525.44" y="535.25" width="5.06" height="6.32" fill="#fbe723"/>
<rect x="529.9" y="535.25" width="5.06" height="6.32" fill="#f8e621"/>
<rect x="534.36" y="535.25" width="5.06" height="6.32" fill="#f6e620"/>
<rect x="538.81" y="535.25" width="5.06" height="6.32" fill="#f1e51d"/>
<rect x="543.27" y="535.25" width="5.06" height="6.32" fill="#ece51b"/>
<rect x="547.73" y="535.25" width="5.06" height="6.32" fill="#e7e419"/>
<rect x="552.19" y="535.25" width="5.06" height="6.32" fill="#dfe318"/>
<rect x="556.65" y="535.25" width="5.06" height="6.32" fill="#dae319"/>
<rect x="561.1" y="535.25" width="5.06" height="6.32" fill="#d0e11c"/>
<rect x="565.56" y="535.25" width="5.06" height="6.32" fill="#c5e021"/>
<rect x="570.02" y="535.25" width="5.06" height="6.32" fill="#bade28"/>
<rect x="574.48" y="535.25" width="5.06" height="6.32" fill="#addc30"/>
<rect x="578.94" y="535.25" width="5.06" height="6.32" fill="#9dd93b"/>
<rect x="583.39" y="535.25" width="5.06" height="6.32" fill="#8ed645"/>
<rect x="587.85" y="535.25" width="5.06" height="6.32" fill="#7cd250"/>
<rect x="592.31" y="535.25" width="5.06" height="6.32" fill="#67cc5c"/>
<rect x="596.77" y="535.25" width="5.06" height="6.32" fill="#52c569"/>
<rect x="601.23" y="535.25" width="5.06" height="6.32" fill="#3bbb75"/>
<rect x="605.68" y="535.25" width="5.06" height="6.32" fill="#25ac82"/>
<rect x="610.14" y="535.25" width="4.46" height="6.32" fill="#23898e"/>
<rect x="391.7" y="540.96" width="5.06" height="6.32" fill="#24868e"/>
<rect x="396.16" y="540.96" width="5.06" height="6.32" fill="#25ac82"/>
<rect x="400.62" y="540.96" width="5.06" height="6.32" fill="#3fbc73"/>
<rect x="405.07" y="540.96" width="5.06" height="6.32" fill="#5ac864"/>
<rect x="409.53" y="540.96" width="5.06" height="6.32" fill="#73d056"/>
<rect x="413.99" y="540.96" width="5.06" height="6.32" fill="#86d549"/>
<rect x="418.45" y="540.96" width="5.06" height="6.32" fill="#9bd93c"/>
<rect x="422.91" y="540.96" width="5.06" height="6.32" fill="#aadc32"/>
<rect x="427.36" y="540.96" width="5.06" height="6.32" fill="#b8de29"/>
<rect x="431.82" y="540.96" width="5.06" height="6.32" fill="#c2df23"/>
<rect x="436.28" y="540.96" width="5.06" height="6.32" fill="#cde11d"/>
<rect x="440.74" y="540.96" width="5.06" height="6.32" fill="#d5e21a"/>
<rect x="445.2" y="540.96" width="5.06" height="6.32" fill="#dde318"/>
<rect x="449.65" y="540.96" width="5.06" height="6.32" fill="#e5e419"/>
<rect x="454.11" y="540.96" width="5.06" height="6.32" fill="#eae51a"/>
<rect x="458.57" y="540.96" width="5.06" height="6.32" fill="#ece51b"/>
<rect x="463.03" y="540.96" width="5.06" height="6.32" fill="#f1e51d"/>
<rect x="467.49" y="540.96" width="5.06" height="6.32" fill="#f4e61e"/>
<rect x="471.94" y="540.96" width="5.06" height="6.32" fill="#f6e620"/>
<rect x="476.4" y="540.96" width="5.06" height="6.32" fill="#f8e621"/>
<rect x="480.86" y="540.96" width="5.06" height="6.32" fill="#f8e621"/>
<rect x="485.32" y="540.96" width="5.06" height="6.32" fill="#f8e621"/>
<rect x="489.78" y="540.96" width="5.06" height="6.32" fill="#f8e621"/>
<rect x="494.23" y="540.96" width="5.06" height="6.32" fill="#f8e621"/>
<rect x="498.69" y="540.96" width="5.06" height="6.32" fill="#f8e621"/>
<rect x="503.15" y="540.96" width="5.06" height="6.32" fill="#f8e621"/>
<rect x="507.61" y="540.96" width="5.06" height="6.32" fill="#f8e621"/>
<rect x="512.07" y="540.96" width="5.06" height="6.32" fill="#fbe723"/>
<rect x="516.52" y="540.96" width="5.06" height="6.32" fill="#fbe723"/>
<rect x="520.98" y="540.96" width="5.06" height="6.32" fill="#fbe723"/>
<rect x="525.44" y="540.96" width="5.06" height="6.32" fill="#f8e621"/>
<rect x="529.9" y="540.96" width="5.06" height="6.32" fill="#f8e621"/>
<rect x="534.36" y="540.96" width="5.06" height="6.32" fill="#f4e61e"/>
<rect x="538.81" y="540.96" width="5.06" height="6.32" fill="#f1e51d"/>
<rect x="543.27" y="540.96" width="5.06" height="6.32" fill="#ece51b"/>
<rect x="547.73" y="540.96" width="5.06" height="6.32" fill="#e7e419"/>
<rect x="552.19" y="540.96" width="5.06" height="6.32" fill="#dfe318"/>
<rect x="556.65" y="540.96" width="5.06" height="6.32" fill="#d8e219"/>
<rect x="561.1" y="540.96" width="5.06" height="6.32" fill="#d0e11c"/>
<rect x="565.56" y="540.96" width="5.06" height="6.32" fill="#c5e021"/>
<rect x="570.02" y="540.96" width="5.06" height="6.32" fill="#bade28"/>
<rect x="574.48" y="540.96" width="5.06" height="6.32" fill="#addc30"/>
<rect x="578.94" y="540.96" width="5.06" height="6.32" fill="#9dd93b"/>
<rect x="583.39" y="540.96" width="5.06" height="6.32" fill="#8ed645"/>
<rect x="587.85" y="540.96" width="5.06" height="6.32" fill="#7cd250"/>
<rect x="592.31" y="540.96" width="5.06" height="6.32" fill="#67cc5c"/>
<rect x="596.77" y="540.96" width="5.06" height="6.32" fill="#52c569"/>
<rect x="601.23" y="540.96" width="5.06" height="6.32" fill="#3bbb75"/>
<rect x="605.68" y="540.96" width="5.06" height="6.32" fill="#25ac82"/>
<rect x="610.14" y="540.96" width="4.46" height="6.32" fill="#23898e"/>
<rect x="391.7" y="546.68" width="5.06" height="6.32" fill="#24878e"/>
<rect x="396.16" y="546.68" width="5.06" height="6.32" fill="#25ac82"/>
<rect x="400.62" y="546.68" width="5.06" height="6.32" fill="#3fbc73"/>
<rect x="405.07" y="546.68" width="5.06" height="6.32" fill="#5ac864"/>
<rect x="409.53" y="546.68" width="5.06" height="6.32" fill="#70cf57"/>
<rect x="413.99" y="546.68" width="5.06" height="6.32" fill="#86d549"/>
<rect x="418.45" y="546.68" width="5.06" height="6.32" fill="#98d83e"/>
<rect x="422.91" y="546.68" width="5.06" height="6.32" fill="#a8db34"/>
<rect x="427.36" y="546.68" width="5.06" height="6.32" fill="#b5de2b"/>
<rect x="431.82" y="546.68" width="5.06" height="6.32" fill="#c2df23"/>
<rect x="436.28" y="546.68" width="5.06" height="6.32" fill="#cde11d"/>
<rect x="440.74" y="546.68" width="5.06" height="6.32" fill="#d5e21a"/>
<rect x="445.2" y="546.68" width="5.06" height="6.32" fill="#dde318"/>
<rect x="449.65" y="546.68" width="5.06" height="6.32" fill="#e2e418"/>
<rect x="454.11" y="546.68" width="5.06" height="6.32" fill="#eae51a"/>
<rect x="458.57" y="546.68" width="5.06" height="6.32" fill="#ece51b"/>
<rect x="463.03" y="546.68" width="5.06" height="6.32" fill="#f1e51d"/>
<rect x="467.49" y="546.68" width="5.06" height="6.32" fill="#f4e61e"/>
<rect x="471.94" y="546.68" width="5.06" height="6.32" fill="#f6e620"/>
<rect x="476.4" y="546.68" width="5.06" height="6.32" fill="#f6e620"/>
<rect x="480.86" y="546.68" width="5.06" height="6.32" fill="#f6e620"/>
<rect x="485.32" y="546.68" width="5.06" height="6.32" fill="#f6e620"/>
<rect x="489.78" y="546.68" width="5.06" height="6.32" fill="#f6e620"/>
<rect x="494.23" y="546.68" width="5.06" height="6.32" fill="#f4e61e"/>
<rect x="498.69" y="546.68" width="5.06" height="6.32" fill="#f4e61e"/>
<rect x="503.15" y="546.68" width="5.06" height="6.32" fill="#f4e61e"/>
<rect x="507.61" y="546.68" width="5.06" height="6.32" fill="#f6e620"/>
<rect x="512.07" y="546.68" width="5.06" height="6.32" fill="#f8e621"/>
<rect x="516.52" y="546.68" width="5.06" height="6.32" fill="#f8e621"/>
<rect x="520.98" y="546.68" width="5.06" height="6.32" fill="#f8e621"/>
<rect x="525.44" y="546.68" width="5.06" height="6.32" fill="#f8e621"/>
<rect x="529.9" y="546.68" width="5.06" height="6.32" fill="#f6e620"/>
<rect x="534.36" y="546.68" width="5.06" height="6.32" fill="#f4e61e"/>
<rect x="538.81" y="546.68" width="5.06" height="6.32" fill="#f1e51d"/>
<rect x="543.27" y="546.68" width="5.06" height="6.32" fill="#ece51b"/>
<rect x="547.73" y="546.68" width="5.06" height="6.32" fill="#e7e419"/>
<rect x="552.19" y="546.68" width="5.06" height="6.32" fill="#dfe318"/>
<rect x="556.65" y="546.68" width="5.06" height="6.32" fill="#d8e219"/>
<rect x="561.1" y="546.68" width="5.06" height="6.32" fill="#d0e11c"/>
<rect x="565.56" y="546.68" width="5.06" height="6.32" fill="#c5e021"/>
<rect x="570.02" y="546.68" width="5.06" height="6.32" fill="#bade28"/>
<rect x="574.48" y="546.68" width="5.06" height="6.32" fill="#addc30"/>
<rect x="578.94" y="546.68" width="5.06" height="6.32" fill="#9dd93b"/>
<rect x="583.39" y="546.68" width="5.06" height="6.32" fill="#8ed645"/>
<rect x="587.85" y="546.68" width="5.06" height="6.32" fill="#7ad151"/>
<rect x="592.31" y="546.68" width="5.06" height="6.32" fill="#67cc5c"/>
<rect x="596.77" y="546.68" width="5.06" height="6.32" fill="#52c569"/>
<rect x="601.23" y="546.68" width="5.06" height="6.32" fill="#3bbb75"/>
<rect x="605.68" y="546.68" width="5.06" height="6.32" fill="#25ac82"/>
<rect x="610.14" y="546.68" width="4.46" height="6.32" fill="#23888e"/>
<rect x="391.7" y="552.4" width="5.06" height="6.32" fill="#24878e"/>
<rect x="396.16" y="552.4" width="5.06" height="6.32" fill="#25ac82"/>
<rect x="400.62" y="552.4" width="5.06" height="6.32" fill="#3fbc73"/>
<rect x="405.07" y="552.4" width="5.06" height="6.32" fill="#58c765"/>
<rect x="409.53" y="552.4" width="5.06" height="6.32" fill="#70cf57"/>
<rect x="413.99" y="552.4" width="5.06" height="6.32" fill="#84d44b"/>
<rect x="418.45" y="552.4" width="5.06" height="6.32" fill="#98d83e"/>
<rect x="422.91" y="552.4" width="5.06" height="6.32" fill="#a8db34"/>
<rect x="427.36" y="552.4" width="5.06" height="6.32" fill="#b5de2b"/>
<rect x="431.82" y="552.4" width="5.06" height="6.32" fill="#c0df25"/>
<rect x="436.28" y="552.4" width="5.06" height="6.32" fill="#cae11f"/>
<rect x="440.74" y="552.4" width="5.06" height="6.32" fill="#d5e21a"/>
<rect x="445.2" y="552.4" width="5.06" height="6.32" fill="#dde318"/>
<rect x="449.65" y="552.4" width="5.06" height="6.32" fill="#e2e418"/>
<rect x="454.11" y="552.4" width="5.06" height="6.32" fill="#eae51a"/>
<rect x="458.57" y="552.4" width="5.06" height="6.32" fill="#ece51b"/>
<rect x="463.03" y="552.4" width="5.06" height="6.32" fill="#f1e51d"/>
<rect x="467.49" y="552.4" width="5.06" height="6.32" fill="#f4e61e"/>
<rect x="471.94" y="552.4" width="5.06" height="6.32" fill="#f6e620"/>
<rect x="476.4" y="552.4" width="5.06" height="6.32" fill="#f6e620"/>
<rect x="480.86" y="552.4" width="5.06" height="6.32" fill="#f6e620"/>
<rect x="485.32" y="552.4" width="5.06" height="6.32" fill="#f4e61e"/>
<rect x="489.78" y="552.4" width="5.06" height="6.32" fill="#f4e61e"/>
<rect x="494.23" y="552.4" width="5.06" height="6.32" fill="#f1e51d"/>
<rect x="498.69" y="552.4" width="5.06" height="6.32" fill="#f1e51d"/>
<rect x="503.15" y="552.4" width="5.06" height="6.32" fill="#f1e51d"/>
<rect x="507.61" y="552.4" width="5.06" height="6.32" fill="#f1e51d"/>
<rect x="512.07" y="552.4" width="5.06" height="6.32" fill="#f4e61e"/>
<rect x="516.52" y="552.4" width="5.06" height="6.32" fill="#f6e620"/>
<rect x="520.98" y="552.4" width="5.06" height="6.32" fill="#f8e621"/>
<rect x="525.44" y="552.4" width="5.06" height="6.32" fill="#f8e621"/>
<rect x="529.9" y="552.4" width="5.06" height="6.32" fill="#f6e620"/>
<rect x="534.36" y="552.4" width="5.06" height="6.32" fill="#f4e61e"/>
<rect x="538.81" y="552.4" width="5.06" height="6.32" fill="#f1e51d"/>
<rect x="543.27" y="552.4" width="5.06" height="6.32" fill="#ece51b"/>
<rect x="547.73" y="552.4" width="5.06" height="6.32" fill="#e7e419"/>
<rect x="552.19" y="552.4" width="5.06" height="6.32" fill="#dfe318"/>
<rect x="556.65" y="552.4" width="5.06" height="6.32" fill="#d8e219"/>
<rect x="561.1" y="552.4" width="5.06" height="6.32" fill="#d0e11c"/>
<rect x="565.56" y="552.4" width="5.06" height="6.32" fill="#c5e021"/>
<rect x="570.02" y="552.4" width="5.06" height="6.32" fill="#b8de29"/>
<rect x="574.48" y="552.4" width="5.06" height="6.32" fill="#addc30"/>
<rect x="578.94" y="552.4" width="5.06" height="6.32" fill="#9dd93b"/>
<rect x="583.39" y="552.4" width="5.06" height="6.32" fill="#8ed645"/>
<rect x="587.85" y="552.4" width="5.06" height="6.32" fill="#7ad151"/>
<rect x="592.31" y="552.4" width="5.06" height="6.32" fill="#67cc5c"/>
<rect x="596.77" y="552.4" width="5.06" height="6.32" fill="#52c569"/>
<rect x="601.23" y="552.4" width="5.06" height="6.32" fill="#3aba76"/>
<rect x="605.68" y="552.4" width="5.06" height="6.32" fill="#25ab82"/>
<rect x="610.14" y="552.4" width="4.46" height="6.32" fill="#23888e"/>
<rect x="391.7" y="558.12" width="5.06" height="6.32" fill="#24878e"/>
<rect x="396.16" y="558.12" width="5.06" height="6.32" fill="#25ac82"/>
<rect x="400.62" y="558.12" width="5.06" height="6.32" fill="#3fbc73"/>
<rect x="405.07" y="558.12" width="5.06" height="6.32" fill="#58c765"/>
<rect x="409.53" y="558.12" width="5.06" height="6.32" fill="#6ece58"/>
<rect x="413.99" y="558.12" width="5.06" height="6.32" fill="#84d44b"/>
<rect x="418.45" y="558.12" width="5.06" height="6.32" fill="#95d840"/>
<rect x="422.91" y="558.12" width="5.06" height="6.32" fill="#a5db36"/>
<rect x="427.36" y="558.12" width="5.06" height="6.32" fill="#b5de2b"/>
<rect x="431.82" y="558.12" width="5.06" height="6.32" fill="#c0df25"/>
<rect x="436.28" y="558.12" width="5.06" height="6.32" fill="#cae11f"/>
<rect x="440.74" y="558.12" width="5.06" height="6.32" fill="#d5e21a"/>
<rect x="445.2" y="558.12" width="5.06" height="6.32" fill="#dde318"/>
<rect x="449.65" y="558.12" width="5.06" height="6.32" fill="#e2e418"/>
<rect x="454.11" y="558.12" width="5.06" height="6.32" fill="#e7e419"/>
<rect x="458.57" y="558.12" width="5.06" height="6.32" fill="#ece51b"/>
<rect x="463.03" y="558.12" width="5.06" height="6.32" fill="#f1e51d"/>
<rect x="467.49" y="558.12" width="5.06" height="6.32" fill="#f4e61e"/>
<rect x="471.94" y="558.12" width="5.06" height="6.32" fill="#f4e61e"/>
<rect x="476.4" y="558.12" width="5.06" height="6.32" fill="#f6e620"/>
<rect x="480.86" y="558.12" width="5.06" height="6.32" fill="#f4e61e"/>
<rect x="485.32" y="558.12" width="5.06" height="6.32" fill="#f1e51d"/>
<rect x="489.78" y="558.12" width="5.06" height="6.32" fill="#efe51c"/>
<rect x="494.23" y="558.12" width="5.06" height="6.32" fill="#efe51c"/>
<rect x="498.69" y="558.12" width="5.06" height="6.32" fill="#ece51b"/>
<rect x="503.15" y="558.12" width="5.06" height="6.32" fill="#ece51b"/>
<rect x="507.61" y="558.12" width="5.06" height="6.32" fill="#efe51c"/>
<rect x="512.07" y="558.12" width="5.06" height="6.32" fill="#f1e51d"/>
<rect x="516.52" y="558.12" width="5.06" height="6.32" fill="#f4e61e"/>
<rect x="520.98" y="558.12" width="5.06" height="6.32" fill="#f6e620"/>
<rect x="525.44" y="558.12" width="5.06" height="6.32" fill="#f6e620"/>
<rect x="529.9" y="558.12" width="5.06" height="6.32" fill="#f6e620"/>
<rect x="534.36" y="558.12" width="5.06" height="6.32" fill="#f4e61e"/>
<rect x="538.81" y="558.12" width="5.06" height="6.32" fill="#efe51c"/>
<rect x="543.27" y="558.12" width="5.06" height="6.32" fill="#ece51b"/>
<rect x="547.73" y="558.12" width="5.06" height="6.32" fill="#e7e419"/>
<rect x="552.19" y="558.12" width="5.06" height="6.32" fill="#dfe318"/>
<rect x="556.65" y="558.12" width="5.06" height="6.32" fill="#d8e219"/>
<rect x="561.1" y="558.12" width="5.06" height="6.32" fill="#d0e11c"/>
<rect x="565.56" y="558.12" width="5.06" height="6.32" fill="#c5e021"/>
<rect x="570.02" y="558.12" width="5.06" height="6.32" fill="#b8de29"/>
<rect x="574.48" y="558.12" width="5.06" height="6.32" fill="#aadc32"/>
<rect x="578.94" y="558.12" width="5.06" height="6.32" fill="#9dd93b"/>
<rect x="583.39" y="558.12" width="5.06" height="6.32" fill="#8bd646"/>
<rect x="587.85" y="558.12" width="5.06" height="6.32" fill="#7ad151"/>
<rect x="592.31" y="558.12" width="5.06" height="6.32" fill="#67cc5c"/>
<rect x="596.77" y="558.12" width="5.06" height="6.32" fill="#52c569"/>
<rect x="601.23" y="558.12" width="5.06" height="6.32" fill="#3aba76"/>
<rect x="605.68" y="558.12" width="5.06" height="6.32" fill="#25ab82"/>
<rect x="610.14" y="558.12" width="4.46" height="6.32" fill="#23888e"/>
<rect x="391.7" y="563.84" width="5.06" height="6.32" fill="#24878e"/>
<rect x="396.16" y="563.84" width="5.06" height="6.32" fill="#25ac82"/>
<rect x="400.62" y="563.84" width="5.06" height="6.32" fill="#3fbc73"/>
<rect x="405.07" y="563.84" width="5.06" height="6.32" fill="#58c765"/>
<rect x="409.53" y="563.84" width="5.06" height="6.32" fill="#6ece58"/>
<rect x="413.99" y="563.84" width="5.06" height="6.32" fill="#81d34d"/>
<rect x="418.45" y="563.84" width="5.06" height="6.32" fill="#95d840"/>
<rect x="422.91" y="563.84" width="5.06" height="6.32" fill="#a5db36"/>
<rect x="427.36" y="563.84" width="5.06" height="6.32" fill="#b2dd2d"/>
<rect x="431.82" y="563.84" width="5.06" height="6.32" fill="#c0df25"/>
<rect x="436.28" y="563.84" width="5.06" height="6.32" fill="#cae11f"/>
<rect x="440.74" y="563.84" width="5.06" height="6.32" fill="#d2e21b"/>
<rect x="445.2" y="563.84" width="5.06" height="6.32" fill="#dae319"/>
<rect x="449.65" y="563.84" width="5.06" height="6.32" fill="#e2e418"/>
<rect x="454.11" y="563.84" width="5.06" height="6.32" fill="#e7e419"/>
<rect x="458.57" y="563.84" width="5.06" height="6.32" fill="#ece51b"/>
<rect x="463.03" y="563.84" width="5.06" height="6.32" fill="#f1e51d"/>
<rect x="467.49" y="563.84" width="5.06" height="6.32" fill="#f4e61e"/>
<rect x="471.94" y="563.84" width="5.06" height="6.32" fill="#f4e61e"/>
<rect x="476.4" y="563.84" width="5.06" height="6.32" fill="#f4e61e"/>
<rect x="480.86" y="563.84" width="5.06" height="6.32" fill="#f1e51d"/>
<rect x="485.32" y="563.84" width="5.06" height="6.32" fill="#efe51c"/>
<rect x="489.78" y="563.84" width="5.06" height="6.32" fill="#ece51b"/>
<rect x="494.23" y="563.84" width="5.06" height="6.32" fill="#eae51a"/>
<rect x="498.69" y="563.84" width="5.06" height="6.32" fill="#e7e419"/>
<rect x="503.15" y="563.84" width="5.06" height="6.32" fill="#eae51a"/>
<rect x="507.61" y="563.84" width="5.06" height="6.32" fill="#ece51b"/>
<rect x="512.07" y="563.84" width="5.06" height="6.32" fill="#efe51c"/>
<rect x="516.52" y="563.84" width="5.06" height="6.32" fill="#f4e61e"/>
<rect x="520.98" y="563.84" width="5.06" height="6.32" fill="#f4e61e"/>
<rect x="525.44" y="563.84" width="5.06" height="6.32" fill="#f6e620"/>
<rect x="529.9" y="563.84" width="5.06" height="6.32" fill="#f4e61e"/>
<rect x="534.36" y="563.84" width="5.06" height="6.32" fill="#f1e51d"/>
<rect x="538.81" y="563.84" width="5.06" height="6.32" fill="#efe51c"/>
<rect x="543.27" y="563.84" width="5.06" height="6.32" fill="#eae51a"/>
<rect x="547.73" y="563.84" width="5.06" height="6.32" fill="#e5e419"/>
<rect x="552.19" y="563.84" width="5.06" height="6.32" fill="#dfe318"/>
<rect x="556.65" y="563.84" width="5.06" height="6.32" fill="#d8e219"/>
<rect x="561.1" y="563.84" width="5.06" height="6.32" fill="#cde11d"/>
<rect x="565.56" y="563.84" width="5.06" height="6.32" fill="#c5e021"/>
<rect x="570.02" y="563.84" width="5.06" height="6.32" fill="#b8de29"/>
<rect x="574.48" y="563.84" width="5.06" height="6.32" fill="#aadc32"/>
<rect x="578.94" y="563.84" width="5.06" height="6.32" fill="#9dd93b"/>
<rect x="583.39" y="563.84" width="5.06" height="6.32" fill="#8bd646"/>
<rect x="587.85" y="563.84" width="5.06" height="6.32" fill="#7ad151"/>
<rect x="592.31" y="563.84" width="5.06" height="6.32" fill="#67cc5c"/>
<rect x="596.77" y="563.84" width="5.06" height="6.32" fill="#52c569"/>
<rect x="601.23" y="563.84" width="5.06" height="6.32" fill="#3aba76"/>
<rect x="605.68" y="563.84" width="5.06" height="6.32" fill="#24aa83"/>
<rect x="610.14" y="563.84" width="4.46" height="6.32" fill="#24878e"/>
<rect x="391.7" y="569.55" width="5.06" height="6.32" fill="#24878e"/>
<rect x="396.16" y="569.55" width="5.06" height="6.32" fill="#25ac82"/>
<rect x="400.62" y="569.55" width="5.06" height="6.32" fill="#3dbc74"/>
<rect x="405.07" y="569.55" width="5.06" height="6.32" fill="#56c667"/>
<rect x="409.53" y="569.55" width="5.06" height="6.32" fill="#6ccd5a"/>
<rect x="413.99" y="569.55" width="5.06" height="6.32" fill="#81d34d"/>
<rect x="418.45" y="569.55" width="5.06" height="6.32" fill="#93d741"/>
<rect x="422.91" y="569.55" width="5.06" height="6.32" fill="#a2da37"/>
<rect x="427.36" y="569.55" width="5.06" height="6.32" fill="#b0dd2f"/>
<rect x="431.82" y="569.55" width="5.06" height="6.32" fill="#bddf26"/>
<rect x="436.28" y="569.55" width="5.06" height="6.32" fill="#c8e020"/>
<rect x="440.74" y="569.55" width="5.06" height="6.32" fill="#d2e21b"/>
<rect x="445.2" y="569.55" width="5.06" height="6.32" fill="#dae319"/>
<rect x="449.65" y="569.55" width="5.06" height="6.32" fill="#e2e418"/>
<rect x="454.11" y="569.55" width="5.06" height="6.32" fill="#e7e419"/>
<rect x="458.57" y="569.55" width="5.06" height="6.32" fill="#ece51b"/>
<rect x="463.03" y="569.55" width="5.06" height="6.32" fill="#efe51c"/>
<rect x="467.49" y="569.55" width="5.06" height="6.32" fill="#f1e51d"/>
<rect x="471.94" y="569.55" width="5.06" height="6.32" fill="#f4e61e"/>
<rect x="476.4" y="569.55" width="5.06" height="6.32" fill="#f4e61e"/>
<rect x="480.86" y="569.55" width="5.06" height="6.32" fill="#f1e51d"/>
<rect x="485.32" y="569.55" width="5.06" height="6.32" fill="#ece51b"/>
<rect x="489.78" y="569.55" width="5.06" height="6.32" fill="#eae51a"/>
<rect x="494.23" y="569.55" width="5.06" height="6.32" fill="#e7e419"/>
<rect x="498.69" y="569.55" width="5.06" height="6.32" fill="#e5e419"/>
<rect x="503.15" y="569.55" width="5.06" height="6.32" fill="#e5e419"/>
<rect x="507.61" y="569.55" width="5.06" height="6.32" fill="#e7e419"/>
<rect x="512.07" y="569.55" width="5.06" height="6.32" fill="#ece51b"/>
<rect x="516.52" y="569.55" width="5.06" height="6.32" fill="#f1e51d"/>
<rect x="520.98" y="569.55" width="5.06" height="6.32" fill="#f4e61e"/>
<rect x="525.44" y="569.55" width="5.06" height="6.32" fill="#f4e61e"/>
<rect x="529.9" y="569.55" width="5.06" height="6.32" fill="#f4e61e"/>
<rect x="534.36" y="569.55" width="5.06" height="6.32" fill="#f1e51d"/>
<rect x="538.81" y="569.55" width="5.06" height="6.32" fill="#efe51c"/>
<rect x="543.27" y="569.55" width="5.06" height="6.32" fill="#eae51a"/>
<rect x="547.73" y="569.55" width="5.06" height="6.32" fill="#e5e419"/>
<rect x="552.19" y="569.55" width="5.06" height="6.32" fill="#dfe318"/>
<rect x="556.65" y="569.55" width="5.06" height="6.32" fill="#d8e219"/>
<rect x="561.1" y="569.55" width="5.06" height="6.32" fill="#cde11d"/>
<rect x="565.56" y="569.55" width="5.06" height="6.32" fill="#c2df23"/>
<rect x="570.02" y="569.55" width="5.06" height="6.32" fill="#b8de29"/>
<rect x="574.48" y="569.55" width="5.06" height="6.32" fill="#aadc32"/>
<rect x="578.94" y="569.55" width="5.06" height="6.32" fill="#9bd93c"/>
<rect x="583.39" y="569.55" width="5.06" height="6.32" fill="#8bd646"/>
<rect x="587.85" y="569.55" width="5.06" height="6.32" fill="#7ad151"/>
<rect x="592.31" y="569.55" width="5.06" height="6.32" fill="#65cb5e"/>
<rect x="596.77" y="569.55" width="5.06" height="6.32" fill="#50c46a"/>
<rect x="601.23" y="569.55" width="5.06" height="6.32" fill="#38b977"/>
<rect x="605.68" y="569.55" width="5.06" height="6.32" fill="#23a983"/>
<rect x="610.14" y="569.55" width="4.46" height="6.32" fill="#24878e"/>
<rect x="391.7" y="575.27" width="5.06" height="6.32" fill="#24878e"/>
<rect x="396.16" y="575.27" width="5.06" height="6.32" fill="#25ac82"/>
<rect x="400.62" y="575.27" width="5.06" height="6.32" fill="#3dbc74"/>
<rect x="405.07" y="575.27" width="5.06" height="6.32" fill="#54c568"/>
<rect x="409.53" y="575.27" width="5.06" height="6.32" fill="#69cd5b"/>
<rect x="413.99" y="575.27" width="5.06" height="6.32" fill="#7fd34e"/>
<rect x="418.45" y="575.27" width="5.06" height="6.32" fill="#90d743"/>
<rect x="422.91" y="575.27" width="5.06" height="6.32" fill="#a0da39"/>
<rect x="427.36" y="575.27" width="5.06" height="6.32" fill="#addc30"/>
<rect x="431.82" y="575.27" width="5.06" height="6.32" fill="#bade28"/>
<rect x="436.28" y="575.27" width="5.06" height="6.32" fill="#c5e021"/>
<rect x="440.74" y="575.27" width="5.06" height="6.32" fill="#d0e11c"/>
<rect x="445.2" y="575.27" width="5.06" height="6.32" fill="#d8e219"/>
<rect x="449.65" y="575.27" width="5.06" height="6.32" fill="#dfe318"/>
<rect x="454.11" y="575.27" width="5.06" height="6.32" fill="#e5e419"/>
<rect x="458.57" y="575.27" width="5.06" height="6.32" fill="#eae51a"/>
<rect x="463.03" y="575.27" width="5.06" height="6.32" fill="#efe51c"/>
<rect x="467.49" y="575.27" width="5.06" height="6.32" fill="#f1e51d"/>
<rect x="471.94" y="575.27" width="5.06" height="6.32" fill="#f1e51d"/>
<rect x="476.4" y="575.27" width="5.06" height="6.32" fill="#f1e51d"/>
<rect x="480.86" y="575.27" width="5.06" height="6.32" fill="#ece51b"/>
<rect x="485.32" y="575.27" width="5.06" height="6.32" fill="#eae51a"/>
<rect x="489.78" y="575.27" width="5.06" height="6.32" fill="#e5e419"/>
<rect x="494.23" y="575.27" width="5.06" height="6.32" fill="#e2e418"/>
<rect x="498.69" y="575.27" width="5.06" height="6.32" fill="#dfe318"/>
<rect x="503.15" y="575.27" width="5.06" height="6.32" fill="#dfe318"/>
<rect x="507.61" y="575.27" width="5.06" height="6.32" fill="#e2e418"/>
<rect x="512.07" y="575.27" width="5.06" height="6.32" fill="#e7e419"/>
<rect x="516.52" y="575.27" width="5.06" height="6.32" fill="#ece51b"/>
<rect x="520.98" y="575.27" width="5.06" height="6.32" fill="#efe51c"/>
<rect x="525.44" y="575.27" width="5.06" height="6.32" fill="#f1e51d"/>
<rect x="529.9" y="575.27" width="5.06" height="6.32" fill="#f1e51d"/>
<rect x="534.36" y="575.27" width="5.06" height="6.32" fill="#efe51c"/>
<rect x="538.81" y="575.27" width="5.06" height="6.32" fill="#ece51b"/>
<rect x="543.27" y="575.27" width="5.06" height="6.32" fill="#e7e419"/>
<rect x="547.73" y="575.27" width="5.06" height="6.32" fill="#e2e418"/>
<rect x="552.19" y="575.27" width="5.06" height="6.32" fill="#dde318"/>
<rect x="556.65" y="575.27" width="5.06" height="6.32" fill="#d5e21a"/>
<rect x="561.1" y="575.27" width="5.06" height="6.32" fill="#cae11f"/>
<rect x="565.56" y="575.27" width="5.06" height="6.32" fill="#c2df23"/>
<rect x="570.02" y="575.27" width="5.06" height="6.32" fill="#b5de2b"/>
<rect x="574.48" y="575.27" width="5.06" height="6.32" fill="#a8db34"/>
<rect x="578.94" y="575.27" width="5.06" height="6.32" fill="#9bd93c"/>
<rect x="583.39" y="575.27" width="5.06" height="6.32" fill="#89d548"/>
<rect x="587.85" y="575.27" width="5.06" height="6.32" fill="#77d153"/>
<rect x="592.31" y="575.27" width="5.06" height="6.32" fill="#65cb5e"/>
<rect x="596.77" y="575.27" width="5.06" height="6.32" fill="#50c46a"/>
<rect x="601.23" y="575.27" width="5.06" height="6.32" fill="#38b977"/>
<rect x="605.68" y="575.27" width="5.06" height="6.32" fill="#22a884"/>
<rect x="610.14" y="575.27" width="4.46" height="6.32" fill="#24868e"/>
<rect x="391.7" y="580.99" width="5.06" height="6.32" fill="#24868e"/>
<rect x="396.16" y="580.99" width="5.06" height="6.32" fill="#25ab82"/>
<rect x="400.62" y="580.99" width="5.06" height="6.32" fill="#3bbb75"/>
<rect x="405.07" y="580.99" width="5.06" height="6.32" fill="#52c569"/>
<rect x="409.53" y="580.99" width="5.06" height="6.32" fill="#67cc5c"/>
<rect x="413.99" y="580.99" width="5.06" height="6.32" fill="#7ad151"/>
<rect x="418.45" y="580.99" width="5.06" height="6.32" fill="#8ed645"/>
<rect x="422.91" y="580.99" width="5.06" height="6.32" fill="#9dd93b"/>
<rect x="427.36" y="580.99" width="5.06" height="6.32" fill="#aadc32"/>
<rect x="431.82" y="580.99" width="5.06" height="6.32" fill="#b8de29"/>
<rect x="436.28" y="580.99" width="5.06" height="6.32" fill="#c2df23"/>
<rect x="440.74" y="580.99" width="5.06" height="6.32" fill="#cde11d"/>
<rect x="445.2" y="580.99" width="5.06" height="6.32" fill="#d5e21a"/>
<rect x="449.65" y="580.99" width="5.06" height="6.32" fill="#dde318"/>
<rect x="454.11" y="580.99" width="5.06" height="6.32" fill="#e2e418"/>
<rect x="458.57" y="580.99" width="5.06" height="6.32" fill="#e7e419"/>
<rect x="463.03" y="580.99" width="5.06" height="6.32" fill="#ece51b"/>
<rect x="467.49" y="580.99" width="5.06" height="6.32" fill="#efe51c"/>
<rect x="471.94" y="580.99" width="5.06" height="6.32" fill="#efe51c"/>
<rect x="476.4" y="580.99" width="5.06" height="6.32" fill="#ece51b"/>
<rect x="480.86" y="580.99" width="5.06" height="6.32" fill="#eae51a"/>
<rect x="485.32" y="580.99" width="5.06" height="6.32" fill="#e5e419"/>
<rect x="489.78" y="580.99" width="5.06" height="6.32" fill="#dfe318"/>
<rect x="494.23" y="580.99" width="5.06" height="6.32" fill="#dae319"/>
<rect x="498.69" y="580.99" width="5.06" height="6.32" fill="#d8e219"/>
<rect x="503.15" y="580.99" width="5.06" height="6.32" fill="#dae319"/>
<rect x="507.61" y="580.99" width="5.06" height="6.32" fill="#dde318"/>
<rect x="512.07" y="580.99" width="5.06" height="6.32" fill="#e2e418"/>
<rect x="516.52" y="580.99" width="5.06" height="6.32" fill="#eae51a"/>
<rect x="520.98" y="580.99" width="5.06" height="6.32" fill="#ece51b"/>
<rect x="525.44" y="580.99" width="5.06" height="6.32" fill="#efe51c"/>
<rect x="529.9" y="580.99" width="5.06" height="6.32" fill="#efe51c"/>
<rect x="534.36" y="580.99" width="5.06" height="6.32" fill="#ece51b"/>
<rect x="538.81" y="580.99" width="5.06" height="6.32" fill="#eae51a"/>
<rect x="543.27" y="580.99" width="5.06" height="6.32" fill="#e5e419"/>
<rect x="547.73" y="580.99" width="5.06" height="6.32" fill="#dfe318"/>
<rect x="552.19" y="580.99" width="5.06" height="6.32" fill="#dae319"/>
<rect x="556.65" y="580.99" width="5.06" height="6.32" fill="#d2e21b"/>
<rect x="561.1" y="580.99" width="5.06" height="6.32" fill="#c8e020"/>
<rect x="565.56" y="580.99" width="5.06" height="6.32" fill="#c0df25"/>
<rect x="570.02" y="580.99" width="5.06" height="6.32" fill="#b2dd2d"/>
<rect x="574.48" y="580.99" width="5.06" height="6.32" fill="#a5db36"/>
<rect x="578.94" y="580.99" width="5.06" height="6.32" fill="#98d83e"/>
<rect x="583.39" y="580.99" width="5.06" height="6.32" fill="#86d549"/>
<rect x="587.85" y="580.99" width="5.06" height="6.32" fill="#75d054"/>
<rect x="592.31" y="580.99" width="5.06" height="6.32" fill="#63cb5f"/>
<rect x="596.77" y="580.99" width="5.06" height="6.32" fill="#4ec36b"/>
<rect x="601.23" y="580.99" width="5.06" height="6.32" fill="#35b779"/>
<rect x="605.68" y="580.99" width="5.06" height="6.32" fill="#22a785"/>
<rect x="610.14" y="580.99" width="4.46" height="6.32" fill="#25858e"/>
<rect x="391.7" y="586.71" width="5.06" height="6.32" fill="#25858e"/>
<rect x="396.16" y="586.71" width="5.06" height="6.32" fill="#24aa83"/>
<rect x="400.62" y="586.71" width="5.06" height="6.32" fill="#38b977"/>
<rect x="405.07" y="586.71" width="5.06" height="6.32" fill="#50c46a"/>
<rect x="409.53" y="586.71" width="5.06" height="6.32" fill="#65cb5e"/>
<rect x="413.99" y="586.71" width="5.06" height="6.32" fill="#77d153"/>
<rect x="418.45" y="586.71" width="5.06" height="6.32" fill="#89d548"/>
<rect x="422.91" y="586.71" width="5.06" height="6.32" fill="#98d83e"/>
<rect x="427.36" y="586.71" width="5.06" height="6.32" fill="#a8db34"/>
<rect x="431.82" y="586.71" width="5.06" height="6.32" fill="#b2dd2d"/>
<rect x="436.28" y="586.71" width="5.06" height="6.32" fill="#c0df25"/>
<rect x="440.74" y="586.71" width="5.06" height="6.32" fill="#c8e020"/>
<rect x="445.2" y="586.71" width="5.06" height="6.32" fill="#d2e21b"/>
<rect x="449.65" y="586.71" width="5.06" height="6.32" fill="#dae319"/>
<rect x="454.11" y="586.71" width="5.06" height="6.32" fill="#dfe318"/>
<rect x="458.57" y="586.71" width="5.06" height="6.32" fill="#e5e419"/>
<rect x="463.03" y="586.71" width="5.06" height="6.32" fill="#eae51a"/>
<rect x="467.49" y="586.71" width="5.06" height="6.32" fill="#eae51a"/>
<rect x="471.94" y="586.71" width="5.06" height="6.32" fill="#eae51a"/>
<rect x="476.4" y="586.71" width="5.06" height="6.32" fill="#eae51a"/>
<rect x="480.86" y="586.71" width="5.06" height="6.32" fill="#e5e419"/>
<rect x="485.32" y="586.71" width="5.06" height="6.32" fill="#dfe318"/>
<rect x="489.78" y="586.71" width="5.06" height="6.32" fill="#dae319"/>
<rect x="494.23" y="586.71" width="5.06" height="6.32" fill="#d5e21a"/>
<rect x="498.69" y="586.71" width="5.06" height="6.32" fill="#d2e21b"/>
<rect x="503.15" y="586.71" width="5.06" height="6.32" fill="#d2e21b"/>
<rect x="507.61" y="586.71" width="5.06" height="6.32" fill="#d8e219"/>
<rect x="512.07" y="586.71" width="5.06" height="6.32" fill="#dde318"/>
<rect x="516.52" y="586.71" width="5.06" height="6.32" fill="#e5e419"/>
<rect x="520.98" y="586.71" width="5.06" height="6.32" fill="#e7e419"/>
<rect x="525.44" y="586.71" width="5.06" height="6.32" fill="#eae51a"/>
<rect x="529.9" y="586.71" width="5.06" height="6.32" fill="#eae51a"/>
<rect x="534.36" y="586.71" width="5.06" height="6.32" fill="#eae51a"/>
<rect x="538.81" y="586.71" width="5.06" height="6.32" fill="#e7e419"/>
<rect x="543.27" y="586.71" width="5.06" height="6.32" fill="#e2e418"/>
<rect x="547.73" y="586.71" width="5.06" height="6.32" fill="#dde318"/>
<rect x="552.19" y="586.71" width="5.06" height="6.32" fill="#d5e21a"/>
<rect x="556.65" y="586.71" width="5.06" height="6.32" fill="#cde11d"/>
<rect x="561.1" y="586.71" width="5.06" height="6.32" fill="#c5e021"/>
<rect x="565.56" y="586.71" width="5.06" height="6.32" fill="#bade28"/>
<rect x="570.02" y="586.71" width="5.06" height="6.32" fill="#b0dd2f"/>
<rect x="574.48" y="586.71" width="5.06" height="6.32" fill="#a2da37"/>
<rect x="578.94" y="586.71" width="5.06" height="6.32" fill="#93d741"/>
<rect x="583.39" y="586.71" width="5.06" height="6.32" fill="#84d44b"/>
<rect x="587.85" y="586.71" width="5.06" height="6.32" fill="#73d056"/>
<rect x="592.31" y="586.71" width="5.06" height="6.32" fill="#5ec962"/>
<rect x="596.77" y="586.71" width="5.06" height="6.32" fill="#4ac16d"/>
<rect x="601.23" y="586.71" width="5.06" height="6.32" fill="#34b679"/>
<rect x="605.68" y="586.71" width="5.06" height="6.32" fill="#21a585"/>
<rect x="610.14" y="586.71" width="4.46" height="6.32" fill="#25838e"/>
<rect x="391.7" y="592.42" width="5.06" height="6.32" fill="#25858e"/>
<rect x="396.16" y="592.42" width="5.06" height="6.32" fill="#23a983"/>
<rect x="400.62" y="592.42" width="5.06" height="6.32" fill="#37b878"/>
<rect x="405.07" y="592.42" width="5.06" height="6.32" fill="#4cc26c"/>
<rect x="409.53" y="592.42" width="5.06" height="6.32" fill="#60ca60"/>
<rect x="413.99" y="592.42" width="5.06" height="6.32" fill="#73d056"/>
<rect x="418.45" y="592.42" width="5.06" height="6.32" fill="#84d44b"/>
<rect x="422.91" y="592.42" width="5.06" height="6.32" fill="#93d741"/>
<rect x="427.36" y="592.42" width="5.06" height="6.32" fill="#a2da37"/>
<rect x="431.82" y="592.42" width="5.06" height="6.32" fill="#b0dd2f"/>
<rect x="436.28" y="592.42" width="5.06" height="6.32" fill="#bade28"/>
<rect x="440.74" y="592.42" width="5.06" height="6.32" fill="#c5e021"/>
<rect x="445.2" y="592.42" width="5.06" height="6.32" fill="#cde11d"/>
<rect x="449.65" y="592.42" width="5.06" height="6.32" fill="#d5e21a"/>
<rect x="454.11" y="592.42" width="5.06" height="6.32" fill="#dde318"/>
<rect x="458.57" y="592.42" width="5.06" height="6.32" fill="#e2e418"/>
<rect x="463.03" y="592.42" width="5.06" height="6.32" fill="#e5e419"/>
<rect x="467.49" y="592.42" width="5.06" height="6.32" fill="#e7e419"/>
<rect x="471.94" y="592.42" width="5.06" height="6.32" fill="#e7e419"/>
<rect x="476.4" y="592.42" width="5.06" height="6.32" fill="#e5e419"/>
<rect x="480.86" y="592.42" width="5.06" height="6.32" fill="#dfe318"/>
<rect x="485.32" y="592.42" width="5.06" height="6.32" fill="#dae319"/>
<rect x="489.78" y="592.42" width="5.06" height="6.32" fill="#d2e21b"/>
<rect x="494.23" y="592.42" width="5.06" height="6.32" fill="#cde11d"/>
<rect x="498.69" y="592.42" width="5.06" height="6.32" fill="#cae11f"/>
<rect x="503.15" y="592.42" width="5.06" height="6.32" fill="#cae11f"/>
<rect x="507.61" y="592.42" width="5.06" height="6.32" fill="#d0e11c"/>
<rect x="512.07" y="592.42" width="5.06" height="6.32" fill="#d8e219"/>
<rect x="516.52" y="592.42" width="5.06" height="6.32" fill="#dfe318"/>
<rect x="520.98" y="592.42" width="5.06" height="6.32" fill="#e2e418"/>
<rect x="525.44" y="592.42" width="5.06" height="6.32" fill="#e5e419"/>
<rect x="529.9" y="592.42" width="5.06" height="6.32" fill="#e7e419"/>
<rect x="534.36" y="592.42" width="5.06" height="6.32" fill="#e5e419"/>
<rect x="538.81" y="592.42" width="5.06" height="6.32" fill="#e2e418"/>
<rect x="543.27" y="592.42" width="5.06" height="6.32" fill="#dde318"/>
<rect x="547.73" y="592.42" width="5.06" height="6.32" fill="#d8e219"/>
<rect x="552.19" y="592.42" width="5.06" height="6.32" fill="#d2e21b"/>
<rect x="556.65" y="592.42" width="5.06" height="6.32" fill="#cae11f"/>
<rect x="561.1" y="592.42" width="5.06" height="6.32" fill="#c0df25"/>
<rect x="565.56" y="592.42" width="5.06" height="6.32" fill="#b8de29"/>
<rect x="570.02" y="592.42" width="5.06" height="6.32" fill="#aadc32"/>
<rect x="574.48" y="592.42" width="5.06" height="6.32" fill="#9dd93b"/>
<rect x="578.94" y="592.42" width="5.06" height="6.32" fill="#90d743"/>
<rect x="583.39" y="592.42" width="5.06" height="6.32" fill="#81d34d"/>
<rect x="587.85" y="592.42" width="5.06" height="6.32" fill="#6ece58"/>
<rect x="592.31" y="592.42" width="5.06" height="6.32" fill="#5cc863"/>
<rect x="596.77" y="592.42" width="5.06" height="6.32" fill="#48c16e"/>
<rect x="601.23" y="592.42" width="5.06" height="6.32" fill="#31b57b"/>
<rect x="605.68" y="592.42" width="5.06" height="6.32" fill="#20a386"/>
<rect x="610.14" y="592.42" width="4.46" height="6.32" fill="#26828e"/>
<rect x="391.7" y="598.14" width="5.06" height="6.32" fill="#25848e"/>
<rect x="396.16" y="598.14" width="5.06" height="6.32" fill="#22a884"/>
<rect x="400.62" y="598.14" width="5.06" height="6.32" fill="#34b679"/>
<rect x="405.07" y="598.14" width="5.06" height="6.32" fill="#48c16e"/>
<rect x="409.53" y="598.14" width="5.06" height="6.32" fill="#5cc863"/>
<rect x="413.99" y="598.14" width="5.06" height="6.32" fill="#6ece58"/>
<rect x="418.45" y="598.14" width="5.06" height="6.32" fill="#7fd34e"/>
<rect x="422.91" y="598.14" width="5.06" height="6.32" fill="#90d743"/>
<rect x="427.36" y="598.14" width="5.06" height="6.32" fill="#9dd93b"/>
<rect x="431.82" y="598.14" width="5.06" height="6.32" fill="#aadc32"/>
<rect x="436.28" y="598.14" width="5.06" height="6.32" fill="#b5de2b"/>
<rect x="440.74" y="598.14" width="5.06" height="6.32" fill="#c0df25"/>
<rect x="445.2" y="598.14" width="5.06" height="6.32" fill="#c8e020"/>
<rect x="449.65" y="598.14" width="5.06" height="6.32" fill="#d0e11c"/>
<rect x="454.11" y="598.14" width="5.06" height="6.32" fill="#d8e219"/>
<rect x="458.57" y="598.14" width="5.06" height="6.32" fill="#dde318"/>
<rect x="463.03" y="598.14" width="5.06" height="6.32" fill="#dfe318"/>
<rect x="467.49" y="598.14" width="5.06" height="6.32" fill="#e2e418"/>
<rect x="471.94" y="598.14" width="5.06" height="6.32" fill="#e2e418"/>
<rect x="476.4" y="598.14" width="5.06" height="6.32" fill="#dfe318"/>
<rect x="480.86" y="598.14" width="5.06" height="6.32" fill="#dae319"/>
<rect x="485.32" y="598.14" width="5.06" height="6.32" fill="#d5e21a"/>
<rect x="489.78" y="598.14" width="5.06" height="6.32" fill="#cde11d"/>
<rect x="494.23" y="598.14" width="5.06" height="6.32" fill="#c8e020"/>
<rect x="498.69" y="598.14" width="5.06" height="6.32" fill="#c2df23"/>
<rect x="503.15" y="598.14" width="5.06" height="6.32" fill="#c5e021"/>
<rect x="507.61" y="598.14" width="5.06" height="6.32" fill="#cae11f"/>
<rect x="512.07" y="598.14" width="5.06" height="6.32" fill="#d2e21b"/>
<rect x="516.52" y="598.14" width="5.06" height="6.32" fill="#dae319"/>
<rect x="520.98" y="598.14" width="5.06" height="6.32" fill="#dde318"/>
<rect x="525.44" y="598.14" width="5.06" height="6.32" fill="#e2e418"/>
<rect x="529.9" y="598.14" width="5.06" height="6.32" fill="#e2e418"/>
<rect x="534.36" y="598.14" width="5.06" height="6.32" fill="#dfe318"/>
<rect x="538.81" y="598.14" width="5.06" height="6.32" fill="#dde318"/>
<rect x="543.27" y="598.14" width="5.06" height="6.32" fill="#dae319"/>
<rect x="547.73" y="598.14" width="5.06" height="6.32" fill="#d5e21a"/>
<rect x="552.19" y="598.14" width="5.06" height="6.32" fill="#cde11d"/>
<rect x="556.65" y="598.14" width="5.06" height="6.32" fill="#c5e021"/>
<rect x="561.1" y="598.14" width="5.06" height="6.32" fill="#bddf26"/>
<rect x="565.56" y="598.14" width="5.06" height="6.32" fill="#b2dd2d"/>
<rect x="570.02" y="598.14" width="5.06" height="6.32" fill="#a8db34"/>
<rect x="574.48" y="598.14" width="5.06" height="6.32" fill="#9bd93c"/>
<rect x="578.94" y="598.14" width="5.06" height="6.32" fill="#8bd646"/>
<rect x="583.39" y="598.14" width="5.06" height="6.32" fill="#7cd250"/>
<rect x="587.85" y="598.14" width="5.06" height="6.32" fill="#6ccd5a"/>
<rect x="592.31" y="598.14" width="5.06" height="6.32" fill="#58c765"/>
<rect x="596.77" y="598.14" width="5.06" height="6.32" fill="#44bf70"/>
<rect x="601.23" y="598.14" width="5.06" height="6.32" fill="#2fb47c"/>
<rect x="605.68" y="598.14" width="5.06" height="6.32" fill="#1fa187"/>
<rect x="610.14" y="598.14" width="4.46" height="6.32" fill="#26818e"/>
<rect x="391.7" y="603.86" width="5.06" height="6.32" fill="#25838e"/>
<rect x="396.16" y="603.86" width="5.06" height="6.32" fill="#21a685"/>
<rect x="400.62" y="603.86" width="5.06" height="6.32" fill="#32b67a"/>
<rect x="405.07" y="603.86" width="5.06" height="6.32" fill="#46c06f"/>
<rect x="409.53" y="603.86" width="5.06" height="6.32" fill="#58c765"/>
<rect x="413.99" y="603.86" width="5.06" height="6.32" fill="#69cd5b"/>
<rect x="418.45" y="603.86" width="5.06" height="6.32" fill="#7ad151"/>
<rect x="422.91" y="603.86" width="5.06" height="6.32" fill="#8bd646"/>
<rect x="427.36" y="603.86" width="5.06" height="6.32" fill="#98d83e"/>
<rect x="431.82" y="603.86" width="5.06" height="6.32" fill="#a5db36"/>
<rect x="436.28" y="603.86" width="5.06" height="6.32" fill="#b0dd2f"/>
<rect x="440.74" y="603.86" width="5.06" height="6.32" fill="#bade28"/>
<rect x="445.2" y="603.86" width="5.06" height="6.32" fill="#c5e021"/>
<rect x="449.65" y="603.86" width="5.06" height="6.32" fill="#cde11d"/>
<rect x="454.11" y="603.86" width="5.06" height="6.32" fill="#d2e21b"/>
<rect x="458.57" y="603.86" width="5.06" height="6.32" fill="#d8e219"/>
<rect x="463.03" y="603.86" width="5.06" height="6.32" fill="#dde318"/>
<rect x="467.49" y="603.86" width="5.06" height="6.32" fill="#dfe318"/>
<rect x="471.94" y="603.86" width="5.06" height="6.32" fill="#dde318"/>
<rect x="476.4" y="603.86" width="5.06" height="6.32" fill="#dae319"/>
<rect x="480.86" y="603.86" width="5.06" height="6.32" fill="#d5e21a"/>
<rect x="485.32" y="603.86" width="5.06" height="6.32" fill="#d0e11c"/>
<rect x="489.78" y="603.86" width="5.06" height="6.32" fill="#c8e020"/>
<rect x="494.23" y="603.86" width="5.06" height="6.32" fill="#c0df25"/>
<rect x="498.69" y="603.86" width="5.06" height="6.32" fill="#bddf26"/>
<rect x="503.15" y="603.86" width="5.06" height="6.32" fill="#bddf26"/>
<rect x="507.61" y="603.86" width="5.06" height="6.32" fill="#c2df23"/>
<rect x="512.07" y="603.86" width="5.06" height="6.32" fill="#cae11f"/>
<rect x="516.52" y="603.86" width="5.06" height="6.32" fill="#d5e21a"/>
<rect x="520.98" y="603.86" width="5.06" height="6.32" fill="#dae319"/>
<rect x="525.44" y="603.86" width="5.06" height="6.32" fill="#dde318"/>
<rect x="529.9" y="603.86" width="5.06" height="6.32" fill="#dde318"/>
<rect x="534.36" y="603.86" width="5.06" height="6.32" fill="#dde318"/>
<rect x="538.81" y="603.86" width="5.06" height="6.32" fill="#dae319"/>
<rect x="543.27" y="603.86" width="5.06" height="6.32" fill="#d5e21a"/>
<rect x="547.73" y="603.86" width="5.06" height="6.32" fill="#d0e11c"/>
<rect x="552.19" y="603.86" width="5.06" height="6.32" fill="#cae11f"/>
<rect x="556.65" y="603.86" width="5.06" height="6.32" fill="#c2df23"/>
<rect x="561.1" y="603.86" width="5.06" height="6.32" fill="#b8de29"/>
<rect x="565.56" y="603.86" width="5.06" height="6.32" fill="#addc30"/>
<rect x="570.02" y="603.86" width="5.06" height="6.32" fill="#a2da37"/>
<rect x="574.48" y="603.86" width="5.06" height="6.32" fill="#95d840"/>
<rect x="578.94" y="603.86" width="5.06" height="6.32" fill="#89d548"/>
<rect x="583.39" y="603.86" width="5.06" height="6.32" fill="#77d153"/>
<rect x="587.85" y="603.86" width="5.06" height="6.32" fill="#67cc5c"/>
<rect x="592.31" y="603.86" width="5.06" height="6.32" fill="#56c667"/>
<rect x="596.77" y="603.86" width="5.06" height="6.32" fill="#40bd72"/>
<rect x="601.23" y="603.86" width="5.06" height="6.32" fill="#2db27d"/>
<rect x="605.68" y="603.86" width="5.06" height="6.32" fill="#1fa088"/>
<rect x="610.14" y="603.86" width="4.46" height="6.32" fill="#277f8e"/>
<rect x="391.7" y="609.58" width="5.06" height="6.32" fill="#26828e"/>
<rect x="396.16" y="609.58" width="5.06" height="6.32" fill="#21a585"/>
<rect x="400.62" y="609.58" width="5.06" height="6.32" fill="#2fb47c"/>
<rect x="405.07" y="609.58" width="5.06" height="6.32" fill="#42be71"/>
<rect x="409.53" y="609.58" width="5.06" height="6.32" fill="#54c568"/>
<rect x="413.99" y="609.58" width="5.06" height="6.32" fill="#67cc5c"/>
<rect x="418.45" y="609.58" width="5.06" height="6.32" fill="#77d153"/>
<rect x="422.91" y="609.58" width="5.06" height="6.32" fill="#86d549"/>
<rect x="427.36" y="609.58" width="5.06" height="6.32" fill="#95d840"/>
<rect x="431.82" y="609.58" width="5.06" height="6.32" fill="#a0da39"/>
<rect x="436.28" y="609.58" width="5.06" height="6.32" fill="#addc30"/>
<rect x="440.74" y="609.58" width="5.06" height="6.32" fill="#b8de29"/>
<rect x="445.2" y="609.58" width="5.06" height="6.32" fill="#c0df25"/>
<rect x="449.65" y="609.58" width="5.06" height="6.32" fill="#c8e020"/>
<rect x="454.11" y="609.58" width="5.06" height="6.32" fill="#d0e11c"/>
<rect x="458.57" y="609.58" width="5.06" height="6.32" fill="#d5e21a"/>
<rect x="463.03" y="609.58" width="5.06" height="6.32" fill="#d8e219"/>
<rect x="467.49" y="609.58" width="5.06" height="6.32" fill="#dae319"/>
<rect x="471.94" y="609.58" width="5.06" height="6.32" fill="#dae319"/>
<rect x="476.4" y="609.58" width="5.06" height="6.32" fill="#d8e219"/>
<rect x="480.86" y="609.58" width="5.06" height="6.32" fill="#d2e21b"/>
<rect x="485.32" y="609.58" width="5.06" height="6.32" fill="#cae11f"/>
<rect x="489.78" y="609.58" width="5.06" height="6.32" fill="#c2df23"/>
<rect x="494.23" y="609.58" width="5.06" height="6.32" fill="#bade28"/>
<rect x="498.69" y="609.58" width="5.06" height="6.32" fill="#b8de29"/>
<rect x="503.15" y="609.58" width="5.06" height="6.32" fill="#b8de29"/>
<rect x="507.61" y="609.58" width="5.06" height="6.32" fill="#bddf26"/>
<rect x="512.07" y="609.58" width="5.06" height="6.32" fill="#c5e021"/>
<rect x="516.52" y="609.58" width="5.06" height="6.32" fill="#d0e11c"/>
<rect x="520.98" y="609.58" width="5.06" height="6.32" fill="#d5e21a"/>
<rect x="525.44" y="609.58" width="5.06" height="6.32" fill="#d8e219"/>
<rect x="529.9" y="609.58" width="5.06" height="6.32" fill="#d8e219"/>
<rect x="534.36" y="609.58" width="5.06" height="6.32" fill="#d8e219"/>
<rect x="538.81" y="609.58" width="5.06" height="6.32" fill="#d5e21a"/>
<rect x="543.27" y="609.58" width="5.06" height="6.32" fill="#d0e11c"/>
<rect x="547.73" y="609.58" width="5.06" height="6.32" fill="#cae11f"/>
<rect x="552.19" y="609.58" width="5.06" height="6.32" fill="#c5e021"/>
<rect x="556.65" y="609.58" width="5.06" height="6.32" fill="#bddf26"/>
<rect x="561.1" y="609.58" width="5.06" height="6.32" fill="#b5de2b"/>
<rect x="565.56" y="609.58" width="5.06" height="6.32" fill="#aadc32"/>
<rect x="570.02" y="609.58" width="5.06" height="6.32" fill="#9dd93b"/>
<rect x="574.48" y="609.58" width="5.06" height="6.32" fill="#93d741"/>
<rect x="578.94" y="609.58" width="5.06" height="6.32" fill="#84d44b"/>
<rect x="583.39" y="609.58" width="5.06" height="6.32" fill="#75d054"/>
<rect x="587.85" y="609.58" width="5.06" height="6.32" fill="#65cb5e"/>
<rect x="592.31" y="609.58" width="5.06" height="6.32" fill="#52c569"/>
<rect x="596.77" y="609.58" width="5.06" height="6.32" fill="#3fbc73"/>
<rect x="601.23" y="609.58" width="5.06" height="6.32" fill="#2ab07f"/>
<rect x="605.68" y="609.58" width="5.06" height="6.32" fill="#1f9f88"/>
<rect x="610.14" y="609.58" width="4.46" height="6.32" fill="#287d8e"/>
<rect x="391.7" y="615.29" width="5.06" height="6.32" fill="#26828e"/>
<rect x="396.16" y="615.29" width="5.06" height="6.32" fill="#20a486"/>
<rect x="400.62" y="615.29" width="5.06" height="6.32" fill="#2eb37c"/>
<rect x="405.07" y="615.29" width="5.06" height="6.32" fill="#3fbc73"/>
<rect x="409.53" y="615.29" width="5.06" height="6.32" fill="#52c569"/>
<rect x="413.99" y="615.29" width="5.06" height="6.32" fill="#63cb5f"/>
<rect x="418.45" y="615.29" width="5.06" height="6.32" fill="#73d056"/>
<rect x="422.91" y="615.29" width="5.06" height="6.32" fill="#81d34d"/>
<rect x="427.36" y="615.29" width="5.06" height="6.32" fill="#90d743"/>
<rect x="431.82" y="615.29" width="5.06" height="6.32" fill="#9dd93b"/>
<rect x="436.28" y="615.29" width="5.06" height="6.32" fill="#a8db34"/>
<rect x="440.74" y="615.29" width="5.06" height="6.32" fill="#b2dd2d"/>
<rect x="445.2" y="615.29" width="5.06" height="6.32" fill="#bddf26"/>
<rect x="449.65" y="615.29" width="5.06" height="6.32" fill="#c5e021"/>
<rect x="454.11" y="615.29" width="5.06" height="6.32" fill="#cae11f"/>
<rect x="458.57" y="615.29" width="5.06" height="6.32" fill="#d0e11c"/>
<rect x="463.03" y="615.29" width="5.06" height="6.32" fill="#d5e21a"/>
<rect x="467.49" y="615.29" width="5.06" height="6.32" fill="#d8e219"/>
<rect x="471.94" y="615.29" width="5.06" height="6.32" fill="#d5e21a"/>
<rect x="476.4" y="615.29" width="5.06" height="6.32" fill="#d2e21b"/>
<rect x="480.86" y="615.29" width="5.06" height="6.32" fill="#cde11d"/>
<rect x="485.32" y="615.29" width="5.06" height="6.32" fill="#c5e021"/>
<rect x="489.78" y="615.29" width="5.06" height="6.32" fill="#bddf26"/>
<rect x="494.23" y="615.29" width="5.06" height="6.32" fill="#b5de2b"/>
<rect x="498.69" y="615.29" width="5.06" height="6.32" fill="#b2dd2d"/>
<rect x="503.15" y="615.29" width="5.06" height="6.32" fill="#b2dd2d"/>
<rect x="507.61" y="615.29" width="5.06" height="6.32" fill="#b8de29"/>
<rect x="512.07" y="615.29" width="5.06" height="6.32" fill="#c2df23"/>
<rect x="516.52" y="615.29" width="5.06" height="6.32" fill="#cae11f"/>
<rect x="520.98" y="615.29" width="5.06" height="6.32" fill="#d0e11c"/>
<rect x="525.44" y="615.29" width="5.06" height="6.32" fill="#d2e21b"/>
<rect x="529.9" y="615.29" width="5.06" height="6.32" fill="#d5e21a"/>
<rect x="534.36" y="615.29" width="5.06" height="6.32" fill="#d5e21a"/>
<rect x="538.81" y="615.29" width="5.06" height="6.32" fill="#d2e21b"/>
<rect x="543.27" y="615.29" width="5.06" height="6.32" fill="#cde11d"/>
<rect x="547.73" y="615.29" width="5.06" height="6.32" fill="#c8e020"/>
<rect x="552.19" y="615.29" width="5.06" height="6.32" fill="#c0df25"/>
<rect x="556.65" y="615.29" width="5.06" height="6.32" fill="#bade28"/>
<rect x="561.1" y="615.29" width="5.06" height="6.32" fill="#b0dd2f"/>
<rect x="565.56" y="615.29" width="5.06" height="6.32" fill="#a5db36"/>
<rect x="570.02" y="615.29" width="5.06" height="6.32" fill="#9bd93c"/>
<rect x="574.48" y="615.29" width="5.06" height="6.32" fill="#8ed645"/>
<rect x="578.94" y="615.29" width="5.06" height="6.32" fill="#81d34d"/>
<rect x="583.39" y="615.29" width="5.06" height="6.32" fill="#70cf57"/>
<rect x="587.85" y="615.29" width="5.06" height="6.32" fill="#60ca60"/>
<rect x="592.31" y="615.29" width="5.06" height="6.32" fill="#50c46a"/>
<rect x="596.77" y="615.29" width="5.06" height="6.32" fill="#3bbb75"/>
<rect x="601.23" y="615.29" width="5.06" height="6.32" fill="#29af7f"/>
<rect x="605.68" y="615.29" width="5.06" height="6.32" fill="#1e9d89"/>
<rect x="610.14" y="615.29" width="4.46" height="6.32" fill="#287c8e"/>
<rect x="391.7" y="621.01" width="5.06" height="6.32" fill="#26818e"/>
<rect x="396.16" y="621.01" width="5.06" height="6.32" fill="#1fa287"/>
<rect x="400.62" y="621.01" width="5.06" height="6.32" fill="#2cb17e"/>
<rect x="405.07" y="621.01" width="5.06" height="6.32" fill="#3dbc74"/>
<rect x="409.53" y="621.01" width="5.06" height="6.32" fill="#50c46a"/>
<rect x="413.99" y="621.01" width="5.06" height="6.32" fill="#60ca60"/>
<rect x="418.45" y="621.01" width="5.06" height="6.32" fill="#70cf57"/>
<rect x="422.91" y="621.01" width="5.06" height="6.32" fill="#7fd34e"/>
<rect x="427.36" y="621.01" width="5.06" height="6.32" fill="#8ed645"/>
<rect x="431.82" y="621.01" width="5.06" height="6.32" fill="#9bd93c"/>
<rect x="436.28" y="621.01" width="5.06" height="6.32" fill="#a5db36"/>
<rect x="440.74" y="621.01" width="5.06" height="6.32" fill="#b0dd2f"/>
<rect x="445.2" y="621.01" width="5.06" height="6.32" fill="#b8de29"/>
<rect x="449.65" y="621.01" width="5.06" height="6.32" fill="#c0df25"/>
<rect x="454.11" y="621.01" width="5.06" height="6.32" fill="#c8e020"/>
<rect x="458.57" y="621.01" width="5.06" height="6.32" fill="#cde11d"/>
<rect x="463.03" y="621.01" width="5.06" height="6.32" fill="#d2e21b"/>
<rect x="467.49" y="621.01" width="5.06" height="6.32" fill="#d2e21b"/>
<rect x="471.94" y="621.01" width="5.06" height="6.32" fill="#d2e21b"/>
<rect x="476.4" y="621.01" width="5.06" height="6.32" fill="#d0e11c"/>
<rect x="480.86" y="621.01" width="5.06" height="6.32" fill="#c8e020"/>
<rect x="485.32" y="621.01" width="5.06" height="6.32" fill="#c0df25"/>
<rect x="489.78" y="621.01" width="5.06" height="6.32" fill="#b8de29"/>
<rect x="494.23" y="621.01" width="5.06" height="6.32" fill="#b2dd2d"/>
<rect x="498.69" y="621.01" width="5.06" height="6.32" fill="#addc30"/>
<rect x="503.15" y="621.01" width="5.06" height="6.32" fill="#addc30"/>
<rect x="507.61" y="621.01" width="5.06" height="6.32" fill="#b5de2b"/>
<rect x="512.07" y="621.01" width="5.06" height="6.32" fill="#bddf26"/>
<rect x="516.52" y="621.01" width="5.06" height="6.32" fill="#c5e021"/>
<rect x="520.98" y="621.01" width="5.06" height="6.32" fill="#cde11d"/>
<rect x="525.44" y="621.01" width="5.06" height="6.32" fill="#d0e11c"/>
<rect x="529.9" y="621.01" width="5.06" height="6.32" fill="#d0e11c"/>
<rect x="534.36" y="621.01" width="5.06" height="6.32" fill="#d0e11c"/>
<rect x="538.81" y="621.01" width="5.06" height="6.32" fill="#cde11d"/>
<rect x="543.27" y="621.01" width="5.06" height="6.32" fill="#cae11f"/>
<rect x="547.73" y="621.01" width="5.06" height="6.32" fill="#c5e021"/>
<rect x="552.19" y="621.01" width="5.06" height="6.32" fill="#bddf26"/>
<rect x="556.65" y="621.01" width="5.06" height="6.32" fill="#b5de2b"/>
<rect x="561.1" y="621.01" width="5.06" height="6.32" fill="#addc30"/>
<rect x="565.56" y="621.01" width="5.06" height="6.32" fill="#a2da37"/>
<rect x="570.02" y="621.01" width="5.06" height="6.32" fill="#98d83e"/>
<rect x="574.48" y="621.01" width="5.06" height="6.32" fill="#8bd646"/>
<rect x="578.94" y="621.01" width="5.06" height="6.32" fill="#7cd250"/>
<rect x="583.39" y="621.01" width="5.06" height="6.32" fill="#6ece58"/>
<rect x="587.85" y="621.01" width="5.06" height="6.32" fill="#5ec962"/>
<rect x="592.31" y="621.01" width="5.06" height="6.32" fill="#4cc26c"/>
<rect x="596.77" y="621.01" width="5.06" height="6.32" fill="#3aba76"/>
<rect x="601.23" y="621.01" width="5.06" height="6.32" fill="#27ad81"/>
<rect x="605.68" y="621.01" width="5.06" height="6.32" fill="#1e9b8a"/>
<rect x="610.14" y="621.01" width="4.46" height="6.32" fill="#297a8e"/>
<rect x="391.7" y="626.73" width="5.06" height="6.32" fill="#277f8e"/>
<rect x="396.16" y="626.73" width="5.06" height="6.32" fill="#1fa187"/>
<rect x="400.62" y="626.73" width="5.06" height="6.32" fill="#2ab07f"/>
<rect x="405.07" y="626.73" width="5.06" height="6.32" fill="#3bbb75"/>
<rect x="409.53" y="626.73" width="5.06" height="6.32" fill="#4cc26c"/>
<rect x="413.99" y="626.73" width="5.06" height="6.32" fill="#5cc863"/>
<rect x="418.45" y="626.73" width="5.06" height="6.32" fill="#6ccd5a"/>
<rect x="422.91" y="626.73" width="5.06" height="6.32" fill="#7cd250"/>
<rect x="427.36" y="626.73" width="5.06" height="6.32" fill="#89d548"/>
<rect x="431.82" y="626.73" width="5.06" height="6.32" fill="#95d840"/>
<rect x="436.28" y="626.73" width="5.06" height="6.32" fill="#a2da37"/>
<rect x="440.74" y="626.73" width="5.06" height="6.32" fill="#aadc32"/>
<rect x="445.2" y="626.73" width="5.06" height="6.32" fill="#b5de2b"/>
<rect x="449.65" y="626.73" width="5.06" height="6.32" fill="#bddf26"/>
<rect x="454.11" y="626.73" width="5.06" height="6.32" fill="#c5e021"/>
<rect x="458.57" y="626.73" width="5.06" height="6.32" fill="#cae11f"/>
<rect x="463.03" y="626.73" width="5.06" height="6.32" fill="#cde11d"/>
<rect x="467.49" y="626.73" width="5.06" height="6.32" fill="#d0e11c"/>
<rect x="471.94" y="626.73" width="5.06" height="6.32" fill="#d0e11c"/>
<rect x="476.4" y="626.73" width="5.06" height="6.32" fill="#cae11f"/>
<rect x="480.86" y="626.73" width="5.06" height="6.32" fill="#c5e021"/>
<rect x="485.32" y="626.73" width="5.06" height="6.32" fill="#bddf26"/>
<rect x="489.78" y="626.73" width="5.06" height="6.32" fill="#b5de2b"/>
<rect x="494.23" y="626.73" width="5.06" height="6.32" fill="#addc30"/>
<rect x="498.69" y="626.73" width="5.06" height="6.32" fill="#aadc32"/>
<rect x="503.15" y="626.73" width="5.06" height="6.32" fill="#aadc32"/>
<rect x="507.61" y="626.73" width="5.06" height="6.32" fill="#b0dd2f"/>
<rect x="512.07" y="626.73" width="5.06" height="6.32" fill="#bade28"/>
<rect x="516.52" y="626.73" width="5.06" height="6.32" fill="#c2df23"/>
<rect x="520.98" y="626.73" width="5.06" height="6.32" fill="#c8e020"/>
<rect x="525.44" y="626.73" width="5.06" height="6.32" fill="#cde11d"/>
<rect x="529.9" y="626.73" width="5.06" height="6.32" fill="#cde11d"/>
<rect x="534.36" y="626.73" width="5.06" height="6.32" fill="#cde11d"/>
<rect x="538.81" y="626.73" width="5.06" height="6.32" fill="#cae11f"/>
<rect x="543.27" y="626.73" width="5.06" height="6.32" fill="#c5e021"/>
<rect x="547.73" y="626.73" width="5.06" height="6.32" fill="#c0df25"/>
<rect x="552.19" y="626.73" width="5.06" height="6.32" fill="#bade28"/>
<rect x="556.65" y="626.73" width="5.06" height="6.32" fill="#b2dd2d"/>
<rect x="561.1" y="626.73" width="5.06" height="6.32" fill="#a8db34"/>
<rect x="565.56" y="626.73" width="5.06" height="6.32" fill="#a0da39"/>
<rect x="570.02" y="626.73" width="5.06" height="6.32" fill="#93d741"/>
<rect x="574.48" y="626.73" width="5.06" height="6.32" fill="#86d549"/>
<rect x="578.94" y="626.73" width="5.06" height="6.32" fill="#7ad151"/>
<rect x="583.39" y="626.73" width="5.06" height="6.32" fill="#6ccd5a"/>
<rect x="587.85" y="626.73" width="5.06" height="6.32" fill="#5ac864"/>
<rect x="592.31" y="626.73" width="5.06" height="6.32" fill="#4ac16d"/>
<rect x="596.77" y="626.73" width="5.06" height="6.32" fill="#38b977"/>
<rect x="601.23" y="626.73" width="5.06" height="6.32" fill="#26ad81"/>
<rect x="605.68" y="626.73" width="5.06" height="6.32" fill="#1f9a8a"/>
<rect x="610.14" y="626.73" width="4.46" height="6.32" fill="#29798e"/>
<rect x="391.7" y="632.45" width="5.06" height="6.32" fill="#277e8e"/>
<rect x="396.16" y="632.45" width="5.06" height="6.32" fill="#1fa188"/>
<rect x="400.62" y="632.45" width="5.06" height="6.32" fill="#28ae80"/>
<rect x="405.07" y="632.45" width="5.06" height="6.32" fill="#38b977"/>
<rect x="409.53" y="632.45" width="5.06" height="6.32" fill="#4ac16d"/>
<rect x="413.99" y="632.45" width="5.06" height="6.32" fill="#5ac864"/>
<rect x="418.45" y="632.45" width="5.06" height="6.32" fill="#69cd5b"/>
<rect x="422.91" y="632.45" width="5.06" height="6.32" fill="#77d153"/>
<rect x="427.36" y="632.45" width="5.06" height="6.32" fill="#86d549"/>
<rect x="431.82" y="632.45" width="5.06" height="6.32" fill="#93d741"/>
<rect x="436.28" y="632.45" width="5.06" height="6.32" fill="#9dd93b"/>
<rect x="440.74" y="632.45" width="5.06" height="6.32" fill="#a8db34"/>
<rect x="445.2" y="632.45" width="5.06" height="6.32" fill="#b2dd2d"/>
<rect x="449.65" y="632.45" width="5.06" height="6.32" fill="#bade28"/>
<rect x="454.11" y="632.45" width="5.06" height="6.32" fill="#c0df25"/>
<rect x="458.57" y="632.45" width="5.06" height="6.32" fill="#c5e021"/>
<rect x="463.03" y="632.45" width="5.06" height="6.32" fill="#cae11f"/>
<rect x="467.49" y="632.45" width="5.06" height="6.32" fill="#cae11f"/>
<rect x="471.94" y="632.45" width="5.06" height="6.32" fill="#cae11f"/>
<rect x="476.4" y="632.45" width="5.06" height="6.32" fill="#c8e020"/>
<rect x="480.86" y="632.45" width="5.06" height="6.32" fill="#c2df23"/>
<rect x="485.32" y="632.45" width="5.06" height="6.32" fill="#bade28"/>
<rect x="489.78" y="632.45" width="5.06" height="6.32" fill="#b0dd2f"/>
<rect x="494.23" y="632.45" width="5.06" height="6.32" fill="#aadc32"/>
<rect x="498.69" y="632.45" width="5.06" height="6.32" fill="#a5db36"/>
<rect x="503.15" y="632.45" width="5.06" height="6.32" fill="#a5db36"/>
<rect x="507.61" y="632.45" width="5.06" height="6.32" fill="#addc30"/>
<rect x="512.07" y="632.45" width="5.06" height="6.32" fill="#b5de2b"/>
<rect x="516.52" y="632.45" width="5.06" height="6.32" fill="#c0df25"/>
<rect x="520.98" y="632.45" width="5.06" height="6.32" fill="#c5e021"/>
<rect x="525.44" y="632.45" width="5.06" height="6.32" fill="#c8e020"/>
<rect x="529.9" y="632.45" width="5.06" height="6.32" fill="#cae11f"/>
<rect x="534.36" y="632.45" width="5.06" height="6.32" fill="#c8e020"/>
<rect x="538.81" y="632.45" width="5.06" height="6.32" fill="#c5e021"/>
<rect x="543.27" y="632.45" width="5.06" height="6.32" fill="#c2df23"/>
<rect x="547.73" y="632.45" width="5.06" height="6.32" fill="#bddf26"/>
<rect x="552.19" y="632.45" width="5.06" height="6.32" fill="#b5de2b"/>
<rect x="556.65" y="632.45" width="5.06" height="6.32" fill="#addc30"/>
<rect x="561.1" y="632.45" width="5.06" height="6.32" fill="#a5db36"/>
<rect x="565.56" y="632.45" width="5.06" height="6.32" fill="#9bd93c"/>
<rect x="570.02" y="632.45" width="5.06" height="6.32" fill="#90d743"/>
<rect x="574.48" y="632.45" width="5.06" height="6.32" fill="#84d44b"/>
<rect x="578.94" y="632.45" width="5.06" height="6.32" fill="#75d054"/>
<rect x="583.39" y="632.45" width="5.06" height="6.32" fill="#67cc5c"/>
<rect x="587.85" y="632.45" width="5.06" height="6.32" fill="#58c765"/>
<rect x="592.31" y="632.45" width="5.06" height="6.32" fill="#48c16e"/>
<rect x="596.77" y="632.45" width="5.06" height="6.32" fill="#35b779"/>
<rect x="601.23" y="632.45" width="5.06" height="6.32" fill="#25ac82"/>
<rect x="605.68" y="632.45" width="5.06" height="6.32" fill="#1f998a"/>
<rect x="610.14" y="632.45" width="4.46" height="6.32" fill="#2a778e"/>
<rect x="391.7" y="638.16" width="5.06" height="6.32" fill="#287c8e"/>
<rect x="396.16" y="638.16" width="5.06" height="6.32" fill="#1f9f88"/>
<rect x="400.62" y="638.16" width="5.06" height="6.32" fill="#27ad81"/>
<rect x="405.07" y="638.16" width="5.06" height="6.32" fill="#37b878"/>
<rect x="409.53" y="638.16" width="5.06" height="6.32" fill="#46c06f"/>
<rect x="413.99" y="638.16" width="5.06" height="6.32" fill="#56c667"/>
<rect x="418.45" y="638.16" width="5.06" height="6.32" fill="#67cc5c"/>
<rect x="422.91" y="638.16" width="5.06" height="6.32" fill="#75d054"/>
<rect x="427.36" y="638.16" width="5.06" height="6.32" fill="#81d34d"/>
<rect x="431.82" y="638.16" width="5.06" height="6.32" fill="#8ed645"/>
<rect x="436.28" y="638.16" width="5.06" height="6.32" fill="#9bd93c"/>
<rect x="440.74" y="638.16" width="5.06" height="6.32" fill="#a5db36"/>
<rect x="445.2" y="638.16" width="5.06" height="6.32" fill="#addc30"/>
<rect x="449.65" y="638.16" width="5.06" height="6.32" fill="#b5de2b"/>
<rect x="454.11" y="638.16" width="5.06" height="6.32" fill="#bddf26"/>
<rect x="458.57" y="638.16" width="5.06" height="6.32" fill="#c2df23"/>
<rect x="463.03" y="638.16" width="5.06" height="6.32" fill="#c5e021"/>
<rect x="467.49" y="638.16" width="5.06" height="6.32" fill="#c8e020"/>
<rect x="471.94" y="638.16" width="5.06" height="6.32" fill="#c8e020"/>
<rect x="476.4" y="638.16" width="5.06" height="6.32" fill="#c5e021"/>
<rect x="480.86" y="638.16" width="5.06" height="6.32" fill="#bddf26"/>
<rect x="485.32" y="638.16" width="5.06" height="6.32" fill="#b5de2b"/>
<rect x="489.78" y="638.16" width="5.06" height="6.32" fill="#addc30"/>
<rect x="494.23" y="638.16" width="5.06" height="6.32" fill="#a5db36"/>
<rect x="498.69" y="638.16" width="5.06" height="6.32" fill="#a2da37"/>
<rect x="503.15" y="638.16" width="5.06" height="6.32" fill="#a2da37"/>
<rect x="507.61" y="638.16" width="5.06" height="6.32" fill="#a8db34"/>
<rect x="512.07" y="638.16" width="5.06" height="6.32" fill="#b2dd2d"/>
<rect x="516.52" y="638.16" width="5.06" height="6.32" fill="#bade28"/>
<rect x="520.98" y="638.16" width="5.06" height="6.32" fill="#c2df23"/>
<rect x="525.44" y="638.16" width="5.06" height="6.32" fill="#c5e021"/>
<rect x="529.9" y="638.16" width="5.06" height="6.32" fill="#c5e021"/>
<rect x="534.36" y="638.16" width="5.06" height="6.32" fill="#c5e021"/>
<rect x="538.81" y="638.16" width="5.06" height="6.32" fill="#c2df23"/>
<rect x="543.27" y="638.16" width="5.06" height="6.32" fill="#bddf26"/>
<rect x="547.73" y="638.16" width="5.06" height="6.32" fill="#b8de29"/>
<rect x="552.19" y="638.16" width="5.06" height="6.32" fill="#b2dd2d"/>
<rect x="556.65" y="638.16" width="5.06" height="6.32" fill="#aadc32"/>
<rect x="561.1" y="638.16" width="5.06" height="6.32" fill="#a2da37"/>
<rect x="565.56" y="638.16" width="5.06" height="6.32" fill="#98d83e"/>
<rect x="570.02" y="638.16" width="5.06" height="6.32" fill="#8bd646"/>
<rect x="574.48" y="638.16" width="5.06" height="6.32" fill="#81d34d"/>
<rect x="578.94" y="638.16" width="5.06" height="6.32" fill="#73d056"/>
<rect x="583.39" y="638.16" width="5.06" height="6.32" fill="#65cb5e"/>
<rect x="587.85" y="638.16" width="5.06" height="6.32" fill="#56c667"/>
<rect x="592.31" y="638.16" width="5.06" height="6.32" fill="#44bf70"/>
<rect x="596.77" y="638.16" width="5.06" height="6.32" fill="#34b679"/>
<rect x="601.23" y="638.16" width="5.06" height="6.32" fill="#24aa83"/>
<rect x="605.68" y="638.16" width="5.06" height="6.32" fill="#1f978b"/>
<rect x="610.14" y="638.16" width="4.46" height="6.32" fill="#2a768e"/>
<rect x="391.7" y="643.88" width="5.06" height="5.72" fill="#297b8e"/>
<rect x="396.16" y="643.88" width="5.06" height="5.72" fill="#1f9e89"/>
<rect x="400.62" y="643.88" width="5.06" height="5.72" fill="#26ad81"/>
<rect x="405.07" y="643.88" width="5.06" height="5.72" fill="#34b679"/>
<rect x="409.53" y="643.88" width="5.06" height="5.72" fill="#44bf70"/>
<rect x="413.99" y="643.88" width="5.06" height="5.72" fill="#54c568"/>
<rect x="418.45" y="643.88" width="5.06" height="5.72" fill="#63cb5f"/>
<rect x="422.91" y="643.88" width="5.06" height="5.72" fill="#70cf57"/>
<rect x="427.36" y="643.88" width="5.06" height="5.72" fill="#7fd34e"/>
<rect x="431.82" y="643.88" width="5.06" height="5.72" fill="#8bd646"/>
<rect x="436.28" y="643.88" width="5.06" height="5.72" fill="#95d840"/>
<rect x="440.74" y="643.88" width="5.06" height="5.72" fill="#a0da39"/>
<rect x="445.2" y="643.88" width="5.06" height="5.72" fill="#aadc32"/>
<rect x="449.65" y="643.88" width="5.06" height="5.72" fill="#b2dd2d"/>
<rect x="454.11" y="643.88" width="5.06" height="5.72" fill="#b8de29"/>
<rect x="458.57" y="643.88" width="5.06" height="5.72" fill="#bddf26"/>
<rect x="463.03" y="643.88" width="5.06" height="5.72" fill="#c2df23"/>
<rect x="467.49" y="643.88" width="5.06" height="5.72" fill="#c5e021"/>
<rect x="471.94" y="643.88" width="5.06" height="5.72" fill="#c2df23"/>
<rect x="476.4" y="643.88" width="5.06" height="5.72" fill="#c0df25"/>
<rect x="480.86" y="643.88" width="5.06" height="5.72" fill="#bade28"/>
<rect x="485.32" y="643.88" width="5.06" height="5.72" fill="#b2dd2d"/>
<rect x="489.78" y="643.88" width="5.06" height="5.72" fill="#aadc32"/>
<rect x="494.23" y="643.88" width="5.06" height="5.72" fill="#a2da37"/>
<rect x="498.69" y="643.88" width="5.06" height="5.72" fill="#a0da39"/>
<rect x="503.15" y="643.88" width="5.06" height="5.72" fill="#a0da39"/>
<rect x="507.61" y="643.88" width="5.06" height="5.72" fill="#a5db36"/>
<rect x="512.07" y="643.88" width="5.06" height="5.72" fill="#b0dd2f"/>
<rect x="516.52" y="643.88" width="5.06" height="5.72" fill="#b8de29"/>
<rect x="520.98" y="643.88" width="5.06" height="5.72" fill="#bddf26"/>
<rect x="525.44" y="643.88" width="5.06" height="5.72" fill="#c2df23"/>
<rect x="529.9" y="643.88" width="5.06" height="5.72" fill="#c2df23"/>
<rect x="534.36" y="643.88" width="5.06" height="5.72" fill="#c2df23"/>
<rect x="538.81" y="643.88" width="5.06" height="5.72" fill="#c0df25"/>
<rect x="543.27" y="643.88" width="5.06" height="5.72" fill="#bade28"/>
<rect x="547.73" y="643.88" width="5.06" height="5.72" fill="#b5de2b"/>
<rect x="552.19" y="643.88" width="5.06" height="5.72" fill="#addc30"/>
<rect x="556.65" y="643.88" width="5.06" height="5.72" fill="#a8db34"/>
<rect x="561.1" y="643.88" width="5.06" height="5.72" fill="#9dd93b"/>
<rect x="565.56" y="643.88" width="5.06" height="5.72" fill="#93d741"/>
<rect x="570.02" y="643.88" width="5.06" height="5.72" fill="#89d548"/>
<rect x="574.48" y="643.88" width="5.06" height="5.72" fill="#7cd250"/>
<rect x="578.94" y="643.88" width="5.06" height="5.72" fill="#70cf57"/>
<rect x="583.39" y="643.88" width="5.06" height="5.72" fill="#60ca60"/>
<rect x="587.85" y="643.88" width="5.06" height="5.72" fill="#52c569"/>
<rect x="592.31" y="643.88" width="5.06" height="5.72" fill="#42be71"/>
<rect x="596.77" y="643.88" width="5.06" height="5.72" fill="#31b57b"/>
<rect x="601.23" y="643.88" width="5.06" height="5.72" fill="#23a983"/>
<rect x="605.68" y="643.88" width="5.06" height="5.72" fill="#1f968b"/>
<rect x="610.14" y="643.88" width="4.46" height="5.72" fill="#2b758e"/>
</g>
<path d="M396.16,358V649.6M400.62,358V649.6M405.07,358V649.6M409.53,358V649.6M413.99,358V649.6M418.45,358V649.6M422.91,358V649.6M427.36,358V649.6M431.82,358V649.6M436.28,358V649.6M440.74,358V649.6M445.2,358V649.6M449.65,358V649.6M454.11,358V649.6M458.57,358V649.6M463.03,358V649.6M467.49,358V649.6M471.94,358V649.6M476.4,358V649.6M480.86,358V649.6M485.32,358V649.6M489.78,358V649.6M494.23,358V649.6M498.69,358V649.6M503.15,358V649.6M507.61,358V649.6M512.07,358V649.6M516.52,358V649.6M520.98,358V649.6M525.44,358V649.6M529.9,358V649.6M534.36,358V649.6M538.81,358V649.6M543.27,358V649.6M547.73,358V649.6M552.19,358V649.6M556.65,358V649.6M561.1,358V649.6M565.56,358V649.6M570.02,358V649.6M574.48,358V649.6M578.94,358V649.6M583.39,358V649.6M587.85,358V649.6M592.31,358V649.6M596.77,358V649.6M601.23,358V649.6M605.68,358V649.6M610.14,358V649.6M391.7,363.72H614.6M391.7,369.44H614.6M391.7,375.15H614.6M391.7,380.87H614.6M391.7,386.59H614.6M391.7,392.31H614.6M391.7,398.02H614.6M391.7,403.74H614.6M391.7,409.46H614.6M391.7,415.18H614.6M391.7,420.89H614.6M391.7,426.61H614.6M391.7,432.33H614.6M391.7,438.05H614.6M391.7,443.76H614.6M391.7,449.48H614.6M391.7,455.2H614.6M391.7,460.92H614.6M391.7,466.64H614.6M391.7,472.35H614.6M391.7,478.07H614.6M391.7,483.79H614.6M391.7,489.51H614.6M391.7,495.22H614.6M391.7,500.94H614.6M391.7,506.66H614.6M391.7,512.38H614.6M391.7,518.09H614.6M391.7,523.81H614.6M391.7,529.53H614.6M391.7,535.25H614.6M391.7,540.96H614.6M391.7,546.68H614.6M391.7,552.4H614.6M391.7,558.12H614.6M391.7,563.84H614.6M391.7,569.55H614.6M391.7,575.27H614.6M391.7,580.99H614.6M391.7,586.71H614.6M391.7,592.42H614.6M391.7,598.14H614.6M391.7,603.86H614.6M391.7,609.58H614.6M391.7,615.29H614.6M391.7,621.01H614.6M391.7,626.73H614.6M391.7,632.45H614.6M391.7,638.16H614.6M391.7,643.88H614.6" stroke="#fff" stroke-opacity="0.09" stroke-width="1" fill="none"/>
<clipPath id="cclip"><rect x="391.7" y="358" width="222.9" height="291.6"/></clipPath><g clip-path="url(#cclip)">
<polyline points="479.9,359 485.1,366.7 488,378.4 488.6,395.9 488,408.7 489.2,418.7 492.7,427.4 493.9,435 492.7,436.7 496.2,446 493.9,452.4 499.7,460 502.6,471.7 502.6,483.4 501.5,495.1 501.4,507.8 509.4,515.9" fill="none" stroke="#000" stroke-width="6.5" stroke-linejoin="round" stroke-linecap="round"/>
<circle cx="480.8" cy="359.6" r="5"/>
<circle cx="482.21" cy="363.24" r="5"/>
<circle cx="485.28" cy="367.22" r="5"/>
<circle cx="487.35" cy="373.08" r="5"/>
<circle cx="487" cy="378.44" r="5"/>
<circle cx="488.61" cy="382.75" r="5"/>
<circle cx="488.63" cy="387.89" r="5"/>
<circle cx="487.69" cy="394" r="5"/>
<circle cx="489.28" cy="399.04" r="5"/>
<circle cx="487.96" cy="403.39" r="5"/>
<circle cx="487.58" cy="408.98" r="5"/>
<circle cx="489.56" cy="414.91" r="5"/>
<circle cx="488.79" cy="419.46" r="5"/>
<circle cx="491.51" cy="423.68" r="5"/>
<circle cx="493.62" cy="429.37" r="5"/>
<circle cx="492.9" cy="434.93" r="5"/>
<circle cx="494.15" cy="438.75" r="5"/>
<circle cx="495.56" cy="443.43" r="5"/>
<circle cx="494.43" cy="449.22" r="5"/>
<circle cx="495.61" cy="453.89" r="5"/>
<circle cx="497.51" cy="457.14" r="5"/>
<circle cx="499.91" cy="461.94" r="5"/>
<circle cx="502.34" cy="467.82" r="5"/>
<circle cx="501.81" cy="472.43" r="5"/>
<circle cx="502.81" cy="476.94" r="5"/>
<circle cx="503.11" cy="482.81" r="5"/>
<circle cx="501.28" cy="488.53" r="5"/>
<circle cx="502.36" cy="492.93" r="5"/>
<circle cx="501.46" cy="497.8" r="5"/>
<circle cx="500.77" cy="503.89" r="5"/>
<circle cx="502.97" cy="508.93" r="5"/>
<circle cx="505.21" cy="511.74" r="5"/>
<circle cx="509.21" cy="515.57" r="5"/>
<polyline points="509.4,515.9 498.2,520.7 488.5,527.1 478.9,536.8 470.9,543.2 474.9,549.6 469.3,555.2 470.1,567.3 470.9,583.3 472.5,596.1 473.3,618.5 474.9,634.6 476.5,647.4" fill="none" stroke="#000" stroke-width="6.5" stroke-linejoin="round" stroke-linecap="round"/>
<circle cx="508.51" cy="516.5" r="5"/>
<circle cx="505.16" cy="517.94" r="5"/>
<circle cx="499.49" cy="519.55" r="5"/>
<circle cx="494.28" cy="523.09" r="5"/>
<circle cx="491.34" cy="526.34" r="5"/>
<circle cx="485.81" cy="528.9" r="5"/>
<circle cx="482.42" cy="532.65" r="5"/>
<circle cx="479.57" cy="537.35" r="5"/>
<circle cx="473.74" cy="540.54" r="5"/>
<circle cx="471.61" cy="543.18" r="5"/>
<circle cx="474.43" cy="548.12" r="5"/>
<circle cx="471.35" cy="552.89" r="5"/>
<circle cx="470.16" cy="556.47" r="5"/>
<circle cx="469.55" cy="561.22" r="5"/>
<circle cx="469.56" cy="567.32" r="5"/>
<circle cx="471.26" cy="573.1" r="5"/>
<circle cx="469.97" cy="577.62" r="5"/>
<circle cx="470.88" cy="582.78" r="5"/>
<circle cx="472.24" cy="589" r="5"/>
<circle cx="471.33" cy="594.3" r="5"/>
<circle cx="473.12" cy="598.76" r="5"/>
<circle cx="473.02" cy="604.39" r="5"/>
<circle cx="472.2" cy="610.57" r="5"/>
<circle cx="474.03" cy="615.47" r="5"/>
<circle cx="473.19" cy="620.12" r="5"/>
<circle cx="473.65" cy="626.12" r="5"/>
<circle cx="475.45" cy="631.99" r="5"/>
<circle cx="474.41" cy="636.54" r="5"/>
<circle cx="475.97" cy="641.54" r="5"/>
<circle cx="477.07" cy="647.74" r="5"/>
<polyline points="504,516 509.4,527.1 520.7,532 531.9,538.4 536.7,544.8 537.5,556 539.9,572.1 536.7,584.9 535.9,596.1 534.3,618.5 533.5,634.6 534.3,647.4" fill="none" stroke="#000" stroke-width="6.5" stroke-linejoin="round" stroke-linecap="round"/>
<circle cx="503.4" cy="516.6" r="5"/>
<circle cx="506.22" cy="520.7" r="5"/>
<circle cx="509.39" cy="524.98" r="5"/>
<circle cx="511.83" cy="528.76" r="5"/>
<circle cx="518.02" cy="531.17" r="5"/>
<circle cx="522.67" cy="532.59" r="5"/>
<circle cx="526.16" cy="535.17" r="5"/>
<circle cx="532.42" cy="538.7" r="5"/>
<circle cx="534.64" cy="542.69" r="5"/>
<circle cx="536.38" cy="546.54" r="5"/>
<circle cx="538.13" cy="552.23" r="5"/>
<circle cx="537.05" cy="558.28" r="5"/>
<circle cx="538.58" cy="562.96" r="5"/>
<circle cx="539.96" cy="567.61" r="5"/>
<circle cx="538.67" cy="573.58" r="5"/>
<circle cx="538.83" cy="579.16" r="5"/>
<circle cx="537.14" cy="583.47" r="5"/>
<circle cx="535.64" cy="588.54" r="5"/>
<circle cx="536.89" cy="594.74" r="5"/>
<circle cx="535.26" cy="600.02" r="5"/>
<circle cx="534.92" cy="604.43" r="5"/>
<circle cx="535.74" cy="609.99" r="5"/>
<circle cx="533.73" cy="616.12" r="5"/>
<circle cx="534.38" cy="620.96" r="5"/>
<circle cx="534.44" cy="625.57" r="5"/>
<circle cx="532.76" cy="631.53" r="5"/>
<circle cx="534.3" cy="637.37" r="5"/>
<circle cx="533.97" cy="641.89" r="5"/>
<circle cx="533.63" cy="646.87" r="5"/>
</g>
<line x1="414" y1="429.9" x2="593" y2="429.9" stroke="#000" stroke-width="3.75" stroke-dasharray="4 6.1"/>
<line x1="414" y1="521.4" x2="593" y2="521" stroke="#ff0000" stroke-width="3.75" stroke-dasharray="23.8 5.9 4.2 6"/>
<line x1="413.2" y1="618.6" x2="593.2" y2="618.5" stroke="#000" stroke-width="3.75" stroke-dasharray="14.2 5.7"/>
<rect x="396.8" y="361.8" width="44.1" height="38.8" rx="6.5" fill="#fff" stroke="#000" stroke-width="2.8"/>
<text x="404.24" y="387.3" font-size="26.9" textLength="8.04" lengthAdjust="spacingAndGlyphs" fill="#000">(</text>
<text x="412.5" y="387.4" font-size="25.8" textLength="11.6" lengthAdjust="spacingAndGlyphs" fill="#000">c</text>
<text x="424.22" y="387.3" font-size="26.9" textLength="8.04" lengthAdjust="spacingAndGlyphs" fill="#000">)</text>
<rect x="391.7" y="358" width="222.9" height="291.6" fill="none" stroke="#000" stroke-width="2.2"/>
<line x1="391.7" y1="649.6" x2="391.7" y2="658.1" stroke="#000" stroke-width="1.9"/>
<line x1="503.15" y1="649.6" x2="503.15" y2="658.1" stroke="#000" stroke-width="1.9"/>
<line x1="614.6" y1="649.6" x2="614.6" y2="658.1" stroke="#000" stroke-width="1.9"/>
<line x1="382.7" y1="647.1" x2="391.7" y2="647.1" stroke="#000" stroke-width="1.9"/>
<line x1="382.7" y1="575.52" x2="391.7" y2="575.52" stroke="#000" stroke-width="1.9"/>
<line x1="382.7" y1="503.95" x2="391.7" y2="503.95" stroke="#000" stroke-width="1.9"/>
<line x1="382.7" y1="432.38" x2="391.7" y2="432.38" stroke="#000" stroke-width="1.9"/>
<line x1="382.7" y1="360.8" x2="391.7" y2="360.8" stroke="#000" stroke-width="1.9"/>
<text x="385.47" y="685.2" font-size="25.8" textLength="13.57" lengthAdjust="spacingAndGlyphs" fill="#000">0</text>
<text x="503.2" y="681.5" font-size="25.8" text-anchor="middle" font-style="italic" fill="#000">a</text>
<text x="608.6" y="685" font-size="25.8" textLength="13.07" lengthAdjust="spacingAndGlyphs" fill="#000">1</text>
<text x="362.3" y="370" font-size="25.8" textLength="12.5" lengthAdjust="spacingAndGlyphs" fill="#000">1</text>
<text x="353.35" y="656" font-size="25.8" textLength="21.4" lengthAdjust="spacingAndGlyphs" fill="#000">-1</text>
<g transform="translate(361.8,512.9) rotate(-90)"><text x="0" y="0" font-size="25.8" textLength="17.1" lengthAdjust="spacingAndGlyphs">H</text></g>
<defs><linearGradient id="vir" x1="0" y1="1" x2="0" y2="0">
<stop offset="0" stop-color="#440154"/>
<stop offset="0.05" stop-color="#471365"/>
<stop offset="0.1" stop-color="#482475"/>
<stop offset="0.15" stop-color="#463480"/>
<stop offset="0.2" stop-color="#414487"/>
<stop offset="0.25" stop-color="#3b528b"/>
<stop offset="0.3" stop-color="#355f8d"/>
<stop offset="0.35" stop-color="#2f6c8e"/>
<stop offset="0.4" stop-color="#2a788e"/>
<stop offset="0.45" stop-color="#25848e"/>
<stop offset="0.5" stop-color="#21918c"/>
<stop offset="0.55" stop-color="#1e9c89"/>
<stop offset="0.6" stop-color="#22a884"/>
<stop offset="0.65" stop-color="#2fb47c"/>
<stop offset="0.7" stop-color="#44bf70"/>
<stop offset="0.75" stop-color="#5ec962"/>
<stop offset="0.8" stop-color="#7ad151"/>
<stop offset="0.85" stop-color="#9bd93c"/>
<stop offset="0.9" stop-color="#bddf26"/>
<stop offset="0.95" stop-color="#dfe318"/>
<stop offset="1" stop-color="#fde725"/>
</linearGradient></defs>
<rect x="629.3" y="358" width="14.1" height="291.6" fill="url(#vir)" stroke="#000" stroke-width="2.1"/>
<line x1="643.4" y1="622.9" x2="652.1" y2="622.9" stroke="#000" stroke-width="1.9"/>
<line x1="643.4" y1="543.6" x2="652.1" y2="543.6" stroke="#000" stroke-width="1.9"/>
<line x1="643.4" y1="464.3" x2="652.1" y2="464.3" stroke="#000" stroke-width="1.9"/>
<line x1="643.4" y1="385" x2="652.1" y2="385" stroke="#000" stroke-width="1.9"/>
<text x="661.2" y="631.5" font-size="25.8" text-anchor="start" textLength="24" lengthAdjust="spacingAndGlyphs" fill="#000">20</text>
<text x="661.2" y="393.6" font-size="25.8" text-anchor="start" textLength="24" lengthAdjust="spacingAndGlyphs" fill="#000">80</text>
<g transform="translate(678.7,531.1) rotate(-90)"><text x="0" y="0" font-size="25.8" textLength="54.1" lengthAdjust="spacingAndGlyphs">MSR</text></g>
</svg></body></html>
